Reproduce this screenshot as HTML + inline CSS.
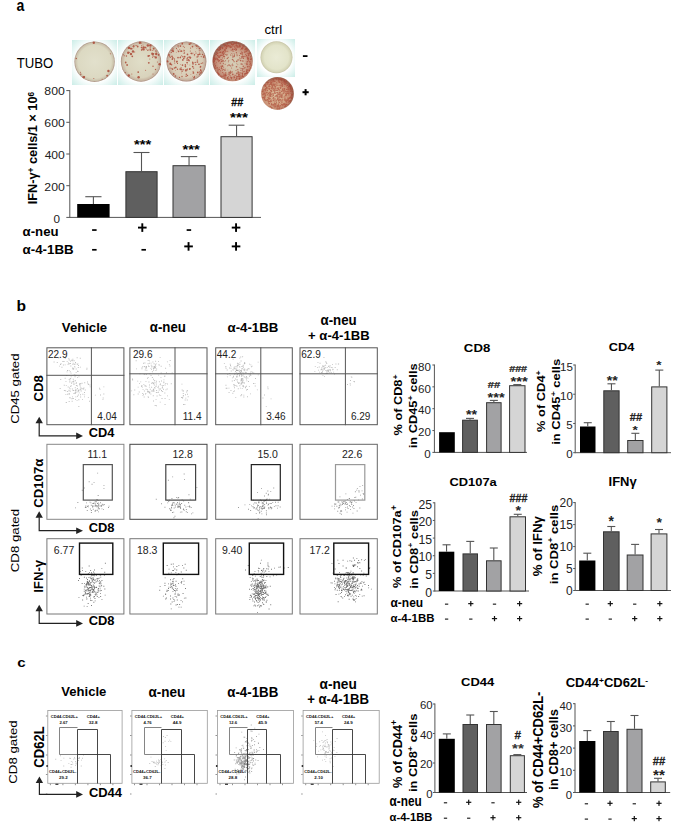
<!DOCTYPE html><html><head><meta charset="utf-8"><style>
html,body{margin:0;padding:0;background:#fff;width:676px;height:827px;overflow:hidden}
svg{display:block}
text{font-family:"Liberation Sans",sans-serif}
</style></head><body><svg width="676" height="827" viewBox="0 0 676 827">
<defs>
<radialGradient id="wbg" cx="50%" cy="50%" r="72%"><stop offset="60%" stop-color="#ffffff"/><stop offset="100%" stop-color="#c8ece6"/></radialGradient>
<radialGradient id="gneg" cx="50%" cy="50%" r="50%"><stop offset="0%" stop-color="#eaebd6"/><stop offset="75%" stop-color="#e3e4ca"/><stop offset="92%" stop-color="#d6d6b8"/><stop offset="100%" stop-color="#c4c2a4"/></radialGradient>
<radialGradient id="g_few" cx="50%" cy="50%" r="50%"><stop offset="0%" stop-color="#e2e0cc"/><stop offset="82%" stop-color="#dcd9c2"/><stop offset="94%" stop-color="#cbc2ac"/><stop offset="100%" stop-color="#a89080"/></radialGradient>
<radialGradient id="g_mid" cx="50%" cy="50%" r="50%"><stop offset="0%" stop-color="#e0dec8"/><stop offset="80%" stop-color="#d9d3bc"/><stop offset="94%" stop-color="#c8b6a2"/><stop offset="100%" stop-color="#a48878"/></radialGradient>
<radialGradient id="g_many" cx="50%" cy="50%" r="50%"><stop offset="0%" stop-color="#dfd9c3"/><stop offset="80%" stop-color="#d8ccb6"/><stop offset="94%" stop-color="#c6ae9c"/><stop offset="100%" stop-color="#a07e70"/></radialGradient>
<radialGradient id="g_dense" cx="52%" cy="55%" r="50%"><stop offset="0%" stop-color="#d6cfb8"/><stop offset="45%" stop-color="#d2c0a8"/><stop offset="75%" stop-color="#c89882"/><stop offset="92%" stop-color="#bc826c"/><stop offset="100%" stop-color="#9c6858"/></radialGradient>
<radialGradient id="g_pos" cx="45%" cy="55%" r="50%"><stop offset="0%" stop-color="#dcc0a0"/><stop offset="60%" stop-color="#d4a888"/><stop offset="88%" stop-color="#c48a70"/><stop offset="100%" stop-color="#a06450"/></radialGradient>
<filter id="bl" x="-5%" y="-5%" width="110%" height="110%"><feGaussianBlur stdDeviation="0.45"/></filter>
</defs>
<rect x="72" y="40" width="45" height="45" fill="url(#wbg)"/><rect x="118" y="40" width="45" height="45" fill="url(#wbg)"/><rect x="164" y="40" width="45" height="45" fill="url(#wbg)"/><rect x="210" y="40" width="45" height="45" fill="url(#wbg)"/><rect x="257" y="39" width="38" height="38" fill="url(#wbg)"/><circle cx="94.6" cy="61.7" r="20.2" fill="url(#g_few)"/><g fill="#a8402f" opacity="0.8" filter="url(#bl)"><circle cx="107.1" cy="75.7" r="0.9"/><circle cx="80.8" cy="74.2" r="0.7"/><circle cx="108.4" cy="71.0" r="1.2"/><circle cx="84.3" cy="77.2" r="0.7"/><circle cx="93.8" cy="78.5" r="0.5"/><circle cx="80.5" cy="72.2" r="0.5"/><circle cx="76.3" cy="58.5" r="0.7"/><circle cx="84.2" cy="76.8" r="0.9"/><circle cx="110.4" cy="53.8" r="0.5"/><circle cx="102.1" cy="79.3" r="0.5"/><circle cx="93.8" cy="42.8" r="1.2"/><circle cx="83.5" cy="77.1" r="1.2"/></g><circle cx="141.0" cy="61.5" r="20.15" fill="url(#g_mid)"/><g fill="#a8402f" opacity="0.8" filter="url(#bl)"><circle cx="149.8" cy="59.0" r="0.5"/><circle cx="153.6" cy="48.7" r="0.9"/><circle cx="143.5" cy="49.4" r="1.2"/><circle cx="129.3" cy="47.6" r="0.9"/><circle cx="134.7" cy="52.0" r="0.5"/><circle cx="128.8" cy="75.5" r="1.2"/><circle cx="143.0" cy="48.7" r="0.5"/><circle cx="141.4" cy="47.5" r="0.7"/><circle cx="137.7" cy="46.5" r="0.9"/><circle cx="158.6" cy="54.8" r="0.7"/><circle cx="150.2" cy="48.0" r="0.7"/><circle cx="125.7" cy="62.5" r="0.9"/><circle cx="152.8" cy="54.1" r="1.2"/><circle cx="133.9" cy="46.4" r="0.7"/><circle cx="150.5" cy="49.9" r="0.9"/><circle cx="155.8" cy="57.4" r="1.2"/><circle cx="141.6" cy="42.9" r="0.5"/><circle cx="124.3" cy="55.7" r="0.5"/><circle cx="153.0" cy="66.2" r="0.7"/><circle cx="133.8" cy="45.6" r="0.7"/><circle cx="128.9" cy="47.9" r="1.2"/><circle cx="148.3" cy="56.0" r="0.9"/><circle cx="145.6" cy="70.2" r="0.5"/><circle cx="148.8" cy="62.8" r="0.9"/><circle cx="153.0" cy="73.9" r="0.5"/><circle cx="152.6" cy="57.4" r="0.5"/><circle cx="157.4" cy="61.9" r="0.5"/><circle cx="133.8" cy="47.7" r="0.5"/><circle cx="155.9" cy="51.0" r="0.7"/><circle cx="146.4" cy="49.0" r="0.5"/><circle cx="159.6" cy="64.3" r="1.2"/><circle cx="152.2" cy="53.4" r="0.9"/><circle cx="126.4" cy="56.0" r="0.7"/><circle cx="131.0" cy="54.0" r="1.2"/><circle cx="158.4" cy="55.0" r="0.7"/><circle cx="131.7" cy="48.7" r="0.9"/><circle cx="141.7" cy="50.4" r="0.5"/><circle cx="141.4" cy="49.7" r="0.5"/><circle cx="133.0" cy="51.5" r="1.2"/><circle cx="136.1" cy="45.6" r="0.7"/><circle cx="141.5" cy="45.7" r="0.5"/><circle cx="152.8" cy="50.6" r="0.5"/><circle cx="123.4" cy="54.8" r="0.5"/><circle cx="154.2" cy="56.6" r="0.5"/><circle cx="130.4" cy="54.6" r="0.5"/><circle cx="146.0" cy="47.6" r="0.5"/><circle cx="133.1" cy="46.6" r="0.7"/><circle cx="143.5" cy="47.5" r="1.2"/><circle cx="151.9" cy="54.1" r="0.5"/><circle cx="155.5" cy="69.5" r="0.7"/><circle cx="147.8" cy="45.5" r="1.2"/><circle cx="138.2" cy="72.1" r="0.9"/><circle cx="139.9" cy="42.8" r="1.2"/><circle cx="153.0" cy="56.0" r="0.7"/><circle cx="143.0" cy="44.9" r="0.5"/><circle cx="132.3" cy="56.3" r="0.9"/><circle cx="153.8" cy="48.3" r="0.5"/><circle cx="156.1" cy="52.1" r="0.5"/><circle cx="130.7" cy="48.6" r="0.9"/><circle cx="128.2" cy="52.8" r="1.2"/><circle cx="147.8" cy="50.2" r="0.7"/><circle cx="127.1" cy="65.0" r="0.9"/><circle cx="129.6" cy="52.3" r="0.5"/><circle cx="149.0" cy="49.7" r="0.5"/><circle cx="150.4" cy="45.4" r="1.2"/><circle cx="150.4" cy="45.7" r="0.5"/><circle cx="141.9" cy="49.3" r="0.7"/><circle cx="125.4" cy="72.4" r="0.5"/><circle cx="153.7" cy="53.8" r="0.7"/><circle cx="156.2" cy="54.0" r="1.2"/><circle cx="149.4" cy="55.8" r="0.7"/><circle cx="138.6" cy="77.3" r="1.2"/><circle cx="145.1" cy="47.5" r="0.9"/><circle cx="150.6" cy="45.2" r="0.5"/><circle cx="131.8" cy="74.1" r="0.5"/></g><circle cx="186.4" cy="61.5" r="20.0" fill="url(#g_many)"/><g fill="#a8402f" opacity="0.8" filter="url(#bl)"><circle cx="187.5" cy="75.5" r="0.7"/><circle cx="197.7" cy="54.9" r="0.4"/><circle cx="172.1" cy="50.3" r="0.85"/><circle cx="185.9" cy="70.7" r="0.85"/><circle cx="172.8" cy="57.9" r="0.85"/><circle cx="181.7" cy="55.8" r="0.55"/><circle cx="195.7" cy="51.4" r="0.4"/><circle cx="184.1" cy="57.3" r="0.4"/><circle cx="185.3" cy="64.7" r="0.7"/><circle cx="170.5" cy="64.2" r="0.85"/><circle cx="182.3" cy="43.7" r="0.85"/><circle cx="184.4" cy="47.2" r="0.55"/><circle cx="190.7" cy="57.4" r="0.55"/><circle cx="176.8" cy="61.8" r="0.85"/><circle cx="189.6" cy="44.2" r="0.85"/><circle cx="174.6" cy="61.0" r="0.7"/><circle cx="174.5" cy="58.9" r="0.55"/><circle cx="199.3" cy="52.6" r="0.4"/><circle cx="198.1" cy="46.7" r="0.55"/><circle cx="183.0" cy="51.2" r="0.4"/><circle cx="184.4" cy="53.0" r="0.7"/><circle cx="185.4" cy="66.2" r="0.85"/><circle cx="200.8" cy="70.5" r="0.85"/><circle cx="188.6" cy="59.9" r="0.85"/><circle cx="188.5" cy="43.9" r="0.4"/><circle cx="173.3" cy="51.3" r="0.85"/><circle cx="184.2" cy="50.8" r="0.7"/><circle cx="167.4" cy="60.9" r="0.7"/><circle cx="192.6" cy="61.8" r="0.4"/><circle cx="204.2" cy="55.6" r="0.7"/><circle cx="180.6" cy="56.7" r="0.4"/><circle cx="197.4" cy="60.1" r="0.7"/><circle cx="203.8" cy="56.9" r="0.85"/><circle cx="173.7" cy="73.9" r="0.85"/><circle cx="177.3" cy="50.0" r="0.4"/><circle cx="173.0" cy="48.9" r="0.7"/><circle cx="171.8" cy="68.3" r="0.55"/><circle cx="198.0" cy="56.6" r="0.7"/><circle cx="172.5" cy="59.6" r="0.4"/><circle cx="190.9" cy="43.2" r="0.7"/><circle cx="201.2" cy="63.4" r="0.55"/><circle cx="200.4" cy="67.0" r="0.85"/><circle cx="175.4" cy="76.0" r="0.7"/><circle cx="186.2" cy="58.7" r="0.4"/><circle cx="189.1" cy="60.7" r="0.7"/><circle cx="186.3" cy="74.3" r="0.7"/><circle cx="190.0" cy="68.8" r="0.7"/><circle cx="191.8" cy="53.4" r="0.85"/><circle cx="199.9" cy="72.0" r="0.55"/><circle cx="183.1" cy="69.8" r="0.7"/><circle cx="187.0" cy="69.7" r="0.85"/><circle cx="182.9" cy="56.7" r="0.7"/><circle cx="201.2" cy="56.6" r="0.55"/><circle cx="170.1" cy="68.1" r="0.55"/><circle cx="200.7" cy="69.4" r="0.55"/><circle cx="196.0" cy="53.1" r="0.55"/><circle cx="187.2" cy="58.1" r="0.55"/><circle cx="179.5" cy="77.4" r="0.55"/><circle cx="193.7" cy="53.1" r="0.4"/><circle cx="190.3" cy="51.0" r="0.55"/><circle cx="174.4" cy="68.0" r="0.7"/><circle cx="171.6" cy="64.8" r="0.7"/><circle cx="175.8" cy="67.4" r="0.85"/><circle cx="187.1" cy="62.6" r="0.85"/><circle cx="168.8" cy="54.7" r="0.55"/><circle cx="199.0" cy="64.1" r="0.7"/><circle cx="169.2" cy="56.6" r="0.4"/><circle cx="198.1" cy="46.9" r="0.4"/><circle cx="187.9" cy="57.8" r="0.55"/><circle cx="200.7" cy="50.6" r="0.4"/><circle cx="202.7" cy="62.9" r="0.55"/><circle cx="177.1" cy="61.3" r="0.4"/><circle cx="174.3" cy="59.6" r="0.4"/><circle cx="181.2" cy="69.5" r="0.85"/><circle cx="188.2" cy="57.1" r="0.55"/><circle cx="190.9" cy="74.6" r="0.4"/><circle cx="194.4" cy="76.4" r="0.55"/><circle cx="187.1" cy="60.0" r="0.85"/><circle cx="195.8" cy="64.6" r="0.7"/><circle cx="176.3" cy="52.2" r="0.4"/><circle cx="169.9" cy="64.3" r="0.4"/><circle cx="196.8" cy="48.4" r="0.4"/><circle cx="189.9" cy="65.0" r="0.4"/><circle cx="189.8" cy="57.1" r="0.85"/><circle cx="182.1" cy="71.3" r="0.7"/><circle cx="177.5" cy="69.3" r="0.7"/><circle cx="181.1" cy="67.9" r="0.7"/><circle cx="180.3" cy="64.4" r="0.4"/><circle cx="183.9" cy="50.0" r="0.4"/><circle cx="182.8" cy="59.9" r="0.85"/><circle cx="173.1" cy="51.2" r="0.85"/><circle cx="183.8" cy="58.5" r="0.85"/><circle cx="200.6" cy="66.4" r="0.7"/><circle cx="172.5" cy="69.1" r="0.85"/><circle cx="195.2" cy="62.5" r="0.7"/><circle cx="184.7" cy="56.7" r="0.85"/><circle cx="187.5" cy="68.3" r="0.4"/><circle cx="197.1" cy="57.0" r="0.7"/><circle cx="197.8" cy="72.4" r="0.85"/><circle cx="178.3" cy="47.4" r="0.4"/><circle cx="192.5" cy="46.6" r="0.85"/><circle cx="196.8" cy="74.6" r="0.4"/><circle cx="172.3" cy="59.1" r="0.85"/><circle cx="187.7" cy="64.1" r="0.4"/><circle cx="192.8" cy="62.5" r="0.85"/><circle cx="196.0" cy="45.6" r="0.7"/><circle cx="187.5" cy="58.0" r="0.55"/><circle cx="199.3" cy="71.7" r="0.4"/><circle cx="169.6" cy="56.0" r="0.55"/><circle cx="190.8" cy="53.3" r="0.55"/><circle cx="178.6" cy="51.3" r="0.85"/><circle cx="186.1" cy="76.2" r="0.7"/><circle cx="168.9" cy="55.0" r="0.85"/><circle cx="167.7" cy="61.5" r="0.85"/><circle cx="196.8" cy="46.0" r="0.85"/><circle cx="180.4" cy="46.1" r="0.85"/><circle cx="193.1" cy="71.5" r="0.55"/><circle cx="193.4" cy="72.9" r="0.85"/><circle cx="198.2" cy="54.7" r="0.85"/><circle cx="171.3" cy="52.4" r="0.55"/><circle cx="185.5" cy="69.9" r="0.7"/><circle cx="202.5" cy="54.5" r="0.7"/><circle cx="178.1" cy="46.0" r="0.7"/><circle cx="194.5" cy="54.8" r="0.7"/><circle cx="174.7" cy="63.0" r="0.55"/><circle cx="178.0" cy="57.6" r="0.85"/><circle cx="187.5" cy="54.4" r="0.85"/><circle cx="183.8" cy="53.3" r="0.4"/><circle cx="170.4" cy="63.4" r="0.85"/><circle cx="190.1" cy="44.0" r="0.4"/><circle cx="177.5" cy="63.4" r="0.55"/><circle cx="176.4" cy="48.1" r="0.4"/><circle cx="203.4" cy="57.0" r="0.55"/><circle cx="199.3" cy="50.8" r="0.55"/><circle cx="192.5" cy="76.2" r="0.4"/><circle cx="194.2" cy="55.8" r="0.4"/><circle cx="181.6" cy="72.9" r="0.4"/><circle cx="193.6" cy="68.1" r="0.7"/><circle cx="198.9" cy="64.4" r="0.7"/><circle cx="197.4" cy="62.0" r="0.85"/><circle cx="182.5" cy="65.1" r="0.85"/><circle cx="175.5" cy="70.4" r="0.4"/><circle cx="190.3" cy="58.0" r="0.85"/><circle cx="200.0" cy="73.1" r="0.7"/><circle cx="201.5" cy="72.0" r="0.7"/><circle cx="181.4" cy="51.1" r="0.85"/><circle cx="182.0" cy="76.5" r="0.7"/><circle cx="200.8" cy="73.0" r="0.7"/><circle cx="179.9" cy="49.2" r="0.4"/><circle cx="179.6" cy="49.8" r="0.4"/><circle cx="183.3" cy="46.2" r="0.55"/><circle cx="176.5" cy="48.6" r="0.55"/><circle cx="194.1" cy="77.7" r="0.85"/><circle cx="199.5" cy="74.3" r="0.55"/><circle cx="199.8" cy="54.2" r="0.85"/><circle cx="172.0" cy="56.3" r="0.85"/><circle cx="169.7" cy="63.4" r="0.4"/><circle cx="192.7" cy="66.6" r="0.85"/><circle cx="180.2" cy="69.1" r="0.85"/><circle cx="193.0" cy="63.8" r="0.85"/><circle cx="177.0" cy="61.2" r="0.7"/><circle cx="199.5" cy="48.5" r="0.85"/><circle cx="170.3" cy="57.2" r="0.7"/><circle cx="167.4" cy="61.7" r="0.55"/><circle cx="185.6" cy="67.4" r="0.4"/><circle cx="169.7" cy="54.4" r="0.4"/><circle cx="189.7" cy="69.1" r="0.85"/><circle cx="180.7" cy="51.1" r="0.55"/><circle cx="180.3" cy="57.5" r="0.85"/><circle cx="190.6" cy="48.1" r="0.55"/></g><circle cx="232.6" cy="61.1" r="20.2" fill="url(#g_dense)"/><g fill="#a8402f" opacity="0.7" filter="url(#bl)"><circle cx="234.0" cy="76.5" r="0.55"/><circle cx="246.6" cy="70.0" r="0.65"/><circle cx="234.4" cy="55.7" r="0.65"/><circle cx="230.5" cy="73.3" r="0.55"/><circle cx="248.7" cy="55.1" r="0.65"/><circle cx="237.2" cy="47.1" r="0.65"/><circle cx="247.5" cy="70.1" r="0.55"/><circle cx="237.9" cy="72.0" r="0.65"/><circle cx="250.2" cy="61.9" r="0.65"/><circle cx="241.6" cy="48.4" r="0.65"/><circle cx="219.3" cy="67.3" r="0.45"/><circle cx="249.3" cy="70.5" r="0.8"/><circle cx="227.3" cy="44.5" r="0.45"/><circle cx="218.0" cy="70.0" r="0.65"/><circle cx="239.4" cy="76.5" r="0.55"/><circle cx="242.2" cy="54.5" r="0.55"/><circle cx="229.4" cy="79.3" r="0.45"/><circle cx="224.8" cy="75.0" r="0.45"/><circle cx="220.8" cy="76.0" r="0.65"/><circle cx="232.4" cy="59.5" r="0.65"/><circle cx="225.1" cy="76.6" r="0.45"/><circle cx="228.3" cy="76.3" r="0.55"/><circle cx="232.6" cy="74.2" r="0.45"/><circle cx="222.7" cy="72.6" r="0.65"/><circle cx="248.4" cy="60.8" r="0.55"/><circle cx="222.3" cy="66.4" r="0.45"/><circle cx="231.1" cy="42.1" r="0.45"/><circle cx="218.4" cy="56.9" r="0.45"/><circle cx="245.5" cy="73.6" r="0.8"/><circle cx="224.7" cy="50.0" r="0.8"/><circle cx="219.4" cy="69.4" r="0.55"/><circle cx="224.3" cy="50.1" r="0.55"/><circle cx="246.4" cy="63.9" r="0.55"/><circle cx="234.6" cy="47.0" r="0.65"/><circle cx="241.2" cy="64.0" r="0.8"/><circle cx="250.6" cy="56.8" r="0.45"/><circle cx="218.9" cy="61.6" r="0.55"/><circle cx="223.2" cy="76.6" r="0.65"/><circle cx="239.4" cy="45.2" r="0.65"/><circle cx="224.0" cy="74.9" r="0.65"/><circle cx="243.5" cy="58.4" r="0.55"/><circle cx="234.5" cy="42.8" r="0.55"/><circle cx="226.5" cy="46.3" r="0.8"/><circle cx="241.3" cy="56.8" r="0.55"/><circle cx="236.7" cy="61.4" r="0.8"/><circle cx="246.0" cy="48.2" r="0.55"/><circle cx="242.2" cy="76.6" r="0.8"/><circle cx="242.9" cy="55.0" r="0.45"/><circle cx="223.2" cy="61.8" r="0.55"/><circle cx="250.5" cy="65.9" r="0.45"/><circle cx="229.2" cy="72.4" r="0.8"/><circle cx="227.6" cy="65.7" r="0.55"/><circle cx="233.0" cy="53.4" r="0.45"/><circle cx="246.6" cy="73.3" r="0.8"/><circle cx="218.9" cy="69.1" r="0.55"/><circle cx="227.1" cy="54.7" r="0.45"/><circle cx="238.1" cy="43.4" r="0.55"/><circle cx="227.6" cy="43.3" r="0.65"/><circle cx="222.7" cy="58.4" r="0.45"/><circle cx="225.2" cy="51.1" r="0.8"/><circle cx="217.2" cy="58.5" r="0.65"/><circle cx="225.1" cy="70.5" r="0.45"/><circle cx="226.1" cy="47.9" r="0.8"/><circle cx="236.4" cy="42.6" r="0.8"/><circle cx="222.8" cy="52.7" r="0.65"/><circle cx="248.3" cy="59.7" r="0.55"/><circle cx="226.1" cy="48.2" r="0.65"/><circle cx="235.8" cy="70.5" r="0.45"/><circle cx="249.1" cy="69.8" r="0.65"/><circle cx="224.3" cy="49.0" r="0.45"/><circle cx="218.4" cy="50.3" r="0.45"/><circle cx="236.3" cy="49.9" r="0.55"/><circle cx="236.7" cy="70.1" r="0.45"/><circle cx="232.9" cy="57.0" r="0.8"/><circle cx="224.9" cy="45.9" r="0.65"/><circle cx="243.8" cy="46.3" r="0.55"/><circle cx="244.3" cy="52.2" r="0.55"/><circle cx="232.2" cy="44.7" r="0.8"/><circle cx="245.1" cy="51.9" r="0.65"/><circle cx="230.4" cy="71.1" r="0.55"/><circle cx="245.9" cy="51.1" r="0.65"/><circle cx="223.7" cy="67.2" r="0.45"/><circle cx="223.3" cy="63.6" r="0.65"/><circle cx="222.9" cy="53.7" r="0.65"/><circle cx="216.6" cy="62.8" r="0.45"/><circle cx="241.3" cy="72.9" r="0.45"/><circle cx="237.8" cy="69.7" r="0.65"/><circle cx="250.3" cy="63.2" r="0.55"/><circle cx="245.0" cy="63.6" r="0.45"/><circle cx="244.9" cy="49.4" r="0.55"/><circle cx="230.4" cy="42.3" r="0.45"/><circle cx="216.2" cy="54.6" r="0.55"/><circle cx="214.2" cy="60.8" r="0.8"/><circle cx="219.4" cy="60.5" r="0.65"/><circle cx="218.0" cy="59.7" r="0.8"/><circle cx="225.2" cy="74.9" r="0.45"/><circle cx="230.0" cy="75.5" r="0.55"/><circle cx="247.2" cy="69.8" r="0.45"/><circle cx="234.4" cy="77.1" r="0.55"/><circle cx="245.9" cy="49.4" r="0.8"/><circle cx="224.1" cy="75.2" r="0.55"/><circle cx="247.2" cy="72.8" r="0.65"/><circle cx="239.7" cy="57.8" r="0.45"/><circle cx="239.8" cy="46.0" r="0.65"/><circle cx="236.5" cy="43.2" r="0.45"/><circle cx="241.5" cy="53.9" r="0.45"/><circle cx="217.5" cy="49.4" r="0.65"/><circle cx="242.7" cy="56.2" r="0.55"/><circle cx="247.1" cy="64.7" r="0.55"/><circle cx="226.3" cy="43.1" r="0.45"/><circle cx="245.6" cy="67.3" r="0.45"/><circle cx="233.6" cy="60.3" r="0.55"/><circle cx="236.7" cy="78.4" r="0.65"/><circle cx="238.8" cy="47.0" r="0.8"/><circle cx="251.2" cy="65.1" r="0.65"/><circle cx="219.9" cy="56.1" r="0.8"/><circle cx="225.6" cy="75.6" r="0.8"/><circle cx="248.9" cy="53.7" r="0.8"/><circle cx="240.0" cy="58.7" r="0.55"/><circle cx="232.2" cy="71.9" r="0.65"/><circle cx="219.3" cy="50.2" r="0.65"/><circle cx="236.8" cy="63.7" r="0.45"/><circle cx="230.8" cy="55.3" r="0.55"/><circle cx="242.3" cy="53.2" r="0.65"/><circle cx="246.2" cy="61.8" r="0.45"/><circle cx="232.8" cy="65.2" r="0.65"/><circle cx="227.6" cy="77.7" r="0.45"/><circle cx="226.5" cy="51.3" r="0.45"/><circle cx="233.0" cy="51.1" r="0.65"/><circle cx="247.1" cy="64.3" r="0.65"/><circle cx="250.4" cy="59.6" r="0.45"/><circle cx="242.2" cy="58.4" r="0.45"/><circle cx="223.9" cy="44.5" r="0.8"/><circle cx="242.8" cy="68.9" r="0.8"/><circle cx="220.7" cy="52.3" r="0.8"/><circle cx="232.2" cy="50.6" r="0.45"/><circle cx="238.7" cy="74.4" r="0.65"/><circle cx="217.3" cy="53.5" r="0.65"/><circle cx="223.3" cy="69.4" r="0.55"/><circle cx="239.6" cy="78.9" r="0.55"/><circle cx="247.1" cy="63.0" r="0.65"/><circle cx="242.9" cy="56.9" r="0.65"/><circle cx="234.1" cy="56.4" r="0.8"/><circle cx="225.3" cy="54.5" r="0.55"/><circle cx="214.8" cy="67.2" r="0.8"/><circle cx="236.7" cy="77.5" r="0.45"/><circle cx="247.6" cy="49.4" r="0.45"/><circle cx="239.7" cy="76.5" r="0.45"/><circle cx="230.1" cy="45.5" r="0.55"/><circle cx="220.4" cy="49.4" r="0.55"/><circle cx="216.9" cy="67.9" r="0.55"/><circle cx="231.2" cy="50.1" r="0.65"/><circle cx="231.8" cy="77.6" r="0.55"/><circle cx="229.0" cy="65.1" r="0.8"/><circle cx="240.7" cy="46.1" r="0.55"/><circle cx="250.2" cy="59.7" r="0.45"/><circle cx="214.3" cy="56.6" r="0.45"/><circle cx="236.2" cy="45.0" r="0.65"/><circle cx="219.5" cy="48.0" r="0.65"/><circle cx="236.3" cy="75.1" r="0.45"/><circle cx="244.5" cy="51.0" r="0.45"/><circle cx="221.9" cy="76.5" r="0.65"/><circle cx="243.3" cy="66.3" r="0.8"/><circle cx="235.9" cy="47.9" r="0.55"/><circle cx="240.4" cy="44.0" r="0.45"/><circle cx="242.3" cy="61.0" r="0.65"/><circle cx="221.0" cy="59.7" r="0.65"/><circle cx="224.5" cy="46.9" r="0.45"/><circle cx="226.8" cy="46.5" r="0.55"/><circle cx="239.4" cy="55.6" r="0.65"/><circle cx="224.0" cy="46.6" r="0.45"/><circle cx="223.6" cy="54.4" r="0.65"/><circle cx="218.5" cy="57.0" r="0.65"/><circle cx="247.4" cy="57.7" r="0.8"/><circle cx="232.8" cy="74.4" r="0.8"/><circle cx="243.3" cy="61.0" r="0.55"/><circle cx="231.4" cy="77.8" r="0.8"/><circle cx="244.9" cy="56.5" r="0.65"/><circle cx="242.3" cy="47.8" r="0.65"/><circle cx="232.0" cy="66.0" r="0.45"/><circle cx="237.1" cy="55.8" r="0.55"/><circle cx="241.1" cy="78.3" r="0.45"/><circle cx="213.9" cy="58.6" r="0.55"/><circle cx="235.8" cy="79.8" r="0.8"/><circle cx="218.3" cy="73.5" r="0.8"/><circle cx="228.0" cy="78.6" r="0.45"/><circle cx="238.7" cy="75.2" r="0.55"/><circle cx="217.4" cy="67.8" r="0.65"/><circle cx="223.0" cy="75.6" r="0.45"/><circle cx="223.9" cy="73.7" r="0.55"/><circle cx="224.6" cy="61.6" r="0.45"/><circle cx="220.6" cy="70.7" r="0.55"/><circle cx="232.7" cy="48.8" r="0.55"/><circle cx="215.4" cy="65.9" r="0.8"/><circle cx="224.9" cy="78.1" r="0.8"/><circle cx="247.0" cy="50.2" r="0.65"/><circle cx="240.7" cy="53.6" r="0.8"/><circle cx="215.6" cy="68.5" r="0.55"/><circle cx="245.9" cy="54.3" r="0.45"/><circle cx="221.8" cy="59.7" r="0.55"/><circle cx="228.2" cy="57.3" r="0.65"/><circle cx="247.2" cy="53.5" r="0.45"/><circle cx="221.5" cy="61.5" r="0.8"/><circle cx="234.1" cy="43.4" r="0.65"/><circle cx="236.9" cy="73.4" r="0.8"/><circle cx="234.3" cy="49.3" r="0.8"/><circle cx="231.7" cy="44.8" r="0.45"/><circle cx="231.9" cy="46.9" r="0.55"/><circle cx="246.2" cy="48.8" r="0.8"/><circle cx="239.0" cy="59.2" r="0.45"/><circle cx="247.6" cy="61.3" r="0.65"/><circle cx="236.4" cy="52.7" r="0.65"/><circle cx="235.6" cy="50.5" r="0.45"/><circle cx="230.1" cy="47.4" r="0.45"/><circle cx="219.6" cy="57.4" r="0.55"/><circle cx="213.7" cy="59.5" r="0.8"/><circle cx="225.4" cy="74.8" r="0.55"/><circle cx="230.8" cy="54.3" r="0.45"/><circle cx="224.0" cy="53.4" r="0.65"/><circle cx="247.2" cy="50.6" r="0.45"/><circle cx="236.9" cy="76.7" r="0.8"/><circle cx="225.5" cy="68.9" r="0.45"/><circle cx="242.9" cy="46.0" r="0.8"/><circle cx="215.1" cy="59.7" r="0.55"/><circle cx="242.4" cy="73.6" r="0.8"/><circle cx="242.8" cy="47.9" r="0.55"/><circle cx="242.9" cy="47.9" r="0.65"/><circle cx="217.7" cy="72.2" r="0.65"/><circle cx="235.4" cy="48.8" r="0.55"/><circle cx="241.9" cy="57.1" r="0.8"/><circle cx="225.5" cy="49.7" r="0.55"/><circle cx="216.1" cy="54.3" r="0.65"/><circle cx="249.7" cy="64.5" r="0.45"/><circle cx="230.7" cy="71.6" r="0.55"/><circle cx="244.1" cy="71.4" r="0.65"/><circle cx="249.5" cy="61.8" r="0.55"/><circle cx="231.1" cy="43.5" r="0.55"/><circle cx="240.8" cy="49.7" r="0.55"/><circle cx="225.7" cy="73.0" r="0.8"/><circle cx="248.5" cy="55.1" r="0.65"/><circle cx="216.9" cy="52.7" r="0.65"/><circle cx="227.9" cy="70.0" r="0.45"/><circle cx="237.5" cy="47.7" r="0.45"/><circle cx="228.6" cy="45.8" r="0.8"/><circle cx="227.9" cy="47.6" r="0.45"/><circle cx="222.1" cy="53.3" r="0.55"/><circle cx="227.7" cy="51.3" r="0.55"/><circle cx="223.4" cy="51.6" r="0.8"/><circle cx="229.2" cy="46.1" r="0.65"/><circle cx="222.5" cy="65.4" r="0.45"/><circle cx="235.8" cy="43.6" r="0.45"/><circle cx="215.0" cy="57.6" r="0.45"/><circle cx="245.0" cy="73.8" r="0.8"/><circle cx="237.6" cy="46.1" r="0.8"/><circle cx="221.3" cy="55.2" r="0.8"/><circle cx="221.6" cy="68.4" r="0.8"/><circle cx="216.2" cy="58.0" r="0.55"/><circle cx="242.4" cy="74.2" r="0.55"/><circle cx="249.5" cy="68.1" r="0.45"/><circle cx="246.7" cy="51.5" r="0.55"/><circle cx="248.0" cy="59.0" r="0.8"/><circle cx="238.5" cy="71.3" r="0.45"/><circle cx="244.5" cy="74.8" r="0.65"/><circle cx="222.3" cy="57.3" r="0.45"/><circle cx="220.8" cy="47.8" r="0.8"/><circle cx="239.7" cy="74.3" r="0.65"/><circle cx="231.5" cy="77.8" r="0.55"/><circle cx="221.6" cy="66.5" r="0.45"/><circle cx="237.8" cy="64.8" r="0.45"/><circle cx="248.4" cy="58.3" r="0.8"/><circle cx="223.8" cy="56.5" r="0.8"/><circle cx="217.6" cy="59.7" r="0.65"/><circle cx="225.0" cy="45.4" r="0.55"/><circle cx="227.6" cy="77.9" r="0.8"/><circle cx="231.5" cy="77.5" r="0.45"/><circle cx="225.6" cy="74.6" r="0.65"/><circle cx="242.2" cy="72.9" r="0.45"/><circle cx="240.5" cy="60.6" r="0.8"/><circle cx="229.4" cy="74.0" r="0.8"/><circle cx="235.1" cy="75.3" r="0.65"/><circle cx="232.6" cy="55.0" r="0.55"/><circle cx="237.4" cy="76.6" r="0.55"/><circle cx="234.1" cy="61.7" r="0.65"/><circle cx="217.5" cy="72.4" r="0.45"/><circle cx="220.0" cy="52.5" r="0.65"/><circle cx="232.3" cy="44.8" r="0.45"/><circle cx="217.8" cy="55.6" r="0.8"/><circle cx="238.4" cy="74.7" r="0.55"/><circle cx="236.9" cy="54.0" r="0.55"/><circle cx="250.0" cy="53.1" r="0.8"/><circle cx="238.7" cy="76.5" r="0.65"/><circle cx="240.2" cy="72.9" r="0.65"/><circle cx="243.1" cy="76.5" r="0.8"/><circle cx="242.5" cy="55.9" r="0.45"/><circle cx="229.8" cy="65.2" r="0.45"/><circle cx="230.8" cy="47.6" r="0.55"/><circle cx="219.1" cy="50.0" r="0.65"/><circle cx="243.3" cy="68.1" r="0.45"/><circle cx="240.8" cy="77.8" r="0.45"/><circle cx="225.6" cy="45.4" r="0.8"/><circle cx="220.3" cy="63.2" r="0.65"/><circle cx="251.5" cy="59.0" r="0.65"/><circle cx="250.5" cy="67.9" r="0.65"/><circle cx="234.5" cy="54.1" r="0.65"/><circle cx="222.7" cy="47.9" r="0.8"/><circle cx="236.2" cy="45.9" r="0.8"/><circle cx="224.6" cy="58.2" r="0.45"/><circle cx="215.9" cy="59.2" r="0.8"/><circle cx="224.3" cy="56.6" r="0.8"/><circle cx="228.2" cy="42.5" r="0.55"/><circle cx="228.8" cy="60.2" r="0.55"/><circle cx="231.0" cy="47.1" r="0.8"/><circle cx="239.9" cy="67.8" r="0.45"/><circle cx="231.6" cy="53.5" r="0.45"/><circle cx="234.7" cy="77.6" r="0.55"/><circle cx="232.5" cy="49.4" r="0.55"/><circle cx="233.1" cy="46.5" r="0.45"/><circle cx="222.6" cy="66.2" r="0.8"/><circle cx="247.8" cy="58.8" r="0.8"/><circle cx="226.8" cy="55.0" r="0.65"/><circle cx="228.7" cy="74.0" r="0.55"/><circle cx="239.5" cy="46.0" r="0.8"/><circle cx="225.9" cy="74.8" r="0.55"/><circle cx="239.4" cy="43.7" r="0.45"/><circle cx="219.3" cy="56.8" r="0.45"/><circle cx="220.2" cy="49.1" r="0.8"/><circle cx="215.7" cy="58.8" r="0.55"/><circle cx="233.4" cy="49.1" r="0.45"/><circle cx="239.8" cy="78.5" r="0.45"/><circle cx="228.4" cy="61.8" r="0.55"/><circle cx="238.0" cy="60.0" r="0.8"/><circle cx="231.6" cy="68.0" r="0.55"/><circle cx="242.0" cy="52.4" r="0.55"/><circle cx="231.3" cy="64.9" r="0.45"/><circle cx="231.4" cy="78.7" r="0.55"/><circle cx="239.8" cy="78.0" r="0.45"/><circle cx="240.0" cy="47.0" r="0.55"/><circle cx="229.3" cy="42.3" r="0.65"/><circle cx="246.6" cy="55.7" r="0.8"/><circle cx="217.7" cy="72.1" r="0.45"/><circle cx="235.8" cy="43.1" r="0.65"/><circle cx="224.7" cy="76.1" r="0.55"/><circle cx="228.1" cy="79.0" r="0.55"/><circle cx="222.4" cy="70.1" r="0.55"/><circle cx="230.2" cy="47.0" r="0.8"/><circle cx="231.6" cy="42.9" r="0.45"/><circle cx="247.3" cy="72.5" r="0.8"/><circle cx="244.5" cy="67.9" r="0.65"/><circle cx="221.0" cy="66.2" r="0.55"/><circle cx="227.1" cy="46.1" r="0.8"/><circle cx="227.6" cy="58.4" r="0.55"/><circle cx="242.0" cy="48.9" r="0.8"/><circle cx="213.9" cy="58.3" r="0.65"/><circle cx="230.4" cy="77.1" r="0.55"/><circle cx="241.1" cy="68.5" r="0.65"/><circle cx="233.9" cy="77.8" r="0.55"/><circle cx="241.1" cy="58.6" r="0.55"/><circle cx="214.8" cy="64.0" r="0.65"/><circle cx="246.6" cy="71.4" r="0.8"/><circle cx="240.8" cy="70.2" r="0.55"/><circle cx="218.7" cy="74.1" r="0.65"/><circle cx="232.9" cy="45.3" r="0.45"/><circle cx="247.6" cy="66.8" r="0.8"/><circle cx="238.7" cy="72.9" r="0.8"/><circle cx="250.5" cy="59.2" r="0.65"/><circle cx="243.2" cy="56.7" r="0.8"/><circle cx="223.0" cy="60.5" r="0.8"/><circle cx="236.3" cy="49.4" r="0.8"/><circle cx="242.3" cy="75.5" r="0.65"/><circle cx="242.2" cy="64.2" r="0.65"/><circle cx="214.3" cy="58.1" r="0.8"/><circle cx="213.8" cy="57.7" r="0.45"/><circle cx="241.3" cy="51.7" r="0.45"/><circle cx="222.9" cy="55.2" r="0.8"/><circle cx="222.5" cy="48.6" r="0.65"/><circle cx="225.2" cy="64.3" r="0.55"/><circle cx="242.3" cy="70.2" r="0.65"/><circle cx="218.7" cy="53.0" r="0.45"/><circle cx="228.0" cy="74.1" r="0.45"/><circle cx="224.9" cy="52.6" r="0.55"/><circle cx="218.5" cy="60.9" r="0.55"/><circle cx="220.6" cy="55.3" r="0.65"/><circle cx="243.0" cy="71.8" r="0.65"/><circle cx="247.9" cy="56.8" r="0.55"/><circle cx="222.0" cy="61.4" r="0.55"/><circle cx="225.5" cy="60.7" r="0.55"/><circle cx="250.6" cy="63.9" r="0.55"/><circle cx="229.9" cy="46.3" r="0.55"/><circle cx="220.2" cy="46.9" r="0.55"/><circle cx="213.7" cy="62.3" r="0.65"/><circle cx="232.5" cy="64.0" r="0.55"/><circle cx="234.0" cy="45.7" r="0.45"/><circle cx="233.1" cy="60.0" r="0.55"/><circle cx="230.4" cy="65.9" r="0.55"/><circle cx="250.5" cy="57.0" r="0.45"/><circle cx="226.4" cy="75.4" r="0.45"/><circle cx="222.1" cy="65.8" r="0.65"/><circle cx="239.3" cy="78.3" r="0.8"/><circle cx="214.0" cy="61.4" r="0.8"/><circle cx="226.4" cy="45.9" r="0.55"/><circle cx="230.8" cy="72.6" r="0.8"/><circle cx="239.0" cy="76.1" r="0.45"/><circle cx="224.8" cy="70.0" r="0.65"/><circle cx="214.9" cy="58.9" r="0.65"/><circle cx="245.6" cy="54.5" r="0.45"/><circle cx="226.4" cy="48.6" r="0.55"/><circle cx="231.6" cy="44.3" r="0.55"/><circle cx="221.4" cy="67.2" r="0.55"/><circle cx="237.1" cy="55.0" r="0.55"/><circle cx="233.8" cy="51.1" r="0.45"/><circle cx="219.2" cy="74.5" r="0.65"/><circle cx="226.9" cy="58.7" r="0.45"/><circle cx="236.5" cy="66.7" r="0.8"/><circle cx="249.1" cy="66.3" r="0.65"/><circle cx="228.1" cy="45.7" r="0.8"/><circle cx="240.0" cy="76.1" r="0.8"/><circle cx="233.5" cy="44.3" r="0.8"/><circle cx="222.5" cy="52.3" r="0.8"/><circle cx="214.4" cy="55.6" r="0.55"/><circle cx="241.1" cy="77.2" r="0.45"/></g><circle cx="276.5" cy="57.3" r="16.0" fill="url(#gneg)"/><circle cx="277.5" cy="93.5" r="16.4" fill="url(#g_pos)"/><g fill="#a8402f" opacity="0.6" filter="url(#bl)"><circle cx="281.3" cy="79.9" r="0.8"/><circle cx="277.7" cy="90.5" r="0.55"/><circle cx="271.9" cy="84.4" r="0.65"/><circle cx="276.5" cy="95.6" r="0.8"/><circle cx="281.8" cy="80.9" r="0.8"/><circle cx="287.2" cy="87.4" r="0.45"/><circle cx="281.6" cy="104.4" r="0.65"/><circle cx="271.2" cy="83.1" r="0.45"/><circle cx="282.5" cy="86.0" r="0.45"/><circle cx="271.0" cy="101.1" r="0.65"/><circle cx="273.0" cy="95.1" r="0.55"/><circle cx="273.3" cy="80.3" r="0.45"/><circle cx="288.9" cy="89.9" r="0.55"/><circle cx="284.5" cy="80.4" r="0.8"/><circle cx="291.1" cy="87.4" r="0.45"/><circle cx="272.3" cy="87.8" r="0.8"/><circle cx="273.5" cy="104.8" r="0.45"/><circle cx="264.7" cy="93.5" r="0.55"/><circle cx="286.9" cy="102.0" r="0.65"/><circle cx="275.6" cy="84.1" r="0.55"/><circle cx="282.1" cy="98.9" r="0.45"/><circle cx="279.9" cy="99.4" r="0.65"/><circle cx="265.6" cy="89.0" r="0.65"/><circle cx="269.5" cy="101.5" r="0.65"/><circle cx="288.4" cy="104.6" r="0.45"/><circle cx="282.2" cy="104.5" r="0.8"/><circle cx="286.0" cy="99.4" r="0.45"/><circle cx="287.4" cy="85.5" r="0.8"/><circle cx="264.1" cy="98.1" r="0.45"/><circle cx="266.9" cy="92.4" r="0.8"/><circle cx="283.9" cy="91.0" r="0.65"/><circle cx="264.9" cy="97.5" r="0.55"/><circle cx="288.8" cy="94.8" r="0.65"/><circle cx="269.6" cy="88.5" r="0.65"/><circle cx="268.6" cy="93.3" r="0.65"/><circle cx="292.4" cy="91.8" r="0.8"/><circle cx="271.4" cy="88.3" r="0.8"/><circle cx="271.4" cy="84.4" r="0.8"/><circle cx="265.1" cy="93.8" r="0.8"/><circle cx="271.9" cy="104.8" r="0.8"/><circle cx="274.8" cy="86.0" r="0.8"/><circle cx="290.6" cy="91.4" r="0.55"/><circle cx="285.2" cy="90.2" r="0.45"/><circle cx="266.6" cy="82.8" r="0.55"/><circle cx="291.0" cy="96.1" r="0.45"/><circle cx="273.6" cy="84.9" r="0.8"/><circle cx="279.9" cy="90.4" r="0.55"/><circle cx="282.1" cy="100.2" r="0.45"/><circle cx="265.3" cy="100.0" r="0.8"/><circle cx="284.2" cy="96.9" r="0.65"/><circle cx="273.7" cy="98.0" r="0.55"/><circle cx="272.9" cy="89.8" r="0.45"/><circle cx="276.8" cy="90.3" r="0.8"/><circle cx="263.1" cy="96.9" r="0.45"/><circle cx="275.8" cy="88.2" r="0.45"/><circle cx="284.1" cy="104.0" r="0.65"/><circle cx="289.8" cy="85.4" r="0.8"/><circle cx="275.3" cy="93.5" r="0.55"/><circle cx="280.3" cy="87.3" r="0.8"/><circle cx="267.3" cy="94.8" r="0.65"/><circle cx="265.8" cy="95.2" r="0.65"/><circle cx="285.8" cy="92.4" r="0.45"/><circle cx="290.0" cy="100.7" r="0.65"/><circle cx="275.9" cy="104.1" r="0.8"/><circle cx="280.0" cy="92.2" r="0.45"/><circle cx="277.5" cy="105.6" r="0.55"/><circle cx="274.8" cy="92.9" r="0.55"/><circle cx="276.1" cy="95.9" r="0.55"/><circle cx="274.7" cy="84.8" r="0.45"/><circle cx="284.5" cy="104.2" r="0.8"/><circle cx="267.3" cy="90.4" r="0.8"/><circle cx="273.9" cy="89.2" r="0.65"/><circle cx="274.8" cy="93.2" r="0.55"/><circle cx="282.9" cy="105.7" r="0.8"/><circle cx="281.9" cy="79.0" r="0.55"/><circle cx="272.0" cy="96.6" r="0.65"/><circle cx="289.2" cy="93.0" r="0.45"/><circle cx="280.2" cy="82.1" r="0.55"/><circle cx="278.4" cy="79.1" r="0.8"/><circle cx="291.8" cy="94.4" r="0.55"/><circle cx="274.9" cy="81.3" r="0.65"/><circle cx="276.6" cy="100.1" r="0.55"/><circle cx="283.8" cy="104.1" r="0.8"/><circle cx="279.0" cy="94.3" r="0.8"/><circle cx="277.8" cy="88.2" r="0.45"/><circle cx="272.0" cy="82.8" r="0.45"/><circle cx="264.2" cy="89.8" r="0.55"/><circle cx="278.6" cy="80.6" r="0.65"/><circle cx="281.1" cy="95.9" r="0.45"/><circle cx="283.7" cy="104.5" r="0.45"/><circle cx="290.1" cy="90.1" r="0.55"/><circle cx="291.7" cy="98.1" r="0.8"/><circle cx="272.6" cy="86.7" r="0.8"/><circle cx="279.1" cy="107.5" r="0.55"/><circle cx="277.2" cy="95.3" r="0.65"/><circle cx="278.3" cy="88.8" r="0.45"/><circle cx="269.1" cy="103.4" r="0.55"/><circle cx="280.0" cy="92.7" r="0.65"/><circle cx="264.4" cy="99.1" r="0.45"/><circle cx="276.0" cy="95.8" r="0.65"/><circle cx="278.2" cy="93.8" r="0.65"/><circle cx="287.7" cy="99.8" r="0.65"/><circle cx="278.2" cy="99.0" r="0.55"/><circle cx="278.1" cy="106.2" r="0.8"/><circle cx="266.1" cy="88.7" r="0.8"/><circle cx="284.6" cy="90.1" r="0.65"/><circle cx="282.7" cy="89.1" r="0.8"/><circle cx="282.7" cy="97.5" r="0.45"/><circle cx="290.8" cy="89.0" r="0.55"/><circle cx="286.2" cy="101.7" r="0.8"/><circle cx="263.0" cy="94.8" r="0.8"/><circle cx="280.2" cy="105.7" r="0.8"/><circle cx="285.9" cy="105.8" r="0.45"/><circle cx="273.4" cy="100.2" r="0.55"/><circle cx="274.8" cy="105.1" r="0.65"/><circle cx="279.8" cy="107.1" r="0.55"/><circle cx="288.2" cy="99.6" r="0.55"/><circle cx="281.7" cy="91.4" r="0.8"/><circle cx="266.0" cy="100.6" r="0.55"/><circle cx="262.4" cy="91.6" r="0.8"/><circle cx="290.4" cy="86.5" r="0.65"/><circle cx="284.0" cy="83.5" r="0.65"/><circle cx="269.3" cy="82.3" r="0.45"/><circle cx="277.3" cy="96.7" r="0.55"/><circle cx="282.2" cy="83.5" r="0.45"/><circle cx="289.7" cy="100.9" r="0.45"/><circle cx="279.4" cy="102.4" r="0.55"/><circle cx="280.5" cy="99.5" r="0.55"/><circle cx="286.0" cy="83.2" r="0.8"/><circle cx="268.0" cy="84.3" r="0.55"/><circle cx="264.1" cy="97.3" r="0.65"/><circle cx="276.0" cy="78.2" r="0.65"/><circle cx="284.4" cy="89.2" r="0.45"/><circle cx="289.2" cy="98.2" r="0.8"/><circle cx="288.0" cy="93.1" r="0.45"/><circle cx="292.2" cy="94.5" r="0.45"/><circle cx="268.3" cy="101.7" r="0.45"/><circle cx="276.4" cy="79.1" r="0.55"/><circle cx="280.5" cy="88.3" r="0.8"/><circle cx="277.0" cy="79.7" r="0.55"/><circle cx="285.8" cy="99.8" r="0.45"/><circle cx="289.3" cy="84.1" r="0.55"/><circle cx="272.8" cy="83.8" r="0.45"/><circle cx="267.7" cy="94.8" r="0.55"/><circle cx="281.8" cy="78.6" r="0.55"/><circle cx="270.2" cy="96.5" r="0.65"/><circle cx="273.9" cy="105.9" r="0.65"/><circle cx="262.7" cy="98.0" r="0.45"/><circle cx="269.7" cy="93.5" r="0.45"/><circle cx="263.6" cy="91.1" r="0.65"/><circle cx="278.9" cy="96.1" r="0.45"/><circle cx="284.9" cy="84.4" r="0.55"/><circle cx="279.6" cy="96.6" r="0.65"/><circle cx="273.2" cy="79.5" r="0.55"/><circle cx="275.8" cy="87.3" r="0.45"/><circle cx="289.8" cy="101.3" r="0.65"/><circle cx="269.3" cy="89.2" r="0.8"/><circle cx="284.0" cy="90.1" r="0.8"/><circle cx="287.0" cy="85.7" r="0.45"/><circle cx="274.9" cy="89.7" r="0.8"/><circle cx="291.4" cy="98.4" r="0.55"/><circle cx="271.2" cy="88.4" r="0.45"/><circle cx="265.1" cy="94.9" r="0.65"/><circle cx="265.1" cy="91.9" r="0.65"/><circle cx="274.3" cy="103.2" r="0.65"/><circle cx="288.8" cy="101.1" r="0.8"/><circle cx="282.5" cy="89.7" r="0.65"/><circle cx="287.8" cy="97.6" r="0.45"/><circle cx="282.1" cy="96.0" r="0.8"/><circle cx="273.3" cy="95.5" r="0.65"/><circle cx="275.2" cy="96.6" r="0.65"/><circle cx="271.9" cy="101.7" r="0.45"/><circle cx="277.0" cy="85.2" r="0.8"/><circle cx="270.0" cy="96.1" r="0.65"/><circle cx="277.6" cy="95.4" r="0.45"/><circle cx="279.3" cy="82.2" r="0.8"/><circle cx="285.4" cy="104.8" r="0.45"/><circle cx="288.3" cy="102.2" r="0.55"/><circle cx="274.9" cy="92.5" r="0.65"/><circle cx="273.4" cy="93.8" r="0.65"/><circle cx="278.8" cy="78.9" r="0.55"/><circle cx="279.5" cy="94.9" r="0.55"/><circle cx="265.3" cy="85.2" r="0.8"/><circle cx="269.2" cy="86.5" r="0.65"/><circle cx="287.7" cy="91.2" r="0.55"/><circle cx="270.3" cy="92.0" r="0.55"/><circle cx="268.2" cy="101.0" r="0.8"/><circle cx="266.0" cy="88.6" r="0.55"/><circle cx="270.8" cy="90.4" r="0.45"/><circle cx="269.3" cy="98.9" r="0.45"/><circle cx="280.0" cy="92.1" r="0.65"/><circle cx="270.3" cy="101.8" r="0.65"/><circle cx="287.8" cy="93.4" r="0.65"/><circle cx="269.1" cy="103.6" r="0.65"/><circle cx="274.3" cy="91.6" r="0.55"/><circle cx="273.5" cy="104.8" r="0.8"/><circle cx="278.1" cy="104.1" r="0.55"/><circle cx="270.7" cy="101.1" r="0.8"/><circle cx="278.8" cy="89.5" r="0.8"/><circle cx="279.2" cy="93.5" r="0.45"/><circle cx="269.1" cy="86.8" r="0.45"/><circle cx="268.4" cy="82.6" r="0.65"/><circle cx="283.7" cy="93.4" r="0.55"/><circle cx="273.4" cy="94.0" r="0.45"/><circle cx="291.3" cy="96.1" r="0.55"/><circle cx="268.8" cy="86.1" r="0.65"/><circle cx="282.3" cy="85.1" r="0.45"/><circle cx="270.1" cy="86.6" r="0.55"/><circle cx="263.7" cy="94.0" r="0.45"/><circle cx="291.4" cy="94.9" r="0.45"/><circle cx="279.7" cy="79.5" r="0.8"/><circle cx="270.3" cy="84.3" r="0.8"/><circle cx="270.7" cy="106.4" r="0.55"/><circle cx="281.8" cy="108.5" r="0.45"/><circle cx="281.1" cy="108.1" r="0.65"/><circle cx="269.4" cy="98.1" r="0.65"/><circle cx="285.1" cy="104.0" r="0.65"/><circle cx="284.7" cy="82.2" r="0.45"/><circle cx="270.5" cy="93.4" r="0.45"/><circle cx="271.8" cy="82.4" r="0.45"/><circle cx="290.8" cy="86.3" r="0.45"/><circle cx="276.9" cy="88.2" r="0.55"/><circle cx="264.0" cy="93.0" r="0.8"/><circle cx="292.0" cy="91.1" r="0.55"/><circle cx="264.8" cy="98.5" r="0.45"/><circle cx="278.8" cy="100.6" r="0.65"/><circle cx="278.3" cy="94.6" r="0.65"/><circle cx="286.3" cy="100.3" r="0.55"/><circle cx="270.7" cy="82.0" r="0.8"/><circle cx="289.8" cy="101.2" r="0.55"/><circle cx="289.5" cy="89.0" r="0.55"/><circle cx="267.7" cy="83.0" r="0.8"/><circle cx="274.4" cy="102.9" r="0.45"/><circle cx="284.6" cy="92.1" r="0.65"/><circle cx="278.6" cy="103.7" r="0.45"/><circle cx="272.5" cy="86.4" r="0.65"/><circle cx="269.7" cy="98.7" r="0.8"/><circle cx="284.6" cy="81.7" r="0.65"/><circle cx="270.7" cy="83.4" r="0.55"/><circle cx="276.6" cy="92.5" r="0.45"/><circle cx="278.8" cy="101.3" r="0.45"/><circle cx="288.8" cy="91.2" r="0.45"/><circle cx="291.5" cy="90.6" r="0.45"/><circle cx="272.0" cy="93.9" r="0.65"/><circle cx="283.0" cy="99.9" r="0.45"/><circle cx="284.5" cy="89.5" r="0.55"/><circle cx="276.4" cy="102.3" r="0.65"/><circle cx="289.3" cy="93.0" r="0.45"/><circle cx="278.1" cy="105.8" r="0.55"/><circle cx="280.1" cy="103.4" r="0.45"/><circle cx="267.1" cy="84.3" r="0.55"/><circle cx="288.0" cy="88.1" r="0.8"/><circle cx="268.8" cy="101.4" r="0.45"/><circle cx="289.3" cy="98.1" r="0.55"/><circle cx="269.8" cy="92.3" r="0.55"/><circle cx="277.0" cy="105.6" r="0.65"/><circle cx="274.4" cy="106.9" r="0.55"/><circle cx="288.1" cy="98.6" r="0.8"/><circle cx="281.7" cy="95.0" r="0.45"/><circle cx="271.0" cy="101.6" r="0.65"/><circle cx="269.9" cy="92.6" r="0.8"/><circle cx="271.7" cy="104.5" r="0.8"/><circle cx="281.4" cy="82.8" r="0.55"/><circle cx="290.2" cy="97.6" r="0.8"/><circle cx="272.4" cy="85.2" r="0.8"/><circle cx="271.5" cy="104.1" r="0.55"/><circle cx="280.9" cy="96.0" r="0.55"/><circle cx="281.0" cy="105.8" r="0.55"/><circle cx="277.7" cy="92.4" r="0.55"/><circle cx="279.1" cy="91.1" r="0.45"/><circle cx="275.4" cy="103.6" r="0.45"/><circle cx="279.4" cy="99.4" r="0.45"/><circle cx="265.2" cy="95.5" r="0.65"/><circle cx="277.7" cy="99.4" r="0.8"/><circle cx="267.5" cy="99.5" r="0.65"/><circle cx="286.6" cy="85.0" r="0.45"/><circle cx="288.6" cy="88.0" r="0.8"/><circle cx="277.3" cy="90.1" r="0.65"/><circle cx="266.2" cy="88.5" r="0.45"/><circle cx="270.7" cy="90.5" r="0.65"/><circle cx="279.1" cy="81.6" r="0.65"/><circle cx="275.9" cy="103.6" r="0.65"/><circle cx="268.8" cy="96.4" r="0.45"/><circle cx="265.0" cy="86.0" r="0.65"/><circle cx="285.5" cy="98.0" r="0.45"/><circle cx="290.7" cy="100.5" r="0.55"/><circle cx="285.6" cy="82.0" r="0.65"/><circle cx="280.7" cy="93.9" r="0.55"/><circle cx="282.8" cy="93.9" r="0.55"/><circle cx="286.5" cy="81.4" r="0.55"/><circle cx="278.2" cy="81.6" r="0.45"/><circle cx="274.3" cy="85.2" r="0.8"/><circle cx="279.7" cy="94.6" r="0.65"/><circle cx="271.6" cy="91.6" r="0.8"/><circle cx="290.3" cy="85.1" r="0.8"/><circle cx="275.5" cy="105.0" r="0.8"/><circle cx="289.4" cy="86.5" r="0.8"/><circle cx="269.4" cy="84.5" r="0.45"/><circle cx="271.9" cy="87.1" r="0.55"/><circle cx="286.0" cy="93.6" r="0.55"/><circle cx="269.4" cy="85.0" r="0.65"/><circle cx="269.3" cy="103.8" r="0.55"/><circle cx="283.0" cy="82.4" r="0.65"/><circle cx="278.0" cy="88.3" r="0.65"/><circle cx="281.5" cy="83.7" r="0.8"/><circle cx="284.4" cy="99.8" r="0.55"/><circle cx="292.0" cy="94.7" r="0.45"/><circle cx="278.8" cy="96.0" r="0.45"/><circle cx="280.9" cy="85.4" r="0.8"/><circle cx="292.4" cy="89.1" r="0.55"/><circle cx="275.5" cy="106.7" r="0.55"/><circle cx="279.1" cy="102.3" r="0.65"/><circle cx="292.4" cy="89.6" r="0.45"/><circle cx="277.8" cy="98.8" r="0.8"/><circle cx="262.9" cy="90.0" r="0.8"/><circle cx="271.9" cy="103.3" r="0.45"/><circle cx="282.1" cy="99.7" r="0.55"/><circle cx="276.0" cy="84.8" r="0.45"/><circle cx="268.4" cy="101.9" r="0.55"/><circle cx="264.1" cy="97.5" r="0.65"/><circle cx="285.1" cy="82.0" r="0.55"/><circle cx="279.1" cy="97.7" r="0.8"/><circle cx="285.0" cy="91.7" r="0.45"/><circle cx="267.7" cy="97.2" r="0.45"/><circle cx="284.7" cy="83.0" r="0.65"/><circle cx="286.2" cy="94.0" r="0.8"/><circle cx="269.9" cy="95.0" r="0.8"/><circle cx="279.1" cy="92.2" r="0.55"/><circle cx="281.1" cy="93.9" r="0.45"/><circle cx="279.2" cy="89.8" r="0.55"/><circle cx="279.6" cy="100.1" r="0.55"/><circle cx="281.5" cy="96.1" r="0.65"/><circle cx="281.2" cy="97.1" r="0.8"/><circle cx="286.4" cy="94.7" r="0.55"/><circle cx="273.3" cy="81.1" r="0.8"/><circle cx="276.9" cy="108.3" r="0.55"/><circle cx="265.6" cy="85.3" r="0.65"/><circle cx="281.7" cy="87.6" r="0.45"/><circle cx="269.7" cy="106.3" r="0.45"/><circle cx="281.5" cy="97.3" r="0.8"/><circle cx="274.7" cy="90.8" r="0.55"/><circle cx="274.7" cy="103.6" r="0.55"/><circle cx="279.1" cy="93.8" r="0.45"/><circle cx="286.7" cy="104.4" r="0.8"/><circle cx="266.7" cy="87.4" r="0.8"/><circle cx="285.4" cy="98.1" r="0.45"/><circle cx="276.1" cy="101.0" r="0.8"/><circle cx="275.6" cy="86.5" r="0.65"/><circle cx="279.9" cy="79.5" r="0.65"/><circle cx="284.6" cy="100.0" r="0.65"/><circle cx="285.3" cy="106.3" r="0.8"/><circle cx="286.4" cy="94.7" r="0.65"/><circle cx="291.9" cy="94.7" r="0.55"/><circle cx="271.2" cy="83.1" r="0.55"/><circle cx="277.6" cy="93.9" r="0.45"/><circle cx="282.6" cy="84.8" r="0.8"/><circle cx="278.5" cy="105.1" r="0.8"/><circle cx="272.6" cy="98.7" r="0.45"/><circle cx="285.9" cy="100.8" r="0.8"/><circle cx="275.2" cy="88.1" r="0.8"/><circle cx="272.0" cy="85.8" r="0.65"/><circle cx="279.3" cy="108.8" r="0.8"/><circle cx="285.7" cy="105.3" r="0.55"/><circle cx="284.1" cy="88.4" r="0.65"/><circle cx="290.6" cy="91.7" r="0.55"/><circle cx="266.2" cy="84.9" r="0.45"/><circle cx="265.3" cy="90.1" r="0.8"/><circle cx="285.3" cy="91.4" r="0.55"/><circle cx="263.2" cy="93.9" r="0.55"/><circle cx="287.8" cy="100.0" r="0.45"/><circle cx="268.4" cy="98.0" r="0.65"/><circle cx="264.8" cy="89.7" r="0.55"/><circle cx="285.9" cy="100.0" r="0.8"/><circle cx="278.6" cy="104.6" r="0.45"/><circle cx="280.0" cy="79.1" r="0.8"/><circle cx="273.3" cy="98.9" r="0.55"/><circle cx="283.2" cy="91.0" r="0.65"/><circle cx="272.9" cy="105.3" r="0.55"/><circle cx="262.6" cy="97.5" r="0.55"/><circle cx="277.4" cy="96.9" r="0.8"/><circle cx="274.1" cy="78.9" r="0.55"/><circle cx="282.3" cy="86.8" r="0.45"/><circle cx="281.0" cy="95.7" r="0.45"/><circle cx="287.1" cy="91.9" r="0.8"/><circle cx="290.9" cy="93.4" r="0.55"/><circle cx="279.0" cy="85.4" r="0.45"/><circle cx="271.5" cy="82.5" r="0.8"/><circle cx="276.0" cy="90.2" r="0.45"/><circle cx="290.7" cy="88.9" r="0.8"/><circle cx="274.7" cy="104.2" r="0.65"/><circle cx="285.4" cy="95.8" r="0.8"/><circle cx="288.5" cy="89.6" r="0.55"/><circle cx="271.3" cy="88.1" r="0.45"/><circle cx="270.8" cy="95.1" r="0.8"/><circle cx="282.9" cy="99.3" r="0.45"/><circle cx="271.5" cy="94.2" r="0.55"/><circle cx="270.6" cy="90.6" r="0.45"/><circle cx="283.1" cy="90.8" r="0.45"/><circle cx="290.8" cy="97.2" r="0.8"/><circle cx="285.5" cy="105.0" r="0.55"/><circle cx="272.5" cy="93.8" r="0.45"/><circle cx="291.4" cy="87.1" r="0.45"/><circle cx="270.5" cy="93.4" r="0.65"/><circle cx="279.0" cy="106.3" r="0.55"/><circle cx="288.8" cy="91.8" r="0.65"/><circle cx="284.6" cy="88.7" r="0.8"/><circle cx="279.1" cy="107.0" r="0.45"/><circle cx="288.6" cy="86.4" r="0.65"/><circle cx="277.2" cy="92.7" r="0.8"/><circle cx="281.7" cy="102.8" r="0.55"/><circle cx="264.4" cy="98.9" r="0.8"/><circle cx="271.2" cy="85.1" r="0.45"/><circle cx="273.6" cy="97.7" r="0.8"/><circle cx="268.0" cy="88.2" r="0.8"/><circle cx="284.6" cy="106.3" r="0.45"/><circle cx="265.1" cy="85.1" r="0.8"/><circle cx="274.2" cy="84.8" r="0.8"/><circle cx="285.1" cy="84.6" r="0.8"/><circle cx="280.4" cy="100.8" r="0.65"/><circle cx="274.5" cy="81.3" r="0.8"/><circle cx="273.3" cy="79.8" r="0.8"/><circle cx="280.4" cy="96.1" r="0.55"/><circle cx="270.3" cy="94.7" r="0.8"/><circle cx="286.0" cy="94.1" r="0.65"/><circle cx="267.9" cy="82.3" r="0.65"/><circle cx="287.1" cy="93.6" r="0.55"/><circle cx="272.5" cy="107.9" r="0.45"/><circle cx="271.3" cy="90.2" r="0.8"/><circle cx="283.4" cy="92.8" r="0.55"/><circle cx="290.8" cy="89.0" r="0.55"/><circle cx="278.9" cy="96.9" r="0.45"/><circle cx="291.8" cy="95.0" r="0.55"/><circle cx="274.8" cy="100.9" r="0.65"/><circle cx="281.1" cy="95.1" r="0.8"/><circle cx="270.4" cy="95.0" r="0.8"/><circle cx="291.7" cy="95.1" r="0.8"/><circle cx="278.5" cy="100.5" r="0.8"/><circle cx="281.8" cy="101.0" r="0.65"/><circle cx="271.6" cy="82.1" r="0.55"/><circle cx="273.7" cy="88.2" r="0.8"/><circle cx="282.5" cy="107.4" r="0.45"/><circle cx="277.5" cy="83.1" r="0.45"/><circle cx="288.7" cy="93.1" r="0.55"/><circle cx="286.7" cy="89.5" r="0.8"/><circle cx="275.2" cy="99.0" r="0.65"/><circle cx="284.8" cy="106.1" r="0.55"/><circle cx="271.1" cy="100.0" r="0.65"/><circle cx="273.9" cy="101.1" r="0.45"/><circle cx="273.6" cy="90.6" r="0.65"/><circle cx="270.6" cy="96.3" r="0.55"/><circle cx="278.1" cy="88.1" r="0.8"/><circle cx="282.1" cy="102.1" r="0.55"/><circle cx="292.1" cy="88.2" r="0.45"/><circle cx="274.9" cy="90.7" r="0.8"/><circle cx="276.9" cy="79.0" r="0.45"/><circle cx="274.1" cy="88.9" r="0.45"/><circle cx="277.3" cy="94.3" r="0.55"/><circle cx="271.7" cy="104.0" r="0.45"/><circle cx="271.2" cy="80.6" r="0.55"/><circle cx="264.3" cy="93.5" r="0.45"/><circle cx="285.2" cy="93.4" r="0.45"/><circle cx="263.5" cy="97.6" r="0.55"/><circle cx="288.5" cy="99.2" r="0.45"/><circle cx="275.8" cy="106.7" r="0.65"/><circle cx="268.2" cy="93.1" r="0.65"/><circle cx="286.7" cy="86.2" r="0.45"/><circle cx="272.7" cy="88.8" r="0.65"/><circle cx="274.3" cy="86.7" r="0.45"/><circle cx="273.9" cy="83.2" r="0.65"/><circle cx="268.2" cy="93.3" r="0.45"/><circle cx="277.3" cy="106.9" r="0.8"/><circle cx="271.6" cy="107.7" r="0.8"/><circle cx="284.7" cy="79.8" r="0.55"/><circle cx="279.6" cy="92.7" r="0.65"/><circle cx="266.5" cy="92.7" r="0.8"/><circle cx="272.6" cy="81.1" r="0.55"/><circle cx="288.1" cy="93.4" r="0.55"/><circle cx="268.6" cy="100.1" r="0.45"/><circle cx="287.9" cy="89.8" r="0.8"/><circle cx="265.5" cy="86.4" r="0.65"/><circle cx="287.5" cy="100.5" r="0.55"/><circle cx="264.3" cy="94.0" r="0.65"/><circle cx="274.2" cy="106.1" r="0.45"/><circle cx="271.3" cy="103.4" r="0.45"/><circle cx="290.2" cy="97.4" r="0.65"/><circle cx="286.8" cy="95.8" r="0.55"/><circle cx="264.9" cy="96.8" r="0.8"/><circle cx="277.9" cy="108.5" r="0.65"/><circle cx="282.1" cy="94.8" r="0.55"/><circle cx="283.7" cy="81.1" r="0.65"/><circle cx="275.9" cy="78.7" r="0.65"/><circle cx="267.6" cy="82.5" r="0.55"/><circle cx="282.5" cy="86.1" r="0.8"/><circle cx="265.5" cy="90.4" r="0.45"/><circle cx="284.8" cy="86.6" r="0.45"/><circle cx="285.1" cy="105.7" r="0.45"/><circle cx="287.8" cy="87.4" r="0.45"/><circle cx="268.8" cy="98.3" r="0.8"/><circle cx="282.7" cy="90.2" r="0.55"/><circle cx="280.1" cy="79.9" r="0.45"/><circle cx="283.0" cy="79.5" r="0.55"/><circle cx="273.3" cy="100.4" r="0.65"/><circle cx="267.0" cy="100.1" r="0.8"/><circle cx="279.2" cy="85.3" r="0.55"/><circle cx="264.4" cy="98.4" r="0.45"/><circle cx="274.3" cy="99.1" r="0.55"/><circle cx="269.0" cy="95.0" r="0.65"/><circle cx="268.8" cy="99.0" r="0.8"/><circle cx="290.3" cy="88.0" r="0.8"/><circle cx="276.5" cy="82.8" r="0.65"/><circle cx="282.2" cy="82.6" r="0.45"/><circle cx="281.8" cy="86.1" r="0.65"/><circle cx="269.2" cy="95.8" r="0.45"/><circle cx="290.0" cy="91.0" r="0.65"/><circle cx="282.3" cy="95.1" r="0.45"/><circle cx="284.7" cy="98.3" r="0.55"/><circle cx="268.4" cy="102.1" r="0.45"/><circle cx="286.5" cy="91.8" r="0.55"/><circle cx="273.3" cy="98.0" r="0.45"/><circle cx="270.1" cy="98.6" r="0.65"/></g><rect x="302.90" y="55.20" width="4.60" height="1.80" fill="#000"/><rect x="302.50" y="91.20" width="6.20" height="2.00" fill="#000"/><rect x="304.60" y="89.10" width="2.00" height="6.20" fill="#000"/><line x1="69.80" y1="90.10" x2="69.80" y2="217.90" stroke="#555" stroke-width="1"/><line x1="66.30" y1="217.40" x2="69.80" y2="217.40" stroke="#555" stroke-width="1"/><line x1="66.30" y1="185.70" x2="69.80" y2="185.70" stroke="#555" stroke-width="1"/><line x1="66.30" y1="154.00" x2="69.80" y2="154.00" stroke="#555" stroke-width="1"/><line x1="66.30" y1="122.30" x2="69.80" y2="122.30" stroke="#555" stroke-width="1"/><line x1="66.30" y1="90.60" x2="69.80" y2="90.60" stroke="#555" stroke-width="1"/><line x1="69.80" y1="217.40" x2="261.00" y2="217.40" stroke="#555" stroke-width="1"/><rect x="77.20" y="204.00" width="32.40" height="13.40" fill="#000"/><line x1="93.40" y1="204.00" x2="93.40" y2="196.70" stroke="#555" stroke-width="1.1"/><line x1="85.30" y1="196.70" x2="101.50" y2="196.70" stroke="#555" stroke-width="1.1"/><rect x="125.90" y="171.70" width="31.20" height="45.70" fill="#5f5f5f" stroke="#333" stroke-width="1"/><line x1="141.50" y1="171.20" x2="141.50" y2="152.50" stroke="#555" stroke-width="1.1"/><line x1="133.50" y1="152.50" x2="149.50" y2="152.50" stroke="#555" stroke-width="1.1"/><rect x="173.00" y="165.70" width="32.10" height="51.70" fill="#a2a2a4" stroke="#333" stroke-width="1"/><line x1="189.05" y1="165.20" x2="189.05" y2="156.60" stroke="#555" stroke-width="1.1"/><line x1="180.85" y1="156.60" x2="197.25" y2="156.60" stroke="#555" stroke-width="1.1"/><rect x="221.00" y="136.70" width="31.10" height="80.70" fill="#d5d5d5" stroke="#333" stroke-width="1"/><line x1="236.55" y1="136.20" x2="236.55" y2="125.20" stroke="#555" stroke-width="1.1"/><line x1="228.65" y1="125.20" x2="244.45" y2="125.20" stroke="#555" stroke-width="1.1"/><rect x="92.10" y="229.20" width="4.50" height="1.70" fill="#000"/><rect x="138.00" y="226.65" width="8.60" height="1.90" fill="#000"/><rect x="141.35" y="223.30" width="1.90" height="8.60" fill="#000"/><rect x="186.65" y="229.20" width="4.50" height="1.70" fill="#000"/><rect x="231.75" y="226.65" width="8.60" height="1.90" fill="#000"/><rect x="235.10" y="223.30" width="1.90" height="8.60" fill="#000"/><rect x="92.10" y="248.95" width="4.50" height="1.70" fill="#000"/><rect x="141.45" y="248.95" width="4.50" height="1.70" fill="#000"/><rect x="184.25" y="245.45" width="8.60" height="1.90" fill="#000"/><rect x="187.60" y="242.10" width="1.90" height="8.60" fill="#000"/><rect x="231.75" y="245.45" width="8.60" height="1.90" fill="#000"/><rect x="235.10" y="242.10" width="1.90" height="8.60" fill="#000"/><path d="M75.7 368.5h0.9v0.9h-0.9zM72.4 358.8h0.9v0.9h-0.9zM70.2 360.8h0.9v0.9h-0.9zM73.7 360.3h0.9v0.9h-0.9zM77.8 367.1h0.9v0.9h-0.9zM86.5 367.8h0.9v0.9h-0.9zM77.0 363.8h0.9v0.9h-0.9zM66.6 371.4h0.9v0.9h-0.9zM72.3 367.4h0.9v0.9h-0.9zM73.4 368.4h0.9v0.9h-0.9zM58.4 357.7h0.9v0.9h-0.9zM75.3 374.7h0.9v0.9h-0.9zM56.8 362.1h0.9v0.9h-0.9zM72.7 362.8h0.9v0.9h-0.9zM68.9 363.3h0.9v0.9h-0.9zM78.0 365.1h0.9v0.9h-0.9zM72.3 359.9h0.9v0.9h-0.9zM75.7 372.2h0.9v0.9h-0.9zM75.4 363.5h0.9v0.9h-0.9zM61.5 366.8h0.9v0.9h-0.9zM74.0 363.8h0.9v0.9h-0.9zM53.6 361.5h0.9v0.9h-0.9zM62.4 361.0h0.9v0.9h-0.9zM72.3 360.3h0.9v0.9h-0.9zM68.7 370.2h0.9v0.9h-0.9zM64.7 364.4h0.9v0.9h-0.9zM75.0 362.0h0.9v0.9h-0.9zM59.2 365.7h0.9v0.9h-0.9zM76.7 357.3h0.9v0.9h-0.9zM67.9 362.5h0.9v0.9h-0.9zM79.8 357.8h0.9v0.9h-0.9zM68.4 358.3h0.9v0.9h-0.9zM62.9 364.6h0.9v0.9h-0.9zM67.6 363.9h0.9v0.9h-0.9zM64.8 357.9h0.9v0.9h-0.9zM77.0 370.8h0.9v0.9h-0.9zM70.0 363.0h0.9v0.9h-0.9zM79.9 366.7h0.9v0.9h-0.9zM72.2 368.4h0.9v0.9h-0.9zM63.6 361.0h0.9v0.9h-0.9zM70.9 359.8h0.9v0.9h-0.9zM70.4 365.5h0.9v0.9h-0.9zM74.5 366.7h0.9v0.9h-0.9zM60.0 364.0h0.9v0.9h-0.9zM72.8 368.8h0.9v0.9h-0.9zM77.5 363.4h0.9v0.9h-0.9zM68.8 359.6h0.9v0.9h-0.9zM66.7 361.2h0.9v0.9h-0.9zM60.6 363.3h0.9v0.9h-0.9zM77.6 371.1h0.9v0.9h-0.9zM72.5 364.1h0.9v0.9h-0.9zM72.7 367.9h0.9v0.9h-0.9zM74.2 366.2h0.9v0.9h-0.9zM68.7 363.4h0.9v0.9h-0.9zM86.4 368.9h0.9v0.9h-0.9z" fill="#666" opacity="0.45"/><path d="M70.0 385.8h0.9v0.9h-0.9zM89.5 384.6h0.9v0.9h-0.9zM63.9 390.1h0.9v0.9h-0.9zM75.1 392.8h0.9v0.9h-0.9zM71.4 398.4h0.9v0.9h-0.9zM78.4 406.1h0.9v0.9h-0.9zM78.1 390.0h0.9v0.9h-0.9zM84.2 394.4h0.9v0.9h-0.9zM68.7 393.9h0.9v0.9h-0.9zM69.4 396.9h0.9v0.9h-0.9zM70.1 390.7h0.9v0.9h-0.9zM68.6 390.5h0.9v0.9h-0.9zM84.0 396.4h0.9v0.9h-0.9zM69.6 378.6h0.9v0.9h-0.9zM79.2 383.3h0.9v0.9h-0.9zM68.7 393.0h0.9v0.9h-0.9zM65.4 393.9h0.9v0.9h-0.9zM81.8 388.3h0.9v0.9h-0.9zM67.7 386.6h0.9v0.9h-0.9zM84.8 389.5h0.9v0.9h-0.9zM83.0 388.5h0.9v0.9h-0.9zM75.1 389.5h0.9v0.9h-0.9zM75.1 390.3h0.9v0.9h-0.9zM80.2 396.6h0.9v0.9h-0.9zM73.1 381.4h0.9v0.9h-0.9zM69.4 381.5h0.9v0.9h-0.9zM59.7 388.1h0.9v0.9h-0.9zM68.7 401.1h0.9v0.9h-0.9zM70.2 378.1h0.9v0.9h-0.9zM76.9 388.1h0.9v0.9h-0.9zM80.3 389.3h0.9v0.9h-0.9zM87.5 383.3h0.9v0.9h-0.9zM75.9 385.0h0.9v0.9h-0.9zM70.7 376.4h0.9v0.9h-0.9zM78.5 376.4h0.9v0.9h-0.9zM76.8 391.4h0.9v0.9h-0.9zM77.0 376.9h0.9v0.9h-0.9zM79.9 383.2h0.9v0.9h-0.9zM76.9 385.5h0.9v0.9h-0.9zM88.0 384.1h0.9v0.9h-0.9zM72.6 390.2h0.9v0.9h-0.9zM63.8 384.8h0.9v0.9h-0.9zM72.6 389.9h0.9v0.9h-0.9zM71.7 400.8h0.9v0.9h-0.9zM87.9 396.9h0.9v0.9h-0.9zM74.0 392.7h0.9v0.9h-0.9zM89.0 400.8h0.9v0.9h-0.9zM79.0 384.4h0.9v0.9h-0.9zM82.4 393.8h0.9v0.9h-0.9zM74.8 387.3h0.9v0.9h-0.9zM64.7 377.8h0.9v0.9h-0.9zM65.2 390.3h0.9v0.9h-0.9zM75.7 383.1h0.9v0.9h-0.9zM72.5 398.2h0.9v0.9h-0.9zM65.8 385.2h0.9v0.9h-0.9zM65.7 402.2h0.9v0.9h-0.9zM71.5 398.2h0.9v0.9h-0.9zM79.6 383.6h0.9v0.9h-0.9zM78.7 389.7h0.9v0.9h-0.9zM77.6 389.6h0.9v0.9h-0.9zM78.7 392.4h0.9v0.9h-0.9zM68.8 393.6h0.9v0.9h-0.9zM68.7 378.9h0.9v0.9h-0.9zM71.4 381.8h0.9v0.9h-0.9zM69.4 380.4h0.9v0.9h-0.9zM80.1 394.3h0.9v0.9h-0.9zM69.6 397.6h0.9v0.9h-0.9zM73.5 382.8h0.9v0.9h-0.9zM66.9 391.1h0.9v0.9h-0.9zM73.4 389.9h0.9v0.9h-0.9zM94.9 394.7h0.9v0.9h-0.9zM73.5 380.5h0.9v0.9h-0.9zM71.2 383.2h0.9v0.9h-0.9zM69.8 371.3h0.9v0.9h-0.9zM75.1 380.3h0.9v0.9h-0.9zM89.7 386.4h0.9v0.9h-0.9zM80.7 390.6h0.9v0.9h-0.9zM68.6 389.7h0.9v0.9h-0.9zM71.1 385.4h0.9v0.9h-0.9zM73.8 374.2h0.9v0.9h-0.9zM84.0 392.1h0.9v0.9h-0.9zM73.0 397.9h0.9v0.9h-0.9zM67.1 370.1h0.9v0.9h-0.9zM75.9 381.9h0.9v0.9h-0.9zM73.5 384.1h0.9v0.9h-0.9zM72.4 380.9h0.9v0.9h-0.9zM73.5 393.1h0.9v0.9h-0.9zM76.6 400.2h0.9v0.9h-0.9zM78.2 390.9h0.9v0.9h-0.9zM75.5 391.8h0.9v0.9h-0.9zM72.8 378.8h0.9v0.9h-0.9zM66.3 375.1h0.9v0.9h-0.9zM72.2 388.6h0.9v0.9h-0.9zM77.1 395.8h0.9v0.9h-0.9zM70.6 372.7h0.9v0.9h-0.9zM69.0 387.6h0.9v0.9h-0.9zM60.3 379.0h0.9v0.9h-0.9zM65.9 402.0h0.9v0.9h-0.9zM81.6 382.8h0.9v0.9h-0.9zM70.3 388.4h0.9v0.9h-0.9zM75.6 389.3h0.9v0.9h-0.9zM65.5 380.9h0.9v0.9h-0.9zM83.5 387.6h0.9v0.9h-0.9zM81.1 387.7h0.9v0.9h-0.9zM75.6 389.8h0.9v0.9h-0.9zM72.0 396.4h0.9v0.9h-0.9zM79.9 387.5h0.9v0.9h-0.9zM75.0 399.2h0.9v0.9h-0.9zM67.2 393.8h0.9v0.9h-0.9zM82.0 399.2h0.9v0.9h-0.9zM84.3 382.3h0.9v0.9h-0.9zM79.8 385.5h0.9v0.9h-0.9zM79.8 389.2h0.9v0.9h-0.9zM80.3 383.3h0.9v0.9h-0.9zM75.2 391.8h0.9v0.9h-0.9zM77.9 394.5h0.9v0.9h-0.9zM87.0 381.5h0.9v0.9h-0.9zM74.6 376.3h0.9v0.9h-0.9zM78.4 399.3h0.9v0.9h-0.9zM75.4 396.4h0.9v0.9h-0.9z" fill="#666" opacity="0.45"/><path d="M102.7 397.5h0.9v0.9h-0.9zM102.5 398.9h0.9v0.9h-0.9zM99.5 388.9h0.9v0.9h-0.9zM99.1 387.7h0.9v0.9h-0.9zM103.4 393.6h0.9v0.9h-0.9zM99.2 387.9h0.9v0.9h-0.9zM103.4 386.4h0.9v0.9h-0.9zM100.0 394.5h0.9v0.9h-0.9z" fill="#666" opacity="0.45"/><rect x="46.90" y="347.80" width="77.00" height="76.90" fill="none" stroke="#555" stroke-width="1"/><line x1="91.40" y1="347.30" x2="91.40" y2="425.20" stroke="#555" stroke-width="1"/><line x1="46.40" y1="375.30" x2="124.40" y2="375.30" stroke="#555" stroke-width="1"/><path d="M158.3 364.4h0.9v0.9h-0.9zM153.6 363.3h0.9v0.9h-0.9zM144.6 366.4h0.9v0.9h-0.9zM148.0 365.6h0.9v0.9h-0.9zM145.0 367.7h0.9v0.9h-0.9zM165.2 367.8h0.9v0.9h-0.9zM154.9 364.8h0.9v0.9h-0.9zM144.4 362.4h0.9v0.9h-0.9zM141.5 368.4h0.9v0.9h-0.9zM147.6 363.3h0.9v0.9h-0.9zM144.8 369.6h0.9v0.9h-0.9zM169.5 365.6h0.9v0.9h-0.9zM152.5 361.6h0.9v0.9h-0.9zM169.7 360.0h0.9v0.9h-0.9zM154.9 364.2h0.9v0.9h-0.9zM146.1 367.5h0.9v0.9h-0.9zM136.0 368.4h0.9v0.9h-0.9zM143.9 366.1h0.9v0.9h-0.9zM153.2 367.9h0.9v0.9h-0.9zM159.7 357.2h0.9v0.9h-0.9zM151.5 365.8h0.9v0.9h-0.9zM150.5 368.2h0.9v0.9h-0.9zM145.8 366.6h0.9v0.9h-0.9zM142.3 366.3h0.9v0.9h-0.9zM144.5 362.5h0.9v0.9h-0.9zM148.6 366.0h0.9v0.9h-0.9zM158.9 364.5h0.9v0.9h-0.9zM155.8 363.4h0.9v0.9h-0.9zM171.7 372.6h0.9v0.9h-0.9zM146.1 366.1h0.9v0.9h-0.9zM168.9 363.9h0.9v0.9h-0.9zM166.1 372.3h0.9v0.9h-0.9zM153.9 367.5h0.9v0.9h-0.9zM160.7 372.6h0.9v0.9h-0.9zM143.0 362.8h0.9v0.9h-0.9zM148.9 362.8h0.9v0.9h-0.9zM154.0 366.6h0.9v0.9h-0.9zM151.9 371.3h0.9v0.9h-0.9zM153.2 366.5h0.9v0.9h-0.9zM151.4 366.6h0.9v0.9h-0.9zM155.1 366.8h0.9v0.9h-0.9zM156.2 368.5h0.9v0.9h-0.9zM158.0 361.2h0.9v0.9h-0.9zM154.1 366.1h0.9v0.9h-0.9zM146.4 369.8h0.9v0.9h-0.9zM141.5 367.4h0.9v0.9h-0.9zM149.0 360.4h0.9v0.9h-0.9zM151.1 369.2h0.9v0.9h-0.9zM160.7 365.8h0.9v0.9h-0.9zM166.9 361.4h0.9v0.9h-0.9zM155.2 360.8h0.9v0.9h-0.9zM150.6 362.7h0.9v0.9h-0.9zM153.2 369.8h0.9v0.9h-0.9zM152.9 368.3h0.9v0.9h-0.9zM154.8 367.6h0.9v0.9h-0.9zM155.3 366.2h0.9v0.9h-0.9zM150.8 364.7h0.9v0.9h-0.9zM147.7 360.0h0.9v0.9h-0.9zM155.5 370.0h0.9v0.9h-0.9zM135.7 360.3h0.9v0.9h-0.9z" fill="#666" opacity="0.45"/><path d="M155.9 383.7h0.9v0.9h-0.9zM162.8 385.1h0.9v0.9h-0.9zM143.0 393.8h0.9v0.9h-0.9zM155.9 392.0h0.9v0.9h-0.9zM147.3 390.4h0.9v0.9h-0.9zM148.5 381.6h0.9v0.9h-0.9zM147.6 391.8h0.9v0.9h-0.9zM155.6 398.9h0.9v0.9h-0.9zM159.8 384.3h0.9v0.9h-0.9zM155.6 382.3h0.9v0.9h-0.9zM153.4 382.8h0.9v0.9h-0.9zM144.6 385.0h0.9v0.9h-0.9zM163.5 379.4h0.9v0.9h-0.9zM156.2 390.0h0.9v0.9h-0.9zM146.9 389.2h0.9v0.9h-0.9zM154.7 405.1h0.9v0.9h-0.9zM154.6 387.5h0.9v0.9h-0.9zM165.5 389.4h0.9v0.9h-0.9zM170.8 383.3h0.9v0.9h-0.9zM147.8 377.2h0.9v0.9h-0.9zM142.6 388.9h0.9v0.9h-0.9zM155.7 385.4h0.9v0.9h-0.9zM147.1 377.8h0.9v0.9h-0.9zM161.6 398.0h0.9v0.9h-0.9zM164.6 404.0h0.9v0.9h-0.9zM153.9 380.3h0.9v0.9h-0.9zM132.0 378.5h0.9v0.9h-0.9zM148.9 391.5h0.9v0.9h-0.9zM145.8 374.0h0.9v0.9h-0.9zM161.5 397.9h0.9v0.9h-0.9zM142.5 394.9h0.9v0.9h-0.9zM131.2 390.4h0.9v0.9h-0.9zM132.2 379.6h0.9v0.9h-0.9zM157.6 387.1h0.9v0.9h-0.9zM167.0 383.5h0.9v0.9h-0.9zM160.3 395.2h0.9v0.9h-0.9zM152.6 390.2h0.9v0.9h-0.9zM161.0 390.3h0.9v0.9h-0.9zM155.5 386.1h0.9v0.9h-0.9zM137.3 380.7h0.9v0.9h-0.9zM143.7 396.5h0.9v0.9h-0.9zM140.3 381.4h0.9v0.9h-0.9zM148.0 390.9h0.9v0.9h-0.9zM158.0 391.7h0.9v0.9h-0.9zM168.8 399.2h0.9v0.9h-0.9zM164.6 398.0h0.9v0.9h-0.9zM154.3 380.2h0.9v0.9h-0.9zM158.7 389.5h0.9v0.9h-0.9zM161.6 385.2h0.9v0.9h-0.9zM153.9 384.5h0.9v0.9h-0.9zM161.1 389.9h0.9v0.9h-0.9zM149.4 391.8h0.9v0.9h-0.9zM145.5 380.9h0.9v0.9h-0.9zM145.7 385.8h0.9v0.9h-0.9zM147.0 390.9h0.9v0.9h-0.9zM144.6 385.7h0.9v0.9h-0.9zM139.5 373.4h0.9v0.9h-0.9zM147.6 396.4h0.9v0.9h-0.9zM167.0 395.4h0.9v0.9h-0.9zM141.2 386.1h0.9v0.9h-0.9zM148.9 386.7h0.9v0.9h-0.9zM154.0 387.3h0.9v0.9h-0.9zM156.6 395.5h0.9v0.9h-0.9zM165.4 383.0h0.9v0.9h-0.9zM159.7 384.3h0.9v0.9h-0.9zM141.4 385.0h0.9v0.9h-0.9zM153.4 391.1h0.9v0.9h-0.9zM150.9 390.5h0.9v0.9h-0.9zM158.6 388.2h0.9v0.9h-0.9zM161.0 380.6h0.9v0.9h-0.9zM153.0 378.8h0.9v0.9h-0.9zM134.3 389.6h0.9v0.9h-0.9zM149.1 392.5h0.9v0.9h-0.9zM152.1 390.7h0.9v0.9h-0.9zM160.1 388.6h0.9v0.9h-0.9zM149.0 384.6h0.9v0.9h-0.9zM145.6 388.8h0.9v0.9h-0.9zM153.1 382.8h0.9v0.9h-0.9zM138.8 391.5h0.9v0.9h-0.9zM149.4 373.4h0.9v0.9h-0.9zM163.1 388.8h0.9v0.9h-0.9zM159.8 401.7h0.9v0.9h-0.9zM153.1 400.6h0.9v0.9h-0.9zM137.7 386.7h0.9v0.9h-0.9zM158.2 374.7h0.9v0.9h-0.9zM160.0 383.4h0.9v0.9h-0.9zM143.8 374.1h0.9v0.9h-0.9zM155.9 380.8h0.9v0.9h-0.9zM160.5 377.2h0.9v0.9h-0.9zM143.9 390.6h0.9v0.9h-0.9zM133.4 394.3h0.9v0.9h-0.9zM155.9 405.3h0.9v0.9h-0.9zM157.5 392.1h0.9v0.9h-0.9zM151.9 377.0h0.9v0.9h-0.9zM150.4 393.5h0.9v0.9h-0.9zM139.1 383.2h0.9v0.9h-0.9zM145.4 393.2h0.9v0.9h-0.9zM137.7 393.6h0.9v0.9h-0.9zM163.4 382.4h0.9v0.9h-0.9zM152.8 395.3h0.9v0.9h-0.9zM142.1 392.9h0.9v0.9h-0.9zM148.1 396.8h0.9v0.9h-0.9zM141.9 386.7h0.9v0.9h-0.9zM162.1 386.5h0.9v0.9h-0.9zM153.0 388.8h0.9v0.9h-0.9zM166.7 388.6h0.9v0.9h-0.9zM163.4 381.5h0.9v0.9h-0.9zM153.6 389.7h0.9v0.9h-0.9zM149.8 388.8h0.9v0.9h-0.9zM164.4 392.5h0.9v0.9h-0.9zM158.9 394.6h0.9v0.9h-0.9zM158.9 381.3h0.9v0.9h-0.9zM145.0 393.6h0.9v0.9h-0.9zM157.9 385.8h0.9v0.9h-0.9zM151.4 383.0h0.9v0.9h-0.9zM151.2 386.8h0.9v0.9h-0.9zM158.9 389.4h0.9v0.9h-0.9zM151.4 383.0h0.9v0.9h-0.9zM151.8 382.1h0.9v0.9h-0.9zM164.3 376.0h0.9v0.9h-0.9zM152.9 383.3h0.9v0.9h-0.9zM162.2 391.0h0.9v0.9h-0.9zM152.8 389.5h0.9v0.9h-0.9zM150.6 375.0h0.9v0.9h-0.9zM164.4 375.5h0.9v0.9h-0.9zM143.4 384.2h0.9v0.9h-0.9zM161.8 387.6h0.9v0.9h-0.9zM153.6 382.3h0.9v0.9h-0.9zM164.6 384.5h0.9v0.9h-0.9z" fill="#666" opacity="0.45"/><path d="M181.1 397.0h0.9v0.9h-0.9zM181.7 389.6h0.9v0.9h-0.9zM186.7 390.2h0.9v0.9h-0.9zM184.7 399.6h0.9v0.9h-0.9zM182.1 397.7h0.9v0.9h-0.9zM187.1 393.8h0.9v0.9h-0.9zM182.2 397.1h0.9v0.9h-0.9zM184.4 404.1h0.9v0.9h-0.9zM185.1 394.3h0.9v0.9h-0.9zM182.2 397.6h0.9v0.9h-0.9zM182.8 393.1h0.9v0.9h-0.9zM186.8 399.6h0.9v0.9h-0.9zM183.0 404.1h0.9v0.9h-0.9zM186.2 391.6h0.9v0.9h-0.9zM187.1 390.3h0.9v0.9h-0.9zM185.4 397.7h0.9v0.9h-0.9zM182.8 390.2h0.9v0.9h-0.9zM187.7 396.3h0.9v0.9h-0.9zM182.7 390.8h0.9v0.9h-0.9zM182.8 395.5h0.9v0.9h-0.9zM182.9 395.0h0.9v0.9h-0.9zM181.5 383.7h0.9v0.9h-0.9z" fill="#666" opacity="0.45"/><rect x="129.90" y="347.80" width="77.10" height="76.90" fill="none" stroke="#555" stroke-width="1"/><line x1="175.00" y1="347.30" x2="175.00" y2="425.20" stroke="#555" stroke-width="1"/><line x1="129.40" y1="373.80" x2="207.50" y2="373.80" stroke="#555" stroke-width="1"/><path d="M234.8 367.8h0.9v0.9h-0.9zM250.9 366.3h0.9v0.9h-0.9zM223.9 362.9h0.9v0.9h-0.9zM251.9 371.8h0.9v0.9h-0.9zM241.0 371.0h0.9v0.9h-0.9zM234.3 373.9h0.9v0.9h-0.9zM251.7 365.7h0.9v0.9h-0.9zM238.3 369.9h0.9v0.9h-0.9zM238.7 370.7h0.9v0.9h-0.9zM230.5 367.9h0.9v0.9h-0.9zM244.1 369.8h0.9v0.9h-0.9zM249.0 363.7h0.9v0.9h-0.9zM253.3 372.5h0.9v0.9h-0.9zM232.5 369.2h0.9v0.9h-0.9zM244.1 362.3h0.9v0.9h-0.9zM232.7 369.5h0.9v0.9h-0.9zM225.4 365.9h0.9v0.9h-0.9zM239.1 366.3h0.9v0.9h-0.9zM247.4 368.7h0.9v0.9h-0.9zM236.6 374.7h0.9v0.9h-0.9zM236.6 366.6h0.9v0.9h-0.9zM230.8 370.5h0.9v0.9h-0.9zM233.9 368.4h0.9v0.9h-0.9zM237.6 365.0h0.9v0.9h-0.9zM247.8 367.9h0.9v0.9h-0.9zM225.6 367.9h0.9v0.9h-0.9zM229.7 374.9h0.9v0.9h-0.9zM230.5 366.4h0.9v0.9h-0.9zM240.6 371.6h0.9v0.9h-0.9zM225.4 366.7h0.9v0.9h-0.9zM248.8 374.4h0.9v0.9h-0.9zM242.9 367.2h0.9v0.9h-0.9zM236.4 365.7h0.9v0.9h-0.9zM257.8 374.4h0.9v0.9h-0.9zM240.1 372.1h0.9v0.9h-0.9zM236.9 362.7h0.9v0.9h-0.9zM257.7 361.7h0.9v0.9h-0.9zM236.3 368.4h0.9v0.9h-0.9zM242.4 366.0h0.9v0.9h-0.9zM236.3 370.1h0.9v0.9h-0.9zM242.6 365.6h0.9v0.9h-0.9zM243.9 363.3h0.9v0.9h-0.9zM229.8 363.8h0.9v0.9h-0.9zM237.1 370.1h0.9v0.9h-0.9zM239.4 362.4h0.9v0.9h-0.9zM235.6 369.3h0.9v0.9h-0.9zM244.6 371.7h0.9v0.9h-0.9zM237.0 365.0h0.9v0.9h-0.9zM248.8 368.4h0.9v0.9h-0.9zM241.4 374.6h0.9v0.9h-0.9zM237.3 363.5h0.9v0.9h-0.9zM250.6 370.9h0.9v0.9h-0.9zM226.7 369.5h0.9v0.9h-0.9zM241.2 365.9h0.9v0.9h-0.9zM237.4 372.9h0.9v0.9h-0.9zM243.9 369.5h0.9v0.9h-0.9zM239.5 366.7h0.9v0.9h-0.9zM240.1 370.1h0.9v0.9h-0.9zM250.4 364.4h0.9v0.9h-0.9zM240.6 360.6h0.9v0.9h-0.9zM242.5 375.3h0.9v0.9h-0.9zM235.0 371.1h0.9v0.9h-0.9zM245.7 369.6h0.9v0.9h-0.9zM229.3 373.0h0.9v0.9h-0.9zM233.6 368.1h0.9v0.9h-0.9zM234.7 365.9h0.9v0.9h-0.9zM242.8 364.7h0.9v0.9h-0.9zM241.7 371.9h0.9v0.9h-0.9zM230.0 365.1h0.9v0.9h-0.9zM238.4 373.0h0.9v0.9h-0.9z" fill="#666" opacity="0.45"/><path d="M248.9 386.2h0.9v0.9h-0.9zM228.6 392.0h0.9v0.9h-0.9zM234.6 372.8h0.9v0.9h-0.9zM246.3 377.2h0.9v0.9h-0.9zM245.3 372.3h0.9v0.9h-0.9zM232.7 358.8h0.9v0.9h-0.9zM244.3 368.5h0.9v0.9h-0.9zM241.5 378.1h0.9v0.9h-0.9zM228.5 387.7h0.9v0.9h-0.9zM241.1 370.1h0.9v0.9h-0.9zM241.8 388.2h0.9v0.9h-0.9zM237.9 381.9h0.9v0.9h-0.9zM250.3 375.0h0.9v0.9h-0.9zM236.6 378.9h0.9v0.9h-0.9zM237.8 388.3h0.9v0.9h-0.9zM244.9 386.4h0.9v0.9h-0.9zM233.4 391.0h0.9v0.9h-0.9zM241.8 379.3h0.9v0.9h-0.9zM250.0 393.4h0.9v0.9h-0.9zM246.4 380.4h0.9v0.9h-0.9zM233.0 375.7h0.9v0.9h-0.9zM243.4 394.7h0.9v0.9h-0.9zM240.8 379.1h0.9v0.9h-0.9zM239.4 371.5h0.9v0.9h-0.9zM231.8 380.6h0.9v0.9h-0.9zM233.7 366.8h0.9v0.9h-0.9zM242.9 385.3h0.9v0.9h-0.9zM242.2 385.5h0.9v0.9h-0.9zM244.4 362.7h0.9v0.9h-0.9zM234.0 390.4h0.9v0.9h-0.9zM244.6 362.7h0.9v0.9h-0.9zM242.2 368.2h0.9v0.9h-0.9zM242.9 372.4h0.9v0.9h-0.9zM236.4 376.0h0.9v0.9h-0.9zM235.4 385.0h0.9v0.9h-0.9zM240.6 380.0h0.9v0.9h-0.9zM233.4 384.1h0.9v0.9h-0.9zM250.3 372.4h0.9v0.9h-0.9zM245.1 387.3h0.9v0.9h-0.9zM241.1 376.2h0.9v0.9h-0.9zM242.4 377.9h0.9v0.9h-0.9zM236.8 369.7h0.9v0.9h-0.9zM247.5 377.7h0.9v0.9h-0.9zM239.4 385.3h0.9v0.9h-0.9zM239.9 387.7h0.9v0.9h-0.9zM236.0 376.5h0.9v0.9h-0.9zM247.0 396.3h0.9v0.9h-0.9zM256.9 389.4h0.9v0.9h-0.9zM240.4 395.3h0.9v0.9h-0.9zM239.3 357.7h0.9v0.9h-0.9zM241.1 378.8h0.9v0.9h-0.9zM242.2 356.3h0.9v0.9h-0.9zM243.0 369.4h0.9v0.9h-0.9zM242.4 380.6h0.9v0.9h-0.9zM241.3 394.4h0.9v0.9h-0.9zM246.0 389.6h0.9v0.9h-0.9zM241.1 368.4h0.9v0.9h-0.9zM239.4 364.0h0.9v0.9h-0.9zM240.9 379.0h0.9v0.9h-0.9zM236.2 370.0h0.9v0.9h-0.9zM243.3 373.7h0.9v0.9h-0.9zM242.4 382.3h0.9v0.9h-0.9zM237.0 381.6h0.9v0.9h-0.9zM242.3 368.2h0.9v0.9h-0.9zM236.5 385.8h0.9v0.9h-0.9zM244.1 382.6h0.9v0.9h-0.9zM244.3 376.5h0.9v0.9h-0.9zM232.1 377.4h0.9v0.9h-0.9zM241.0 374.6h0.9v0.9h-0.9zM238.0 383.0h0.9v0.9h-0.9zM246.1 385.8h0.9v0.9h-0.9zM234.9 378.5h0.9v0.9h-0.9zM234.1 387.3h0.9v0.9h-0.9zM254.5 383.2h0.9v0.9h-0.9zM248.1 381.0h0.9v0.9h-0.9zM240.8 378.9h0.9v0.9h-0.9zM241.9 381.5h0.9v0.9h-0.9zM247.0 389.1h0.9v0.9h-0.9zM240.3 356.6h0.9v0.9h-0.9zM226.9 376.4h0.9v0.9h-0.9zM233.6 385.5h0.9v0.9h-0.9zM242.6 379.5h0.9v0.9h-0.9zM246.0 376.0h0.9v0.9h-0.9zM225.7 387.8h0.9v0.9h-0.9zM226.5 387.8h0.9v0.9h-0.9zM239.1 375.5h0.9v0.9h-0.9zM242.7 379.7h0.9v0.9h-0.9zM238.7 372.7h0.9v0.9h-0.9zM246.1 378.5h0.9v0.9h-0.9zM243.2 386.3h0.9v0.9h-0.9zM239.3 371.2h0.9v0.9h-0.9zM229.0 367.5h0.9v0.9h-0.9zM238.1 363.6h0.9v0.9h-0.9zM240.6 383.8h0.9v0.9h-0.9zM236.6 379.6h0.9v0.9h-0.9zM241.5 368.7h0.9v0.9h-0.9zM237.0 376.4h0.9v0.9h-0.9zM230.5 390.1h0.9v0.9h-0.9zM236.9 373.9h0.9v0.9h-0.9zM233.0 376.6h0.9v0.9h-0.9zM246.9 369.6h0.9v0.9h-0.9zM243.4 382.4h0.9v0.9h-0.9zM243.4 396.5h0.9v0.9h-0.9zM240.6 380.5h0.9v0.9h-0.9zM236.3 372.3h0.9v0.9h-0.9zM241.3 383.4h0.9v0.9h-0.9zM238.7 369.4h0.9v0.9h-0.9zM245.3 377.4h0.9v0.9h-0.9zM232.4 392.8h0.9v0.9h-0.9zM240.3 373.6h0.9v0.9h-0.9zM241.0 394.3h0.9v0.9h-0.9zM241.0 380.0h0.9v0.9h-0.9zM225.5 384.8h0.9v0.9h-0.9zM233.9 380.1h0.9v0.9h-0.9zM239.0 382.6h0.9v0.9h-0.9zM243.6 376.4h0.9v0.9h-0.9zM234.1 384.7h0.9v0.9h-0.9zM240.7 382.8h0.9v0.9h-0.9zM254.8 385.5h0.9v0.9h-0.9zM249.1 375.8h0.9v0.9h-0.9zM255.0 378.1h0.9v0.9h-0.9zM239.1 374.5h0.9v0.9h-0.9zM241.3 382.3h0.9v0.9h-0.9zM240.9 378.3h0.9v0.9h-0.9zM250.1 373.8h0.9v0.9h-0.9zM245.7 372.1h0.9v0.9h-0.9zM245.6 372.2h0.9v0.9h-0.9zM235.3 397.2h0.9v0.9h-0.9zM253.1 383.1h0.9v0.9h-0.9zM227.3 374.2h0.9v0.9h-0.9z" fill="#666" opacity="0.45"/><path d="M264.0 394.6h0.9v0.9h-0.9zM265.8 405.9h0.9v0.9h-0.9zM267.4 386.6h0.9v0.9h-0.9zM262.5 397.5h0.9v0.9h-0.9zM267.6 388.3h0.9v0.9h-0.9zM270.6 398.4h0.9v0.9h-0.9z" fill="#666" opacity="0.45"/><rect x="215.70" y="347.80" width="76.60" height="76.90" fill="none" stroke="#555" stroke-width="1"/><line x1="260.80" y1="347.30" x2="260.80" y2="425.20" stroke="#555" stroke-width="1"/><line x1="215.20" y1="373.80" x2="292.80" y2="373.80" stroke="#555" stroke-width="1"/><path d="M321.2 367.6h0.9v0.9h-0.9zM325.4 360.9h0.9v0.9h-0.9zM325.2 367.3h0.9v0.9h-0.9zM326.3 371.6h0.9v0.9h-0.9zM334.7 367.1h0.9v0.9h-0.9zM317.2 366.9h0.9v0.9h-0.9zM333.2 371.7h0.9v0.9h-0.9zM323.7 365.7h0.9v0.9h-0.9zM322.1 371.2h0.9v0.9h-0.9zM331.6 367.0h0.9v0.9h-0.9zM336.8 369.3h0.9v0.9h-0.9zM329.6 365.3h0.9v0.9h-0.9zM323.5 357.0h0.9v0.9h-0.9zM319.1 371.7h0.9v0.9h-0.9zM318.8 366.5h0.9v0.9h-0.9zM314.8 366.2h0.9v0.9h-0.9zM338.2 363.6h0.9v0.9h-0.9zM334.1 373.7h0.9v0.9h-0.9zM328.6 369.5h0.9v0.9h-0.9zM327.5 369.4h0.9v0.9h-0.9zM323.4 368.7h0.9v0.9h-0.9zM314.4 371.2h0.9v0.9h-0.9zM323.9 368.9h0.9v0.9h-0.9zM326.3 363.1h0.9v0.9h-0.9zM328.2 371.3h0.9v0.9h-0.9zM325.7 373.1h0.9v0.9h-0.9zM329.4 366.8h0.9v0.9h-0.9zM321.6 369.2h0.9v0.9h-0.9zM317.5 361.9h0.9v0.9h-0.9zM326.7 370.1h0.9v0.9h-0.9zM321.9 372.2h0.9v0.9h-0.9zM318.1 369.7h0.9v0.9h-0.9zM326.9 372.8h0.9v0.9h-0.9zM330.9 372.2h0.9v0.9h-0.9zM322.5 374.9h0.9v0.9h-0.9zM324.0 368.0h0.9v0.9h-0.9zM322.1 365.6h0.9v0.9h-0.9zM323.5 368.4h0.9v0.9h-0.9zM323.6 365.2h0.9v0.9h-0.9zM332.3 369.4h0.9v0.9h-0.9zM329.4 371.9h0.9v0.9h-0.9zM327.8 370.5h0.9v0.9h-0.9zM328.5 369.9h0.9v0.9h-0.9zM328.3 366.2h0.9v0.9h-0.9zM320.9 372.0h0.9v0.9h-0.9zM327.8 370.2h0.9v0.9h-0.9zM324.1 376.2h0.9v0.9h-0.9zM332.1 363.9h0.9v0.9h-0.9zM329.7 369.1h0.9v0.9h-0.9zM325.2 364.8h0.9v0.9h-0.9zM330.0 370.3h0.9v0.9h-0.9zM329.3 366.7h0.9v0.9h-0.9zM326.8 366.9h0.9v0.9h-0.9zM319.6 362.8h0.9v0.9h-0.9zM332.4 368.7h0.9v0.9h-0.9zM337.9 363.6h0.9v0.9h-0.9zM322.5 366.7h0.9v0.9h-0.9zM322.5 370.2h0.9v0.9h-0.9zM323.2 366.0h0.9v0.9h-0.9zM325.7 362.0h0.9v0.9h-0.9zM320.6 369.3h0.9v0.9h-0.9zM328.1 365.7h0.9v0.9h-0.9zM324.0 367.6h0.9v0.9h-0.9zM332.6 369.2h0.9v0.9h-0.9zM326.6 371.2h0.9v0.9h-0.9zM325.4 370.1h0.9v0.9h-0.9zM321.3 369.1h0.9v0.9h-0.9zM335.5 363.6h0.9v0.9h-0.9zM322.7 368.4h0.9v0.9h-0.9zM331.2 366.9h0.9v0.9h-0.9z" fill="#666" opacity="0.45"/><path d="M349.9 384.7h0.9v0.9h-0.9zM354.1 381.3h0.9v0.9h-0.9zM347.1 384.1h0.9v0.9h-0.9zM349.7 383.3h0.9v0.9h-0.9zM353.5 381.1h0.9v0.9h-0.9zM350.8 376.4h0.9v0.9h-0.9zM351.4 376.8h0.9v0.9h-0.9zM350.0 380.1h0.9v0.9h-0.9z" fill="#666" opacity="0.45"/><rect x="300.00" y="347.80" width="77.30" height="76.90" fill="none" stroke="#555" stroke-width="1"/><line x1="345.40" y1="347.30" x2="345.40" y2="425.20" stroke="#555" stroke-width="1"/><line x1="299.50" y1="373.80" x2="377.80" y2="373.80" stroke="#555" stroke-width="1"/><path d="M39.2 422.7 V435.9 H77" fill="none" stroke="#222" stroke-width="1.2"/><path d="M35.5 423.3 L39.2 416.7 L42.900000000000006 423.3Z" fill="#222"/><path d="M76.2 432.59999999999997 L83 435.9 L76.2 439.2Z" fill="#222"/><path d="M97.9 505.7h0.9v0.9h-0.9zM93.2 503.1h0.9v0.9h-0.9zM97.0 502.9h0.9v0.9h-0.9zM100.4 505.3h0.9v0.9h-0.9zM94.5 505.5h0.9v0.9h-0.9zM92.8 508.8h0.9v0.9h-0.9zM98.1 511.4h0.9v0.9h-0.9zM91.1 510.2h0.9v0.9h-0.9zM92.4 506.3h0.9v0.9h-0.9zM85.6 507.1h0.9v0.9h-0.9zM85.4 505.4h0.9v0.9h-0.9zM96.4 506.3h0.9v0.9h-0.9zM98.8 508.0h0.9v0.9h-0.9zM97.8 502.4h0.9v0.9h-0.9zM95.2 503.5h0.9v0.9h-0.9zM95.4 510.2h0.9v0.9h-0.9zM96.4 498.9h0.9v0.9h-0.9zM98.6 508.5h0.9v0.9h-0.9zM94.8 510.8h0.9v0.9h-0.9zM86.0 502.4h0.9v0.9h-0.9zM97.7 495.0h0.9v0.9h-0.9zM75.0 507.4h0.9v0.9h-0.9zM90.9 512.0h0.9v0.9h-0.9zM101.5 508.4h0.9v0.9h-0.9zM100.1 502.3h0.9v0.9h-0.9zM86.8 510.0h0.9v0.9h-0.9zM97.7 499.9h0.9v0.9h-0.9zM89.9 508.5h0.9v0.9h-0.9zM101.4 505.1h0.9v0.9h-0.9zM90.8 509.9h0.9v0.9h-0.9zM100.5 505.5h0.9v0.9h-0.9zM98.1 507.2h0.9v0.9h-0.9zM104.0 504.2h0.9v0.9h-0.9zM90.5 502.4h0.9v0.9h-0.9zM95.2 505.5h0.9v0.9h-0.9zM77.4 502.1h0.9v0.9h-0.9zM93.6 502.6h0.9v0.9h-0.9zM98.2 504.6h0.9v0.9h-0.9zM100.9 506.2h0.9v0.9h-0.9zM91.9 505.4h0.9v0.9h-0.9zM98.4 503.6h0.9v0.9h-0.9zM92.7 505.6h0.9v0.9h-0.9zM108.6 505.7h0.9v0.9h-0.9zM102.2 503.9h0.9v0.9h-0.9zM97.2 505.6h0.9v0.9h-0.9zM94.6 505.4h0.9v0.9h-0.9zM95.9 501.3h0.9v0.9h-0.9zM98.6 505.5h0.9v0.9h-0.9zM87.0 506.1h0.9v0.9h-0.9zM90.8 504.8h0.9v0.9h-0.9zM94.8 503.5h0.9v0.9h-0.9zM84.9 507.0h0.9v0.9h-0.9zM95.0 505.4h0.9v0.9h-0.9zM103.2 504.6h0.9v0.9h-0.9zM97.1 509.8h0.9v0.9h-0.9zM103.0 508.9h0.9v0.9h-0.9zM96.8 505.4h0.9v0.9h-0.9zM95.5 509.8h0.9v0.9h-0.9zM97.1 503.1h0.9v0.9h-0.9zM94.9 501.4h0.9v0.9h-0.9zM85.3 506.4h0.9v0.9h-0.9zM94.6 510.5h0.9v0.9h-0.9zM92.0 506.7h0.9v0.9h-0.9zM89.5 501.7h0.9v0.9h-0.9zM108.0 507.1h0.9v0.9h-0.9zM94.7 501.2h0.9v0.9h-0.9zM96.8 499.3h0.9v0.9h-0.9zM96.1 505.2h0.9v0.9h-0.9zM87.7 505.2h0.9v0.9h-0.9zM92.4 503.1h0.9v0.9h-0.9zM97.8 507.6h0.9v0.9h-0.9zM95.2 504.9h0.9v0.9h-0.9zM101.7 503.7h0.9v0.9h-0.9zM92.3 506.3h0.9v0.9h-0.9zM88.0 506.4h0.9v0.9h-0.9z" fill="#444" opacity="0.6"/><path d="M103.5 487.9h0.9v0.9h-0.9zM103.5 485.2h0.9v0.9h-0.9zM97.2 472.7h0.9v0.9h-0.9zM83.8 487.5h0.9v0.9h-0.9zM81.8 489.8h0.9v0.9h-0.9zM93.6 482.2h0.9v0.9h-0.9zM88.7 481.3h0.9v0.9h-0.9zM91.6 483.8h0.9v0.9h-0.9z" fill="#444" opacity="0.6"/><rect x="46.90" y="444.30" width="77.00" height="75.00" fill="none" stroke="#888" stroke-width="1"/><rect x="83.30" y="464.60" width="29.00" height="35.50" fill="none" stroke="#555" stroke-width="1.2"/><path d="M170.1 510.0h0.9v0.9h-0.9zM177.0 502.0h0.9v0.9h-0.9zM178.7 506.7h0.9v0.9h-0.9zM177.5 507.1h0.9v0.9h-0.9zM183.7 509.8h0.9v0.9h-0.9zM164.5 506.8h0.9v0.9h-0.9zM180.0 507.1h0.9v0.9h-0.9zM182.9 509.0h0.9v0.9h-0.9zM185.8 511.3h0.9v0.9h-0.9zM155.8 498.8h0.9v0.9h-0.9zM174.5 515.8h0.9v0.9h-0.9zM172.0 512.1h0.9v0.9h-0.9zM181.2 503.2h0.9v0.9h-0.9zM177.7 506.4h0.9v0.9h-0.9zM172.9 502.2h0.9v0.9h-0.9zM177.3 505.5h0.9v0.9h-0.9zM189.4 506.8h0.9v0.9h-0.9zM173.5 517.3h0.9v0.9h-0.9zM176.0 503.8h0.9v0.9h-0.9zM181.7 499.4h0.9v0.9h-0.9zM161.0 503.3h0.9v0.9h-0.9zM188.0 501.9h0.9v0.9h-0.9zM183.2 500.5h0.9v0.9h-0.9zM171.8 504.8h0.9v0.9h-0.9zM171.1 505.3h0.9v0.9h-0.9zM173.3 511.7h0.9v0.9h-0.9zM180.0 504.1h0.9v0.9h-0.9zM185.9 509.0h0.9v0.9h-0.9zM174.8 505.2h0.9v0.9h-0.9zM179.3 503.8h0.9v0.9h-0.9zM189.0 505.5h0.9v0.9h-0.9zM187.6 505.9h0.9v0.9h-0.9zM172.2 502.8h0.9v0.9h-0.9zM188.3 502.4h0.9v0.9h-0.9zM185.4 506.5h0.9v0.9h-0.9zM169.0 499.7h0.9v0.9h-0.9zM172.4 505.2h0.9v0.9h-0.9zM178.4 503.7h0.9v0.9h-0.9zM190.9 507.2h0.9v0.9h-0.9zM180.2 508.0h0.9v0.9h-0.9zM179.9 511.7h0.9v0.9h-0.9zM169.1 508.3h0.9v0.9h-0.9zM178.7 505.4h0.9v0.9h-0.9zM189.2 506.1h0.9v0.9h-0.9zM176.1 496.9h0.9v0.9h-0.9zM189.5 506.6h0.9v0.9h-0.9zM189.8 498.7h0.9v0.9h-0.9zM177.4 506.8h0.9v0.9h-0.9zM167.3 502.4h0.9v0.9h-0.9zM187.0 512.2h0.9v0.9h-0.9zM191.1 513.4h0.9v0.9h-0.9zM177.5 497.5h0.9v0.9h-0.9zM174.9 506.5h0.9v0.9h-0.9zM181.1 503.1h0.9v0.9h-0.9zM168.3 501.0h0.9v0.9h-0.9zM192.4 512.4h0.9v0.9h-0.9zM171.0 507.0h0.9v0.9h-0.9zM184.3 504.8h0.9v0.9h-0.9zM171.7 504.0h0.9v0.9h-0.9zM171.2 507.5h0.9v0.9h-0.9zM179.3 506.4h0.9v0.9h-0.9zM181.4 511.6h0.9v0.9h-0.9zM178.2 497.1h0.9v0.9h-0.9zM173.7 502.3h0.9v0.9h-0.9zM176.6 503.6h0.9v0.9h-0.9zM173.7 507.5h0.9v0.9h-0.9zM171.5 498.1h0.9v0.9h-0.9zM172.4 502.6h0.9v0.9h-0.9zM180.1 505.5h0.9v0.9h-0.9zM167.3 500.2h0.9v0.9h-0.9zM174.5 503.7h0.9v0.9h-0.9zM172.0 504.3h0.9v0.9h-0.9zM179.1 505.9h0.9v0.9h-0.9zM183.0 508.4h0.9v0.9h-0.9zM183.1 509.1h0.9v0.9h-0.9zM179.0 503.3h0.9v0.9h-0.9zM178.2 505.8h0.9v0.9h-0.9zM170.7 510.0h0.9v0.9h-0.9zM178.9 501.7h0.9v0.9h-0.9zM170.3 508.8h0.9v0.9h-0.9z" fill="#444" opacity="0.6"/><path d="M167.9 479.8h0.9v0.9h-0.9zM196.4 487.2h0.9v0.9h-0.9zM172.2 476.4h0.9v0.9h-0.9zM184.1 478.9h0.9v0.9h-0.9zM183.7 473.5h0.9v0.9h-0.9zM188.5 494.3h0.9v0.9h-0.9z" fill="#444" opacity="0.6"/><rect x="129.90" y="444.30" width="77.10" height="75.00" fill="none" stroke="#444" stroke-width="1"/><rect x="165.80" y="464.60" width="29.80" height="35.50" fill="none" stroke="#444" stroke-width="1.2"/><path d="M262.9 502.5h0.9v0.9h-0.9zM263.0 507.8h0.9v0.9h-0.9zM256.4 507.3h0.9v0.9h-0.9zM261.7 502.5h0.9v0.9h-0.9zM268.6 502.9h0.9v0.9h-0.9zM259.5 506.5h0.9v0.9h-0.9zM254.1 502.4h0.9v0.9h-0.9zM265.9 510.3h0.9v0.9h-0.9zM257.2 504.5h0.9v0.9h-0.9zM261.8 506.3h0.9v0.9h-0.9zM265.8 492.8h0.9v0.9h-0.9zM262.0 502.5h0.9v0.9h-0.9zM257.8 510.2h0.9v0.9h-0.9zM271.0 507.3h0.9v0.9h-0.9zM258.1 501.5h0.9v0.9h-0.9zM264.3 506.5h0.9v0.9h-0.9zM277.6 505.3h0.9v0.9h-0.9zM266.0 501.8h0.9v0.9h-0.9zM256.3 508.4h0.9v0.9h-0.9zM257.4 505.2h0.9v0.9h-0.9zM258.5 502.4h0.9v0.9h-0.9zM263.5 500.3h0.9v0.9h-0.9zM261.7 509.2h0.9v0.9h-0.9zM255.7 502.8h0.9v0.9h-0.9zM265.1 500.1h0.9v0.9h-0.9zM250.2 510.0h0.9v0.9h-0.9zM269.9 506.5h0.9v0.9h-0.9zM262.7 503.6h0.9v0.9h-0.9zM277.1 507.7h0.9v0.9h-0.9zM262.1 508.0h0.9v0.9h-0.9zM261.2 500.3h0.9v0.9h-0.9zM265.9 512.6h0.9v0.9h-0.9zM263.2 505.2h0.9v0.9h-0.9zM261.0 507.5h0.9v0.9h-0.9zM258.9 509.2h0.9v0.9h-0.9zM255.5 502.3h0.9v0.9h-0.9zM266.2 503.0h0.9v0.9h-0.9zM260.8 508.0h0.9v0.9h-0.9zM267.5 504.7h0.9v0.9h-0.9zM255.8 513.2h0.9v0.9h-0.9zM275.5 505.3h0.9v0.9h-0.9zM270.2 503.2h0.9v0.9h-0.9zM262.6 506.2h0.9v0.9h-0.9zM252.9 499.7h0.9v0.9h-0.9zM263.8 507.2h0.9v0.9h-0.9zM258.8 510.5h0.9v0.9h-0.9zM260.8 510.8h0.9v0.9h-0.9zM244.5 504.4h0.9v0.9h-0.9zM251.1 505.4h0.9v0.9h-0.9zM258.6 501.6h0.9v0.9h-0.9zM253.5 507.8h0.9v0.9h-0.9zM275.0 501.8h0.9v0.9h-0.9zM254.0 506.9h0.9v0.9h-0.9zM257.5 505.1h0.9v0.9h-0.9zM263.4 500.8h0.9v0.9h-0.9zM273.9 505.9h0.9v0.9h-0.9zM249.3 503.9h0.9v0.9h-0.9zM262.1 505.3h0.9v0.9h-0.9zM257.1 509.4h0.9v0.9h-0.9zM258.1 504.9h0.9v0.9h-0.9zM263.6 508.0h0.9v0.9h-0.9zM279.7 506.5h0.9v0.9h-0.9zM261.4 513.4h0.9v0.9h-0.9zM266.0 514.3h0.9v0.9h-0.9zM264.2 504.0h0.9v0.9h-0.9zM272.3 502.2h0.9v0.9h-0.9zM262.1 502.2h0.9v0.9h-0.9zM257.0 506.3h0.9v0.9h-0.9zM268.0 507.3h0.9v0.9h-0.9zM270.8 508.4h0.9v0.9h-0.9zM259.0 512.6h0.9v0.9h-0.9zM268.1 504.1h0.9v0.9h-0.9zM271.4 507.6h0.9v0.9h-0.9zM252.8 506.7h0.9v0.9h-0.9zM268.5 508.3h0.9v0.9h-0.9zM257.7 517.9h0.9v0.9h-0.9zM258.1 502.3h0.9v0.9h-0.9zM238.0 507.0h0.9v0.9h-0.9zM253.2 503.7h0.9v0.9h-0.9zM264.3 500.6h0.9v0.9h-0.9zM259.0 507.5h0.9v0.9h-0.9zM252.4 506.2h0.9v0.9h-0.9zM263.9 508.0h0.9v0.9h-0.9zM264.0 507.7h0.9v0.9h-0.9zM260.4 505.9h0.9v0.9h-0.9zM277.7 501.8h0.9v0.9h-0.9zM270.8 503.0h0.9v0.9h-0.9zM259.3 506.6h0.9v0.9h-0.9zM270.7 507.3h0.9v0.9h-0.9zM259.3 512.0h0.9v0.9h-0.9zM248.0 508.8h0.9v0.9h-0.9zM255.5 508.6h0.9v0.9h-0.9zM269.7 506.9h0.9v0.9h-0.9zM269.9 507.1h0.9v0.9h-0.9zM252.8 506.5h0.9v0.9h-0.9z" fill="#444" opacity="0.6"/><path d="M268.1 493.8h0.9v0.9h-0.9zM265.9 499.3h0.9v0.9h-0.9zM269.2 498.7h0.9v0.9h-0.9zM264.0 495.5h0.9v0.9h-0.9zM267.4 490.6h0.9v0.9h-0.9zM273.3 487.6h0.9v0.9h-0.9zM267.8 494.5h0.9v0.9h-0.9zM257.1 492.2h0.9v0.9h-0.9zM270.3 491.2h0.9v0.9h-0.9zM259.9 499.6h0.9v0.9h-0.9zM266.6 498.6h0.9v0.9h-0.9zM261.1 487.9h0.9v0.9h-0.9z" fill="#444" opacity="0.6"/><rect x="215.70" y="444.30" width="76.60" height="75.00" fill="none" stroke="#666" stroke-width="1"/><rect x="251.30" y="464.60" width="29.00" height="35.50" fill="none" stroke="#222" stroke-width="1.2"/><path d="M342.6 501.7h0.9v0.9h-0.9zM355.6 501.9h0.9v0.9h-0.9zM335.4 503.6h0.9v0.9h-0.9zM344.7 500.4h0.9v0.9h-0.9zM354.2 500.6h0.9v0.9h-0.9zM349.8 501.0h0.9v0.9h-0.9zM345.4 493.4h0.9v0.9h-0.9zM353.1 505.0h0.9v0.9h-0.9zM344.6 504.2h0.9v0.9h-0.9zM344.7 501.6h0.9v0.9h-0.9zM346.7 504.0h0.9v0.9h-0.9zM336.4 505.8h0.9v0.9h-0.9zM339.6 503.5h0.9v0.9h-0.9zM359.4 507.6h0.9v0.9h-0.9zM340.2 510.8h0.9v0.9h-0.9zM338.9 504.9h0.9v0.9h-0.9zM345.0 509.4h0.9v0.9h-0.9zM351.2 502.0h0.9v0.9h-0.9zM338.5 507.3h0.9v0.9h-0.9zM349.1 498.0h0.9v0.9h-0.9zM348.9 505.0h0.9v0.9h-0.9zM342.5 503.0h0.9v0.9h-0.9zM334.2 508.4h0.9v0.9h-0.9zM348.7 498.2h0.9v0.9h-0.9zM347.0 506.6h0.9v0.9h-0.9zM340.6 504.5h0.9v0.9h-0.9zM346.2 503.9h0.9v0.9h-0.9zM340.9 513.8h0.9v0.9h-0.9zM349.8 506.1h0.9v0.9h-0.9zM338.4 501.6h0.9v0.9h-0.9zM351.3 504.1h0.9v0.9h-0.9zM345.9 502.0h0.9v0.9h-0.9zM347.6 508.0h0.9v0.9h-0.9zM337.6 501.5h0.9v0.9h-0.9zM338.8 504.9h0.9v0.9h-0.9zM347.1 503.4h0.9v0.9h-0.9zM339.4 505.6h0.9v0.9h-0.9zM345.3 506.9h0.9v0.9h-0.9zM344.8 503.1h0.9v0.9h-0.9zM342.7 502.9h0.9v0.9h-0.9zM353.7 499.9h0.9v0.9h-0.9zM334.1 503.5h0.9v0.9h-0.9zM339.5 496.4h0.9v0.9h-0.9zM346.9 499.1h0.9v0.9h-0.9zM339.6 512.8h0.9v0.9h-0.9zM342.2 501.8h0.9v0.9h-0.9zM337.3 510.8h0.9v0.9h-0.9zM331.6 505.7h0.9v0.9h-0.9zM346.6 511.7h0.9v0.9h-0.9zM338.9 507.0h0.9v0.9h-0.9zM338.2 507.5h0.9v0.9h-0.9zM343.1 503.2h0.9v0.9h-0.9zM341.3 501.4h0.9v0.9h-0.9zM351.0 502.7h0.9v0.9h-0.9zM345.2 502.7h0.9v0.9h-0.9zM350.1 508.9h0.9v0.9h-0.9zM342.1 504.0h0.9v0.9h-0.9zM352.2 506.5h0.9v0.9h-0.9zM352.5 512.7h0.9v0.9h-0.9zM356.7 510.5h0.9v0.9h-0.9zM358.2 499.6h0.9v0.9h-0.9zM338.6 507.2h0.9v0.9h-0.9zM334.7 503.8h0.9v0.9h-0.9zM343.4 501.0h0.9v0.9h-0.9zM341.2 510.8h0.9v0.9h-0.9zM353.5 508.0h0.9v0.9h-0.9zM343.5 501.1h0.9v0.9h-0.9zM334.0 505.7h0.9v0.9h-0.9zM340.6 510.0h0.9v0.9h-0.9zM349.6 501.9h0.9v0.9h-0.9z" fill="#444" opacity="0.6"/><path d="M362.2 484.9h0.9v0.9h-0.9zM359.5 485.9h0.9v0.9h-0.9zM362.7 492.9h0.9v0.9h-0.9zM358.6 491.6h0.9v0.9h-0.9zM356.9 487.9h0.9v0.9h-0.9zM354.4 497.1h0.9v0.9h-0.9zM351.5 501.5h0.9v0.9h-0.9zM356.3 489.7h0.9v0.9h-0.9zM354.9 491.3h0.9v0.9h-0.9zM361.9 498.5h0.9v0.9h-0.9zM358.5 490.3h0.9v0.9h-0.9zM355.4 496.7h0.9v0.9h-0.9zM363.2 493.8h0.9v0.9h-0.9zM361.6 490.4h0.9v0.9h-0.9zM360.1 494.7h0.9v0.9h-0.9z" fill="#444" opacity="0.6"/><rect x="300.00" y="444.30" width="77.30" height="75.00" fill="none" stroke="#666" stroke-width="1"/><rect x="335.50" y="464.60" width="29.30" height="35.50" fill="none" stroke="#999" stroke-width="1.2"/><path d="M39.2 517.2 V530.7 H77" fill="none" stroke="#222" stroke-width="1.2"/><path d="M35.5 517.8 L39.2 511.2 L42.900000000000006 517.8Z" fill="#222"/><path d="M76.2 527.4000000000001 L83 530.7 L76.2 534.0Z" fill="#222"/><path d="M86.9 582.8h0.9v0.9h-0.9zM96.1 587.1h0.9v0.9h-0.9zM93.6 579.5h0.9v0.9h-0.9zM88.1 584.7h0.9v0.9h-0.9zM86.3 590.4h0.9v0.9h-0.9zM93.7 591.6h0.9v0.9h-0.9zM100.2 596.0h0.9v0.9h-0.9zM84.4 586.8h0.9v0.9h-0.9zM92.2 574.9h0.9v0.9h-0.9zM87.7 603.0h0.9v0.9h-0.9zM78.1 580.0h0.9v0.9h-0.9zM90.2 594.3h0.9v0.9h-0.9zM100.1 592.9h0.9v0.9h-0.9zM83.9 576.8h0.9v0.9h-0.9zM82.2 599.6h0.9v0.9h-0.9zM91.1 572.3h0.9v0.9h-0.9zM101.0 590.2h0.9v0.9h-0.9zM99.6 583.3h0.9v0.9h-0.9zM83.8 590.8h0.9v0.9h-0.9zM90.5 592.2h0.9v0.9h-0.9zM97.1 579.8h0.9v0.9h-0.9zM93.9 582.9h0.9v0.9h-0.9zM82.4 595.0h0.9v0.9h-0.9zM95.2 594.5h0.9v0.9h-0.9zM87.1 588.7h0.9v0.9h-0.9zM91.1 575.3h0.9v0.9h-0.9zM83.4 594.9h0.9v0.9h-0.9zM93.4 586.5h0.9v0.9h-0.9zM95.3 586.9h0.9v0.9h-0.9zM87.6 589.3h0.9v0.9h-0.9zM97.7 590.3h0.9v0.9h-0.9zM96.4 594.3h0.9v0.9h-0.9zM100.3 581.2h0.9v0.9h-0.9zM92.6 591.7h0.9v0.9h-0.9zM95.2 579.6h0.9v0.9h-0.9zM96.2 586.7h0.9v0.9h-0.9zM86.0 583.3h0.9v0.9h-0.9zM96.5 591.9h0.9v0.9h-0.9zM85.6 586.3h0.9v0.9h-0.9zM99.6 586.4h0.9v0.9h-0.9zM91.2 587.7h0.9v0.9h-0.9zM93.7 589.5h0.9v0.9h-0.9zM92.4 588.9h0.9v0.9h-0.9zM91.9 580.2h0.9v0.9h-0.9zM87.5 593.1h0.9v0.9h-0.9zM86.2 589.4h0.9v0.9h-0.9zM83.9 585.7h0.9v0.9h-0.9zM89.3 596.1h0.9v0.9h-0.9zM93.1 591.5h0.9v0.9h-0.9zM88.6 593.4h0.9v0.9h-0.9zM88.6 595.9h0.9v0.9h-0.9zM88.4 577.2h0.9v0.9h-0.9zM91.5 587.7h0.9v0.9h-0.9zM92.3 591.7h0.9v0.9h-0.9zM93.9 572.7h0.9v0.9h-0.9zM94.7 600.4h0.9v0.9h-0.9zM96.3 578.4h0.9v0.9h-0.9zM86.4 584.0h0.9v0.9h-0.9zM87.8 582.8h0.9v0.9h-0.9zM86.1 596.7h0.9v0.9h-0.9zM91.0 605.0h0.9v0.9h-0.9zM89.9 590.5h0.9v0.9h-0.9zM87.6 583.0h0.9v0.9h-0.9zM84.9 592.0h0.9v0.9h-0.9zM92.2 592.0h0.9v0.9h-0.9zM85.3 571.2h0.9v0.9h-0.9zM93.2 589.0h0.9v0.9h-0.9zM92.9 589.6h0.9v0.9h-0.9zM98.3 590.5h0.9v0.9h-0.9zM86.6 586.7h0.9v0.9h-0.9zM87.1 593.1h0.9v0.9h-0.9zM86.3 598.5h0.9v0.9h-0.9zM95.1 591.7h0.9v0.9h-0.9zM88.4 588.0h0.9v0.9h-0.9zM87.7 589.2h0.9v0.9h-0.9zM90.2 583.6h0.9v0.9h-0.9zM91.9 591.1h0.9v0.9h-0.9zM97.5 591.9h0.9v0.9h-0.9zM93.4 601.8h0.9v0.9h-0.9zM90.0 587.0h0.9v0.9h-0.9zM83.7 605.7h0.9v0.9h-0.9zM94.0 569.6h0.9v0.9h-0.9zM92.7 590.2h0.9v0.9h-0.9zM96.8 596.0h0.9v0.9h-0.9zM92.8 584.5h0.9v0.9h-0.9zM96.6 591.8h0.9v0.9h-0.9zM89.9 594.8h0.9v0.9h-0.9zM78.5 596.9h0.9v0.9h-0.9zM91.4 600.1h0.9v0.9h-0.9zM93.3 596.6h0.9v0.9h-0.9zM89.4 587.3h0.9v0.9h-0.9zM98.8 582.9h0.9v0.9h-0.9zM79.0 578.0h0.9v0.9h-0.9zM89.4 584.5h0.9v0.9h-0.9zM89.0 591.8h0.9v0.9h-0.9zM103.4 585.8h0.9v0.9h-0.9zM89.0 572.2h0.9v0.9h-0.9zM88.8 587.1h0.9v0.9h-0.9zM100.8 585.3h0.9v0.9h-0.9zM99.1 580.3h0.9v0.9h-0.9zM85.0 593.4h0.9v0.9h-0.9zM101.5 599.2h0.9v0.9h-0.9zM93.2 582.2h0.9v0.9h-0.9zM87.8 583.6h0.9v0.9h-0.9zM84.7 593.6h0.9v0.9h-0.9zM89.0 595.5h0.9v0.9h-0.9zM101.5 580.1h0.9v0.9h-0.9zM93.1 571.5h0.9v0.9h-0.9zM90.1 597.7h0.9v0.9h-0.9zM80.7 574.8h0.9v0.9h-0.9zM99.8 590.3h0.9v0.9h-0.9zM87.0 579.0h0.9v0.9h-0.9zM83.8 588.7h0.9v0.9h-0.9zM92.5 578.7h0.9v0.9h-0.9zM89.1 580.3h0.9v0.9h-0.9zM97.5 581.2h0.9v0.9h-0.9zM94.5 581.9h0.9v0.9h-0.9zM95.7 581.2h0.9v0.9h-0.9zM100.7 583.4h0.9v0.9h-0.9zM95.6 593.1h0.9v0.9h-0.9zM87.7 590.5h0.9v0.9h-0.9zM90.4 589.6h0.9v0.9h-0.9zM94.2 586.5h0.9v0.9h-0.9zM97.6 578.4h0.9v0.9h-0.9zM89.8 593.5h0.9v0.9h-0.9zM93.9 579.9h0.9v0.9h-0.9zM94.7 593.9h0.9v0.9h-0.9zM90.9 586.9h0.9v0.9h-0.9zM88.7 583.6h0.9v0.9h-0.9zM81.7 583.0h0.9v0.9h-0.9zM92.2 581.2h0.9v0.9h-0.9zM93.0 579.2h0.9v0.9h-0.9zM85.4 592.9h0.9v0.9h-0.9zM86.7 593.9h0.9v0.9h-0.9zM100.2 581.9h0.9v0.9h-0.9zM90.0 589.8h0.9v0.9h-0.9zM91.0 585.1h0.9v0.9h-0.9zM84.0 583.2h0.9v0.9h-0.9zM99.0 582.4h0.9v0.9h-0.9zM92.6 577.3h0.9v0.9h-0.9zM85.2 589.7h0.9v0.9h-0.9zM92.1 586.6h0.9v0.9h-0.9zM89.8 582.0h0.9v0.9h-0.9zM85.2 590.5h0.9v0.9h-0.9zM93.0 589.9h0.9v0.9h-0.9zM82.0 570.2h0.9v0.9h-0.9zM94.1 591.2h0.9v0.9h-0.9zM85.5 584.3h0.9v0.9h-0.9zM94.5 598.0h0.9v0.9h-0.9zM87.1 581.9h0.9v0.9h-0.9zM85.8 584.9h0.9v0.9h-0.9zM88.4 592.8h0.9v0.9h-0.9zM98.5 597.2h0.9v0.9h-0.9zM97.7 588.8h0.9v0.9h-0.9zM89.7 576.7h0.9v0.9h-0.9zM94.0 596.1h0.9v0.9h-0.9zM91.4 577.8h0.9v0.9h-0.9zM88.0 582.5h0.9v0.9h-0.9zM86.7 605.9h0.9v0.9h-0.9zM83.6 594.2h0.9v0.9h-0.9zM91.2 585.8h0.9v0.9h-0.9zM98.7 585.5h0.9v0.9h-0.9zM93.6 596.4h0.9v0.9h-0.9zM91.3 581.8h0.9v0.9h-0.9zM93.9 588.0h0.9v0.9h-0.9zM98.0 588.0h0.9v0.9h-0.9zM93.9 587.0h0.9v0.9h-0.9zM93.9 574.3h0.9v0.9h-0.9zM104.4 588.5h0.9v0.9h-0.9zM87.8 583.4h0.9v0.9h-0.9zM101.2 585.3h0.9v0.9h-0.9zM83.2 595.3h0.9v0.9h-0.9zM87.1 581.1h0.9v0.9h-0.9zM89.1 594.3h0.9v0.9h-0.9zM100.3 576.7h0.9v0.9h-0.9zM91.6 579.6h0.9v0.9h-0.9zM88.6 589.8h0.9v0.9h-0.9zM79.8 571.2h0.9v0.9h-0.9zM86.0 577.5h0.9v0.9h-0.9zM90.3 594.8h0.9v0.9h-0.9zM89.7 585.2h0.9v0.9h-0.9zM93.2 578.4h0.9v0.9h-0.9zM85.7 593.3h0.9v0.9h-0.9zM93.3 574.9h0.9v0.9h-0.9zM89.6 583.6h0.9v0.9h-0.9zM95.8 581.4h0.9v0.9h-0.9zM87.1 587.2h0.9v0.9h-0.9zM86.5 598.4h0.9v0.9h-0.9zM87.7 584.0h0.9v0.9h-0.9zM91.8 588.3h0.9v0.9h-0.9zM104.7 594.7h0.9v0.9h-0.9zM91.5 573.4h0.9v0.9h-0.9zM99.7 588.4h0.9v0.9h-0.9zM90.0 599.8h0.9v0.9h-0.9zM93.8 575.4h0.9v0.9h-0.9zM86.6 581.6h0.9v0.9h-0.9zM88.1 582.0h0.9v0.9h-0.9zM88.3 589.9h0.9v0.9h-0.9zM91.4 589.2h0.9v0.9h-0.9zM93.5 585.5h0.9v0.9h-0.9zM90.1 577.7h0.9v0.9h-0.9zM90.8 578.3h0.9v0.9h-0.9zM91.1 585.0h0.9v0.9h-0.9zM87.4 580.8h0.9v0.9h-0.9zM86.4 584.6h0.9v0.9h-0.9zM90.9 578.3h0.9v0.9h-0.9zM95.8 575.1h0.9v0.9h-0.9zM88.9 590.0h0.9v0.9h-0.9zM89.1 581.0h0.9v0.9h-0.9zM87.6 588.3h0.9v0.9h-0.9z" fill="#222" opacity="0.65"/><path d="M87.9 573.2h0.9v0.9h-0.9zM90.2 570.1h0.9v0.9h-0.9zM98.9 574.4h0.9v0.9h-0.9zM97.4 578.0h0.9v0.9h-0.9zM98.8 577.7h0.9v0.9h-0.9zM104.3 571.8h0.9v0.9h-0.9zM81.8 567.6h0.9v0.9h-0.9zM101.4 567.9h0.9v0.9h-0.9zM88.7 565.6h0.9v0.9h-0.9zM103.9 574.9h0.9v0.9h-0.9zM104.9 562.8h0.9v0.9h-0.9zM100.2 574.8h0.9v0.9h-0.9z" fill="#222" opacity="0.65"/><rect x="46.90" y="538.70" width="77.00" height="75.30" fill="none" stroke="#777" stroke-width="1"/><rect x="79.50" y="543.10" width="33.30" height="31.30" fill="none" stroke="#111" stroke-width="1.4"/><path d="M171.3 586.0h0.9v0.9h-0.9zM174.7 596.2h0.9v0.9h-0.9zM164.7 577.4h0.9v0.9h-0.9zM164.5 585.1h0.9v0.9h-0.9zM172.5 597.6h0.9v0.9h-0.9zM174.4 568.6h0.9v0.9h-0.9zM177.7 595.2h0.9v0.9h-0.9zM177.6 593.4h0.9v0.9h-0.9zM172.8 583.4h0.9v0.9h-0.9zM172.0 569.9h0.9v0.9h-0.9zM183.5 584.2h0.9v0.9h-0.9zM170.3 584.6h0.9v0.9h-0.9zM172.6 579.3h0.9v0.9h-0.9zM173.3 598.9h0.9v0.9h-0.9zM176.6 589.8h0.9v0.9h-0.9zM183.9 597.7h0.9v0.9h-0.9zM181.0 582.6h0.9v0.9h-0.9zM175.4 571.9h0.9v0.9h-0.9zM165.9 597.5h0.9v0.9h-0.9zM173.6 601.2h0.9v0.9h-0.9zM168.0 588.1h0.9v0.9h-0.9zM166.5 591.0h0.9v0.9h-0.9zM170.3 582.7h0.9v0.9h-0.9zM183.6 580.7h0.9v0.9h-0.9zM180.6 600.2h0.9v0.9h-0.9zM159.3 589.8h0.9v0.9h-0.9zM172.3 587.8h0.9v0.9h-0.9zM178.3 572.9h0.9v0.9h-0.9zM181.3 581.0h0.9v0.9h-0.9zM176.5 574.4h0.9v0.9h-0.9zM173.9 590.1h0.9v0.9h-0.9zM170.1 598.6h0.9v0.9h-0.9zM166.6 589.8h0.9v0.9h-0.9zM172.3 581.1h0.9v0.9h-0.9zM168.4 572.8h0.9v0.9h-0.9zM176.3 569.5h0.9v0.9h-0.9zM176.9 604.0h0.9v0.9h-0.9zM172.5 590.9h0.9v0.9h-0.9zM176.2 596.6h0.9v0.9h-0.9zM175.2 585.4h0.9v0.9h-0.9zM176.8 599.5h0.9v0.9h-0.9zM172.9 589.0h0.9v0.9h-0.9zM185.4 597.5h0.9v0.9h-0.9zM182.3 578.3h0.9v0.9h-0.9zM175.6 604.5h0.9v0.9h-0.9zM173.5 578.1h0.9v0.9h-0.9zM171.7 601.5h0.9v0.9h-0.9zM170.1 595.5h0.9v0.9h-0.9zM177.6 594.3h0.9v0.9h-0.9zM168.5 586.7h0.9v0.9h-0.9zM171.6 587.3h0.9v0.9h-0.9zM172.7 584.7h0.9v0.9h-0.9zM170.9 583.6h0.9v0.9h-0.9zM170.6 584.2h0.9v0.9h-0.9zM176.2 589.5h0.9v0.9h-0.9zM175.6 580.8h0.9v0.9h-0.9zM170.1 586.8h0.9v0.9h-0.9zM185.1 588.1h0.9v0.9h-0.9zM173.1 585.2h0.9v0.9h-0.9zM182.0 601.4h0.9v0.9h-0.9zM166.7 565.0h0.9v0.9h-0.9zM162.9 595.7h0.9v0.9h-0.9zM180.7 606.7h0.9v0.9h-0.9zM174.6 594.2h0.9v0.9h-0.9zM172.2 582.8h0.9v0.9h-0.9zM159.7 585.9h0.9v0.9h-0.9zM179.0 594.5h0.9v0.9h-0.9zM175.5 585.9h0.9v0.9h-0.9zM174.2 599.7h0.9v0.9h-0.9zM176.8 588.2h0.9v0.9h-0.9zM175.0 583.9h0.9v0.9h-0.9zM170.1 579.3h0.9v0.9h-0.9zM174.9 588.2h0.9v0.9h-0.9zM174.8 590.2h0.9v0.9h-0.9zM178.0 582.9h0.9v0.9h-0.9zM164.5 582.8h0.9v0.9h-0.9zM180.6 581.9h0.9v0.9h-0.9zM168.6 568.7h0.9v0.9h-0.9zM182.6 593.1h0.9v0.9h-0.9zM170.8 608.4h0.9v0.9h-0.9zM170.4 603.5h0.9v0.9h-0.9zM174.7 592.9h0.9v0.9h-0.9zM175.1 591.4h0.9v0.9h-0.9zM179.2 604.0h0.9v0.9h-0.9zM173.0 581.4h0.9v0.9h-0.9zM165.3 598.5h0.9v0.9h-0.9zM165.2 593.6h0.9v0.9h-0.9zM170.8 563.8h0.9v0.9h-0.9zM165.2 594.2h0.9v0.9h-0.9zM173.5 585.1h0.9v0.9h-0.9zM170.8 572.4h0.9v0.9h-0.9zM173.1 570.1h0.9v0.9h-0.9zM168.1 583.4h0.9v0.9h-0.9zM167.8 590.0h0.9v0.9h-0.9zM178.5 606.7h0.9v0.9h-0.9z" fill="#222" opacity="0.65"/><path d="M182.0 565.2h0.9v0.9h-0.9zM185.8 569.8h0.9v0.9h-0.9zM183.4 567.6h0.9v0.9h-0.9zM173.0 566.4h0.9v0.9h-0.9zM180.8 571.5h0.9v0.9h-0.9zM176.4 574.1h0.9v0.9h-0.9zM172.8 563.6h0.9v0.9h-0.9zM178.4 564.9h0.9v0.9h-0.9zM184.7 563.8h0.9v0.9h-0.9zM176.4 566.0h0.9v0.9h-0.9z" fill="#222" opacity="0.65"/><rect x="129.90" y="538.70" width="77.10" height="75.30" fill="none" stroke="#777" stroke-width="1"/><rect x="163.30" y="543.10" width="35.30" height="31.30" fill="none" stroke="#111" stroke-width="1.4"/><path d="M253.0 593.8h0.9v0.9h-0.9zM255.3 592.7h0.9v0.9h-0.9zM257.3 591.7h0.9v0.9h-0.9zM251.1 588.9h0.9v0.9h-0.9zM255.1 598.8h0.9v0.9h-0.9zM254.2 586.7h0.9v0.9h-0.9zM261.4 598.1h0.9v0.9h-0.9zM258.0 590.0h0.9v0.9h-0.9zM263.6 579.8h0.9v0.9h-0.9zM256.6 585.6h0.9v0.9h-0.9zM253.0 578.4h0.9v0.9h-0.9zM249.9 595.0h0.9v0.9h-0.9zM260.4 585.8h0.9v0.9h-0.9zM257.4 591.8h0.9v0.9h-0.9zM253.2 585.7h0.9v0.9h-0.9zM254.6 591.0h0.9v0.9h-0.9zM256.2 591.5h0.9v0.9h-0.9zM265.1 587.2h0.9v0.9h-0.9zM262.5 585.4h0.9v0.9h-0.9zM256.8 593.0h0.9v0.9h-0.9zM258.0 593.5h0.9v0.9h-0.9zM259.1 598.4h0.9v0.9h-0.9zM259.3 581.6h0.9v0.9h-0.9zM254.2 589.0h0.9v0.9h-0.9zM266.5 586.5h0.9v0.9h-0.9zM254.9 575.7h0.9v0.9h-0.9zM259.0 606.4h0.9v0.9h-0.9zM257.8 593.4h0.9v0.9h-0.9zM256.3 587.1h0.9v0.9h-0.9zM262.6 579.8h0.9v0.9h-0.9zM261.1 586.1h0.9v0.9h-0.9zM260.3 593.0h0.9v0.9h-0.9zM260.1 582.2h0.9v0.9h-0.9zM258.9 583.2h0.9v0.9h-0.9zM255.6 580.4h0.9v0.9h-0.9zM256.9 593.3h0.9v0.9h-0.9zM263.4 587.0h0.9v0.9h-0.9zM255.0 581.5h0.9v0.9h-0.9zM264.9 592.1h0.9v0.9h-0.9zM256.9 580.3h0.9v0.9h-0.9zM260.8 605.5h0.9v0.9h-0.9zM260.6 590.6h0.9v0.9h-0.9zM262.9 594.0h0.9v0.9h-0.9zM250.9 580.9h0.9v0.9h-0.9zM267.4 593.8h0.9v0.9h-0.9zM256.6 586.9h0.9v0.9h-0.9zM255.0 598.3h0.9v0.9h-0.9zM255.9 600.0h0.9v0.9h-0.9zM265.4 592.2h0.9v0.9h-0.9zM257.4 590.9h0.9v0.9h-0.9zM259.8 590.1h0.9v0.9h-0.9zM253.9 593.2h0.9v0.9h-0.9zM263.3 568.1h0.9v0.9h-0.9zM257.1 585.6h0.9v0.9h-0.9zM262.9 592.1h0.9v0.9h-0.9zM257.7 598.3h0.9v0.9h-0.9zM258.2 591.8h0.9v0.9h-0.9zM262.8 585.0h0.9v0.9h-0.9zM259.9 582.2h0.9v0.9h-0.9zM261.3 583.3h0.9v0.9h-0.9zM263.3 588.4h0.9v0.9h-0.9zM262.0 590.1h0.9v0.9h-0.9zM259.8 582.7h0.9v0.9h-0.9zM265.9 593.9h0.9v0.9h-0.9zM263.6 597.8h0.9v0.9h-0.9zM261.5 576.8h0.9v0.9h-0.9zM257.8 588.8h0.9v0.9h-0.9zM254.4 596.1h0.9v0.9h-0.9zM259.1 587.3h0.9v0.9h-0.9zM260.8 582.0h0.9v0.9h-0.9zM265.6 587.7h0.9v0.9h-0.9zM261.8 581.5h0.9v0.9h-0.9zM262.1 598.5h0.9v0.9h-0.9zM267.4 586.4h0.9v0.9h-0.9zM258.5 596.4h0.9v0.9h-0.9zM261.9 589.0h0.9v0.9h-0.9zM249.7 577.2h0.9v0.9h-0.9zM257.7 593.3h0.9v0.9h-0.9zM257.6 585.3h0.9v0.9h-0.9zM253.4 605.4h0.9v0.9h-0.9zM255.3 592.1h0.9v0.9h-0.9zM256.0 588.5h0.9v0.9h-0.9zM254.8 588.7h0.9v0.9h-0.9zM262.7 584.2h0.9v0.9h-0.9zM257.0 611.9h0.9v0.9h-0.9zM251.8 583.6h0.9v0.9h-0.9zM261.5 586.0h0.9v0.9h-0.9zM265.1 585.8h0.9v0.9h-0.9zM255.7 590.7h0.9v0.9h-0.9zM262.1 602.3h0.9v0.9h-0.9zM261.0 575.4h0.9v0.9h-0.9zM269.8 585.8h0.9v0.9h-0.9zM257.1 579.7h0.9v0.9h-0.9zM249.9 594.7h0.9v0.9h-0.9zM259.0 596.0h0.9v0.9h-0.9zM250.9 595.5h0.9v0.9h-0.9zM263.6 585.3h0.9v0.9h-0.9zM253.7 573.2h0.9v0.9h-0.9zM252.0 598.6h0.9v0.9h-0.9zM260.6 594.9h0.9v0.9h-0.9zM261.0 588.7h0.9v0.9h-0.9zM259.2 600.8h0.9v0.9h-0.9zM259.6 582.7h0.9v0.9h-0.9zM255.3 585.7h0.9v0.9h-0.9zM265.5 579.9h0.9v0.9h-0.9zM259.9 580.8h0.9v0.9h-0.9zM261.2 590.2h0.9v0.9h-0.9zM256.3 584.7h0.9v0.9h-0.9zM262.9 580.3h0.9v0.9h-0.9zM255.7 593.1h0.9v0.9h-0.9zM252.8 589.7h0.9v0.9h-0.9zM260.3 591.1h0.9v0.9h-0.9zM256.9 584.1h0.9v0.9h-0.9zM264.8 593.0h0.9v0.9h-0.9zM261.3 592.3h0.9v0.9h-0.9zM256.0 595.0h0.9v0.9h-0.9zM254.5 597.5h0.9v0.9h-0.9zM262.5 598.7h0.9v0.9h-0.9zM257.2 583.9h0.9v0.9h-0.9zM263.7 593.1h0.9v0.9h-0.9zM258.7 593.0h0.9v0.9h-0.9zM254.7 589.9h0.9v0.9h-0.9zM261.0 593.7h0.9v0.9h-0.9zM254.4 604.6h0.9v0.9h-0.9zM256.3 586.1h0.9v0.9h-0.9zM252.6 585.4h0.9v0.9h-0.9zM265.0 597.0h0.9v0.9h-0.9zM257.2 582.9h0.9v0.9h-0.9zM259.3 597.9h0.9v0.9h-0.9zM260.5 592.3h0.9v0.9h-0.9zM264.8 582.1h0.9v0.9h-0.9zM258.0 584.5h0.9v0.9h-0.9zM263.2 592.1h0.9v0.9h-0.9zM262.9 585.8h0.9v0.9h-0.9zM259.7 584.6h0.9v0.9h-0.9zM252.4 588.2h0.9v0.9h-0.9zM260.2 586.4h0.9v0.9h-0.9zM264.0 583.2h0.9v0.9h-0.9zM258.4 585.8h0.9v0.9h-0.9zM264.2 581.9h0.9v0.9h-0.9zM263.0 597.0h0.9v0.9h-0.9zM258.5 598.5h0.9v0.9h-0.9zM264.1 587.7h0.9v0.9h-0.9zM257.9 584.5h0.9v0.9h-0.9zM257.9 595.1h0.9v0.9h-0.9zM256.7 592.9h0.9v0.9h-0.9zM258.7 586.2h0.9v0.9h-0.9zM251.8 593.4h0.9v0.9h-0.9zM264.5 590.5h0.9v0.9h-0.9zM255.1 584.4h0.9v0.9h-0.9zM263.8 586.8h0.9v0.9h-0.9zM258.1 594.3h0.9v0.9h-0.9zM253.4 596.8h0.9v0.9h-0.9zM259.9 591.3h0.9v0.9h-0.9zM254.1 601.6h0.9v0.9h-0.9zM259.8 598.9h0.9v0.9h-0.9zM262.1 588.1h0.9v0.9h-0.9zM264.9 587.3h0.9v0.9h-0.9zM265.8 601.9h0.9v0.9h-0.9zM249.6 596.9h0.9v0.9h-0.9zM263.9 597.4h0.9v0.9h-0.9zM262.3 584.7h0.9v0.9h-0.9zM257.9 599.7h0.9v0.9h-0.9zM261.5 588.8h0.9v0.9h-0.9zM253.3 588.3h0.9v0.9h-0.9zM264.9 587.0h0.9v0.9h-0.9zM263.4 587.0h0.9v0.9h-0.9zM265.8 600.9h0.9v0.9h-0.9zM263.2 575.5h0.9v0.9h-0.9zM263.2 585.9h0.9v0.9h-0.9zM254.8 589.2h0.9v0.9h-0.9zM263.4 604.2h0.9v0.9h-0.9zM253.1 580.7h0.9v0.9h-0.9zM255.0 594.9h0.9v0.9h-0.9zM262.8 576.9h0.9v0.9h-0.9zM261.0 586.9h0.9v0.9h-0.9zM265.6 596.2h0.9v0.9h-0.9zM263.6 586.4h0.9v0.9h-0.9zM261.9 594.0h0.9v0.9h-0.9zM260.4 584.1h0.9v0.9h-0.9zM253.9 583.7h0.9v0.9h-0.9zM262.0 583.3h0.9v0.9h-0.9zM260.7 572.8h0.9v0.9h-0.9zM264.0 599.5h0.9v0.9h-0.9zM263.1 587.8h0.9v0.9h-0.9zM257.4 582.4h0.9v0.9h-0.9zM259.0 582.2h0.9v0.9h-0.9zM255.4 579.6h0.9v0.9h-0.9zM257.8 570.2h0.9v0.9h-0.9zM251.1 596.6h0.9v0.9h-0.9zM259.1 596.2h0.9v0.9h-0.9zM265.2 585.8h0.9v0.9h-0.9zM260.7 587.5h0.9v0.9h-0.9zM261.9 579.0h0.9v0.9h-0.9zM261.0 594.8h0.9v0.9h-0.9zM261.6 598.0h0.9v0.9h-0.9zM268.0 595.2h0.9v0.9h-0.9zM256.6 578.5h0.9v0.9h-0.9zM255.5 585.6h0.9v0.9h-0.9zM255.5 597.4h0.9v0.9h-0.9zM260.1 588.3h0.9v0.9h-0.9zM254.3 594.3h0.9v0.9h-0.9zM259.1 587.4h0.9v0.9h-0.9zM259.2 593.2h0.9v0.9h-0.9zM259.8 590.1h0.9v0.9h-0.9zM258.8 594.0h0.9v0.9h-0.9zM257.6 586.9h0.9v0.9h-0.9zM270.3 604.3h0.9v0.9h-0.9zM255.5 592.9h0.9v0.9h-0.9zM249.4 599.1h0.9v0.9h-0.9zM257.7 586.3h0.9v0.9h-0.9zM256.2 600.6h0.9v0.9h-0.9zM256.8 596.9h0.9v0.9h-0.9zM259.4 581.7h0.9v0.9h-0.9zM254.5 570.9h0.9v0.9h-0.9zM254.3 587.0h0.9v0.9h-0.9zM262.9 603.7h0.9v0.9h-0.9zM262.1 596.6h0.9v0.9h-0.9zM266.5 599.8h0.9v0.9h-0.9zM260.0 605.4h0.9v0.9h-0.9zM265.7 584.7h0.9v0.9h-0.9zM252.2 579.6h0.9v0.9h-0.9zM260.1 586.2h0.9v0.9h-0.9zM262.9 597.2h0.9v0.9h-0.9zM262.7 585.0h0.9v0.9h-0.9zM254.3 589.0h0.9v0.9h-0.9zM265.9 592.7h0.9v0.9h-0.9zM266.4 576.1h0.9v0.9h-0.9zM256.9 597.6h0.9v0.9h-0.9zM256.8 587.9h0.9v0.9h-0.9zM259.8 576.1h0.9v0.9h-0.9zM261.0 581.4h0.9v0.9h-0.9zM257.5 595.0h0.9v0.9h-0.9zM262.5 592.2h0.9v0.9h-0.9zM258.2 582.7h0.9v0.9h-0.9zM259.5 593.5h0.9v0.9h-0.9zM260.5 604.9h0.9v0.9h-0.9zM256.9 601.7h0.9v0.9h-0.9zM262.9 587.4h0.9v0.9h-0.9zM259.3 591.0h0.9v0.9h-0.9zM259.1 582.7h0.9v0.9h-0.9zM259.7 588.1h0.9v0.9h-0.9zM260.9 587.9h0.9v0.9h-0.9zM253.7 593.6h0.9v0.9h-0.9zM257.2 605.3h0.9v0.9h-0.9zM258.4 585.5h0.9v0.9h-0.9zM259.8 597.0h0.9v0.9h-0.9zM257.1 595.7h0.9v0.9h-0.9zM259.2 606.6h0.9v0.9h-0.9zM257.1 586.5h0.9v0.9h-0.9zM257.3 586.4h0.9v0.9h-0.9zM259.0 598.0h0.9v0.9h-0.9zM262.9 585.3h0.9v0.9h-0.9zM257.8 584.3h0.9v0.9h-0.9zM257.8 597.3h0.9v0.9h-0.9zM262.0 587.8h0.9v0.9h-0.9zM257.7 594.4h0.9v0.9h-0.9zM262.2 591.2h0.9v0.9h-0.9zM255.2 598.4h0.9v0.9h-0.9zM256.1 587.9h0.9v0.9h-0.9zM262.6 599.5h0.9v0.9h-0.9zM268.6 608.5h0.9v0.9h-0.9zM264.2 590.0h0.9v0.9h-0.9zM253.1 593.9h0.9v0.9h-0.9zM256.9 593.6h0.9v0.9h-0.9zM259.2 593.7h0.9v0.9h-0.9zM258.4 604.6h0.9v0.9h-0.9zM263.0 574.7h0.9v0.9h-0.9zM258.0 580.1h0.9v0.9h-0.9zM253.9 585.1h0.9v0.9h-0.9zM254.2 580.3h0.9v0.9h-0.9zM249.1 588.8h0.9v0.9h-0.9zM254.0 587.2h0.9v0.9h-0.9zM259.8 599.8h0.9v0.9h-0.9zM261.5 580.6h0.9v0.9h-0.9zM262.2 571.3h0.9v0.9h-0.9zM252.3 575.1h0.9v0.9h-0.9zM253.2 596.7h0.9v0.9h-0.9zM256.5 590.2h0.9v0.9h-0.9zM259.9 582.0h0.9v0.9h-0.9zM255.1 595.3h0.9v0.9h-0.9zM263.1 587.6h0.9v0.9h-0.9zM261.6 569.8h0.9v0.9h-0.9zM254.6 589.9h0.9v0.9h-0.9zM252.5 600.5h0.9v0.9h-0.9zM250.9 584.4h0.9v0.9h-0.9zM251.2 585.8h0.9v0.9h-0.9zM255.4 583.0h0.9v0.9h-0.9zM250.1 584.7h0.9v0.9h-0.9zM252.2 577.8h0.9v0.9h-0.9zM265.6 590.7h0.9v0.9h-0.9zM263.8 571.7h0.9v0.9h-0.9zM255.2 605.6h0.9v0.9h-0.9zM258.1 586.7h0.9v0.9h-0.9zM258.3 601.9h0.9v0.9h-0.9zM267.1 594.7h0.9v0.9h-0.9zM267.0 586.4h0.9v0.9h-0.9zM261.0 590.6h0.9v0.9h-0.9zM260.8 584.9h0.9v0.9h-0.9zM258.4 595.1h0.9v0.9h-0.9z" fill="#222" opacity="0.65"/><path d="M265.3 570.5h0.9v0.9h-0.9zM258.0 567.8h0.9v0.9h-0.9zM287.8 567.1h0.9v0.9h-0.9zM274.1 567.7h0.9v0.9h-0.9zM267.5 564.6h0.9v0.9h-0.9zM261.0 570.0h0.9v0.9h-0.9zM267.5 562.5h0.9v0.9h-0.9zM283.6 567.6h0.9v0.9h-0.9zM267.8 568.6h0.9v0.9h-0.9zM247.8 565.1h0.9v0.9h-0.9zM245.0 569.5h0.9v0.9h-0.9zM269.6 576.4h0.9v0.9h-0.9zM260.9 559.7h0.9v0.9h-0.9zM268.5 566.4h0.9v0.9h-0.9zM265.9 573.8h0.9v0.9h-0.9zM279.9 566.6h0.9v0.9h-0.9zM272.9 575.3h0.9v0.9h-0.9zM258.2 571.4h0.9v0.9h-0.9zM278.5 566.8h0.9v0.9h-0.9zM268.5 571.2h0.9v0.9h-0.9zM259.2 567.9h0.9v0.9h-0.9zM260.1 562.8h0.9v0.9h-0.9zM267.7 565.7h0.9v0.9h-0.9zM264.9 570.6h0.9v0.9h-0.9zM276.2 574.5h0.9v0.9h-0.9zM263.2 569.6h0.9v0.9h-0.9zM271.1 568.8h0.9v0.9h-0.9zM266.3 568.3h0.9v0.9h-0.9z" fill="#222" opacity="0.65"/><rect x="215.70" y="538.70" width="76.60" height="75.30" fill="none" stroke="#777" stroke-width="1"/><rect x="249.30" y="543.10" width="34.30" height="31.30" fill="none" stroke="#111" stroke-width="1.4"/><path d="M356.6 581.1h0.9v0.9h-0.9zM354.0 581.2h0.9v0.9h-0.9zM357.0 585.0h0.9v0.9h-0.9zM341.0 596.4h0.9v0.9h-0.9zM339.9 574.3h0.9v0.9h-0.9zM350.0 586.0h0.9v0.9h-0.9zM349.7 579.1h0.9v0.9h-0.9zM348.9 582.7h0.9v0.9h-0.9zM346.1 583.0h0.9v0.9h-0.9zM361.4 589.5h0.9v0.9h-0.9zM347.9 572.5h0.9v0.9h-0.9zM349.2 593.0h0.9v0.9h-0.9zM353.0 577.5h0.9v0.9h-0.9zM360.3 574.5h0.9v0.9h-0.9zM344.2 582.5h0.9v0.9h-0.9zM336.8 575.1h0.9v0.9h-0.9zM337.7 601.3h0.9v0.9h-0.9zM348.2 582.4h0.9v0.9h-0.9zM341.0 590.1h0.9v0.9h-0.9zM340.6 575.1h0.9v0.9h-0.9zM339.8 583.2h0.9v0.9h-0.9zM350.6 595.8h0.9v0.9h-0.9zM352.9 566.0h0.9v0.9h-0.9zM346.8 585.1h0.9v0.9h-0.9zM344.1 589.6h0.9v0.9h-0.9zM353.3 596.4h0.9v0.9h-0.9zM353.7 564.2h0.9v0.9h-0.9zM338.0 581.4h0.9v0.9h-0.9zM349.0 584.8h0.9v0.9h-0.9zM356.2 579.7h0.9v0.9h-0.9zM354.5 598.9h0.9v0.9h-0.9zM348.5 589.4h0.9v0.9h-0.9zM360.3 582.5h0.9v0.9h-0.9zM337.8 579.0h0.9v0.9h-0.9zM349.2 593.9h0.9v0.9h-0.9zM344.2 585.2h0.9v0.9h-0.9zM337.2 584.6h0.9v0.9h-0.9zM356.4 590.4h0.9v0.9h-0.9zM340.0 581.1h0.9v0.9h-0.9zM348.3 577.2h0.9v0.9h-0.9zM339.1 571.9h0.9v0.9h-0.9zM347.4 584.8h0.9v0.9h-0.9zM334.1 586.9h0.9v0.9h-0.9zM332.6 572.7h0.9v0.9h-0.9zM352.6 598.4h0.9v0.9h-0.9zM348.7 594.4h0.9v0.9h-0.9zM340.3 577.0h0.9v0.9h-0.9zM337.6 579.3h0.9v0.9h-0.9zM347.3 585.9h0.9v0.9h-0.9zM345.6 591.1h0.9v0.9h-0.9zM353.5 577.9h0.9v0.9h-0.9zM365.8 575.5h0.9v0.9h-0.9zM359.8 582.7h0.9v0.9h-0.9zM338.7 585.2h0.9v0.9h-0.9zM334.6 589.3h0.9v0.9h-0.9zM351.0 586.4h0.9v0.9h-0.9zM345.9 580.0h0.9v0.9h-0.9zM368.2 587.4h0.9v0.9h-0.9zM341.3 589.5h0.9v0.9h-0.9zM354.9 577.3h0.9v0.9h-0.9zM342.9 588.5h0.9v0.9h-0.9zM351.7 582.8h0.9v0.9h-0.9zM345.1 580.4h0.9v0.9h-0.9zM353.0 586.5h0.9v0.9h-0.9zM346.4 574.3h0.9v0.9h-0.9zM336.8 581.8h0.9v0.9h-0.9zM347.9 578.4h0.9v0.9h-0.9zM338.4 593.7h0.9v0.9h-0.9zM362.0 585.7h0.9v0.9h-0.9zM346.0 586.4h0.9v0.9h-0.9zM342.3 580.3h0.9v0.9h-0.9zM347.4 590.5h0.9v0.9h-0.9zM344.5 587.0h0.9v0.9h-0.9zM337.6 585.7h0.9v0.9h-0.9zM339.9 593.2h0.9v0.9h-0.9zM355.1 587.3h0.9v0.9h-0.9zM363.8 581.7h0.9v0.9h-0.9zM357.8 590.6h0.9v0.9h-0.9zM352.7 577.8h0.9v0.9h-0.9zM353.5 577.4h0.9v0.9h-0.9zM353.4 600.2h0.9v0.9h-0.9zM336.3 584.8h0.9v0.9h-0.9zM341.0 592.0h0.9v0.9h-0.9zM347.5 589.5h0.9v0.9h-0.9zM344.7 580.1h0.9v0.9h-0.9zM349.8 590.1h0.9v0.9h-0.9zM364.5 584.0h0.9v0.9h-0.9zM351.9 582.3h0.9v0.9h-0.9zM358.6 583.6h0.9v0.9h-0.9zM339.5 587.2h0.9v0.9h-0.9zM351.6 589.4h0.9v0.9h-0.9zM343.6 574.7h0.9v0.9h-0.9zM348.1 592.0h0.9v0.9h-0.9zM351.9 589.8h0.9v0.9h-0.9zM352.5 598.6h0.9v0.9h-0.9zM338.2 587.4h0.9v0.9h-0.9zM350.5 570.7h0.9v0.9h-0.9zM348.7 588.4h0.9v0.9h-0.9zM348.7 578.3h0.9v0.9h-0.9zM356.1 595.7h0.9v0.9h-0.9zM342.9 586.3h0.9v0.9h-0.9zM354.2 591.0h0.9v0.9h-0.9zM350.2 593.6h0.9v0.9h-0.9zM341.5 589.4h0.9v0.9h-0.9zM350.4 580.7h0.9v0.9h-0.9zM339.1 588.0h0.9v0.9h-0.9zM346.2 582.8h0.9v0.9h-0.9zM348.8 583.7h0.9v0.9h-0.9zM345.6 589.3h0.9v0.9h-0.9zM344.3 574.8h0.9v0.9h-0.9zM355.7 598.2h0.9v0.9h-0.9zM354.9 574.7h0.9v0.9h-0.9zM349.8 571.9h0.9v0.9h-0.9zM352.9 586.1h0.9v0.9h-0.9zM347.0 572.3h0.9v0.9h-0.9zM349.0 583.3h0.9v0.9h-0.9zM353.3 586.1h0.9v0.9h-0.9zM357.4 587.8h0.9v0.9h-0.9zM352.4 581.1h0.9v0.9h-0.9zM358.7 585.8h0.9v0.9h-0.9zM344.1 583.0h0.9v0.9h-0.9zM340.4 586.5h0.9v0.9h-0.9zM349.7 593.4h0.9v0.9h-0.9zM355.0 585.3h0.9v0.9h-0.9zM357.8 587.9h0.9v0.9h-0.9zM346.4 586.1h0.9v0.9h-0.9zM347.7 594.9h0.9v0.9h-0.9zM357.1 588.0h0.9v0.9h-0.9zM348.3 589.2h0.9v0.9h-0.9zM360.5 589.7h0.9v0.9h-0.9zM348.6 589.9h0.9v0.9h-0.9zM352.7 578.6h0.9v0.9h-0.9zM352.6 586.1h0.9v0.9h-0.9zM363.6 595.3h0.9v0.9h-0.9zM347.5 594.6h0.9v0.9h-0.9zM352.1 594.7h0.9v0.9h-0.9zM358.2 596.0h0.9v0.9h-0.9zM340.5 579.3h0.9v0.9h-0.9zM335.6 594.1h0.9v0.9h-0.9zM351.9 577.0h0.9v0.9h-0.9zM347.7 595.6h0.9v0.9h-0.9zM348.5 579.5h0.9v0.9h-0.9zM341.2 584.4h0.9v0.9h-0.9zM348.7 583.1h0.9v0.9h-0.9zM360.6 583.1h0.9v0.9h-0.9zM346.4 577.6h0.9v0.9h-0.9zM350.9 590.1h0.9v0.9h-0.9zM352.3 581.2h0.9v0.9h-0.9zM354.5 587.6h0.9v0.9h-0.9zM342.6 579.6h0.9v0.9h-0.9zM354.5 587.7h0.9v0.9h-0.9zM337.4 581.6h0.9v0.9h-0.9zM348.0 576.3h0.9v0.9h-0.9zM351.3 585.1h0.9v0.9h-0.9zM349.7 584.4h0.9v0.9h-0.9zM339.0 584.3h0.9v0.9h-0.9zM353.5 582.1h0.9v0.9h-0.9zM349.6 575.6h0.9v0.9h-0.9zM336.8 583.5h0.9v0.9h-0.9zM344.5 580.9h0.9v0.9h-0.9zM352.0 577.9h0.9v0.9h-0.9zM349.5 579.4h0.9v0.9h-0.9zM354.5 577.3h0.9v0.9h-0.9zM352.8 580.9h0.9v0.9h-0.9zM340.5 595.9h0.9v0.9h-0.9zM348.7 598.8h0.9v0.9h-0.9zM347.6 584.6h0.9v0.9h-0.9zM347.0 595.1h0.9v0.9h-0.9zM343.2 588.5h0.9v0.9h-0.9zM338.4 584.0h0.9v0.9h-0.9zM337.9 586.0h0.9v0.9h-0.9zM330.5 582.4h0.9v0.9h-0.9zM361.5 581.3h0.9v0.9h-0.9zM344.8 587.4h0.9v0.9h-0.9zM348.7 572.7h0.9v0.9h-0.9zM338.4 586.6h0.9v0.9h-0.9zM345.3 580.9h0.9v0.9h-0.9zM351.1 574.7h0.9v0.9h-0.9zM353.2 572.7h0.9v0.9h-0.9zM345.1 594.3h0.9v0.9h-0.9zM352.2 577.1h0.9v0.9h-0.9zM345.1 573.7h0.9v0.9h-0.9zM341.7 581.7h0.9v0.9h-0.9zM346.8 581.1h0.9v0.9h-0.9zM350.0 587.1h0.9v0.9h-0.9zM337.0 577.7h0.9v0.9h-0.9zM345.9 587.2h0.9v0.9h-0.9zM359.3 593.9h0.9v0.9h-0.9zM347.7 588.9h0.9v0.9h-0.9zM357.1 579.6h0.9v0.9h-0.9zM339.0 578.6h0.9v0.9h-0.9zM345.2 588.9h0.9v0.9h-0.9zM349.0 574.3h0.9v0.9h-0.9zM335.4 578.3h0.9v0.9h-0.9zM355.7 583.7h0.9v0.9h-0.9zM355.6 583.6h0.9v0.9h-0.9zM343.1 578.5h0.9v0.9h-0.9zM363.2 582.3h0.9v0.9h-0.9zM334.5 583.4h0.9v0.9h-0.9zM354.9 583.9h0.9v0.9h-0.9zM348.2 581.1h0.9v0.9h-0.9zM351.4 583.0h0.9v0.9h-0.9zM346.9 585.0h0.9v0.9h-0.9zM347.2 579.3h0.9v0.9h-0.9zM352.7 588.5h0.9v0.9h-0.9zM351.8 583.1h0.9v0.9h-0.9zM356.4 586.5h0.9v0.9h-0.9zM339.9 576.2h0.9v0.9h-0.9zM348.1 582.4h0.9v0.9h-0.9zM349.6 587.0h0.9v0.9h-0.9zM335.3 577.6h0.9v0.9h-0.9zM353.3 578.4h0.9v0.9h-0.9zM352.3 587.0h0.9v0.9h-0.9zM355.0 581.0h0.9v0.9h-0.9zM337.8 579.8h0.9v0.9h-0.9zM341.6 587.7h0.9v0.9h-0.9zM352.6 576.7h0.9v0.9h-0.9zM355.6 589.7h0.9v0.9h-0.9zM360.9 588.8h0.9v0.9h-0.9zM349.2 588.4h0.9v0.9h-0.9zM355.1 591.4h0.9v0.9h-0.9zM342.1 583.5h0.9v0.9h-0.9zM338.9 589.8h0.9v0.9h-0.9zM339.0 581.4h0.9v0.9h-0.9zM347.5 594.7h0.9v0.9h-0.9zM353.1 586.4h0.9v0.9h-0.9zM353.3 599.0h0.9v0.9h-0.9zM346.0 567.6h0.9v0.9h-0.9zM344.3 583.3h0.9v0.9h-0.9zM350.2 585.7h0.9v0.9h-0.9zM357.2 579.3h0.9v0.9h-0.9zM352.9 591.1h0.9v0.9h-0.9zM341.2 589.4h0.9v0.9h-0.9zM356.1 581.4h0.9v0.9h-0.9zM353.7 600.0h0.9v0.9h-0.9zM347.1 574.5h0.9v0.9h-0.9zM357.4 580.1h0.9v0.9h-0.9zM348.6 592.4h0.9v0.9h-0.9zM353.7 576.3h0.9v0.9h-0.9zM343.4 575.2h0.9v0.9h-0.9zM343.3 581.7h0.9v0.9h-0.9zM346.7 588.9h0.9v0.9h-0.9zM339.5 581.3h0.9v0.9h-0.9zM349.9 589.9h0.9v0.9h-0.9zM336.8 589.8h0.9v0.9h-0.9zM344.2 580.9h0.9v0.9h-0.9zM348.5 575.0h0.9v0.9h-0.9zM354.8 581.3h0.9v0.9h-0.9zM344.7 583.9h0.9v0.9h-0.9zM350.9 584.5h0.9v0.9h-0.9zM353.2 578.7h0.9v0.9h-0.9zM349.1 588.4h0.9v0.9h-0.9zM338.8 580.2h0.9v0.9h-0.9zM348.1 591.3h0.9v0.9h-0.9zM352.9 579.5h0.9v0.9h-0.9zM345.1 588.7h0.9v0.9h-0.9zM346.4 592.7h0.9v0.9h-0.9zM353.2 585.9h0.9v0.9h-0.9zM347.7 571.9h0.9v0.9h-0.9zM350.6 577.7h0.9v0.9h-0.9zM349.6 580.9h0.9v0.9h-0.9zM336.2 586.4h0.9v0.9h-0.9zM351.8 578.0h0.9v0.9h-0.9zM349.0 592.7h0.9v0.9h-0.9zM361.8 595.7h0.9v0.9h-0.9zM337.9 578.0h0.9v0.9h-0.9zM355.0 601.4h0.9v0.9h-0.9zM347.3 572.5h0.9v0.9h-0.9zM352.3 579.3h0.9v0.9h-0.9zM349.6 589.9h0.9v0.9h-0.9zM351.8 577.5h0.9v0.9h-0.9zM348.5 579.6h0.9v0.9h-0.9zM342.3 597.6h0.9v0.9h-0.9zM344.7 581.7h0.9v0.9h-0.9zM335.1 588.2h0.9v0.9h-0.9zM353.7 584.4h0.9v0.9h-0.9zM349.1 584.9h0.9v0.9h-0.9zM343.2 589.1h0.9v0.9h-0.9zM347.1 582.4h0.9v0.9h-0.9zM346.2 589.4h0.9v0.9h-0.9zM348.7 587.9h0.9v0.9h-0.9zM368.0 585.0h0.9v0.9h-0.9zM344.1 581.6h0.9v0.9h-0.9zM343.6 577.7h0.9v0.9h-0.9zM353.1 584.8h0.9v0.9h-0.9zM347.5 582.9h0.9v0.9h-0.9zM350.4 578.2h0.9v0.9h-0.9zM345.6 567.5h0.9v0.9h-0.9zM346.3 583.8h0.9v0.9h-0.9zM354.1 586.1h0.9v0.9h-0.9zM356.6 580.8h0.9v0.9h-0.9zM354.3 581.2h0.9v0.9h-0.9zM346.6 585.3h0.9v0.9h-0.9zM346.8 585.4h0.9v0.9h-0.9zM344.0 596.2h0.9v0.9h-0.9zM353.7 590.2h0.9v0.9h-0.9zM354.9 595.2h0.9v0.9h-0.9zM353.0 592.1h0.9v0.9h-0.9zM347.5 588.8h0.9v0.9h-0.9zM348.2 591.7h0.9v0.9h-0.9zM357.3 578.3h0.9v0.9h-0.9zM341.0 580.9h0.9v0.9h-0.9zM353.7 592.8h0.9v0.9h-0.9zM346.4 574.6h0.9v0.9h-0.9zM341.1 581.9h0.9v0.9h-0.9zM341.6 590.3h0.9v0.9h-0.9zM351.5 587.3h0.9v0.9h-0.9zM346.7 582.0h0.9v0.9h-0.9zM370.9 588.7h0.9v0.9h-0.9zM351.6 573.2h0.9v0.9h-0.9zM331.7 582.5h0.9v0.9h-0.9zM339.7 583.3h0.9v0.9h-0.9zM349.3 573.1h0.9v0.9h-0.9zM334.0 580.8h0.9v0.9h-0.9zM344.9 580.1h0.9v0.9h-0.9zM348.0 590.7h0.9v0.9h-0.9zM339.3 585.5h0.9v0.9h-0.9zM345.0 580.2h0.9v0.9h-0.9zM345.8 584.6h0.9v0.9h-0.9zM352.4 575.8h0.9v0.9h-0.9z" fill="#222" opacity="0.65"/><path d="M358.6 562.2h0.9v0.9h-0.9zM362.7 574.9h0.9v0.9h-0.9zM347.2 560.7h0.9v0.9h-0.9zM334.7 568.6h0.9v0.9h-0.9zM349.5 560.3h0.9v0.9h-0.9zM363.9 559.9h0.9v0.9h-0.9zM364.9 559.2h0.9v0.9h-0.9zM356.4 558.2h0.9v0.9h-0.9zM353.2 565.1h0.9v0.9h-0.9zM338.5 563.1h0.9v0.9h-0.9zM352.9 557.5h0.9v0.9h-0.9zM358.2 560.1h0.9v0.9h-0.9zM357.6 562.8h0.9v0.9h-0.9zM363.4 572.7h0.9v0.9h-0.9zM352.3 564.8h0.9v0.9h-0.9zM337.4 559.7h0.9v0.9h-0.9zM354.0 559.8h0.9v0.9h-0.9zM342.6 565.5h0.9v0.9h-0.9zM353.3 566.0h0.9v0.9h-0.9zM354.4 564.8h0.9v0.9h-0.9zM361.2 570.5h0.9v0.9h-0.9zM331.5 563.2h0.9v0.9h-0.9zM357.1 561.9h0.9v0.9h-0.9zM351.3 560.8h0.9v0.9h-0.9zM357.1 566.3h0.9v0.9h-0.9zM354.1 564.8h0.9v0.9h-0.9zM342.6 559.8h0.9v0.9h-0.9zM359.5 562.4h0.9v0.9h-0.9zM359.4 568.1h0.9v0.9h-0.9zM355.3 564.4h0.9v0.9h-0.9zM345.8 572.1h0.9v0.9h-0.9zM361.2 559.3h0.9v0.9h-0.9zM369.1 568.1h0.9v0.9h-0.9zM369.3 567.3h0.9v0.9h-0.9zM352.6 571.9h0.9v0.9h-0.9z" fill="#222" opacity="0.65"/><rect x="300.00" y="538.70" width="77.30" height="75.30" fill="none" stroke="#777" stroke-width="1"/><rect x="333.80" y="543.10" width="34.80" height="31.30" fill="none" stroke="#111" stroke-width="1.4"/><path d="M39.2 610.7 V623.4 H77" fill="none" stroke="#222" stroke-width="1.2"/><path d="M35.5 611.3000000000001 L39.2 604.7 L42.900000000000006 611.3000000000001Z" fill="#222"/><path d="M76.2 620.1 L83 623.4 L76.2 626.6999999999999Z" fill="#222"/><text x="48.0" y="357.5" font-size="10" text-anchor="start" fill="#222">22.9</text><text x="116.8" y="419.6" font-size="10" text-anchor="end" fill="#222">4.04</text><text x="133.0" y="357.5" font-size="10" text-anchor="start" fill="#222">29.6</text><text x="201.5" y="419.6" font-size="10" text-anchor="end" fill="#222">11.4</text><text x="216.8" y="357.5" font-size="10" text-anchor="start" fill="#222">44.2</text><text x="285.6" y="419.6" font-size="10" text-anchor="end" fill="#222">3.46</text><text x="301.3" y="357.5" font-size="10" text-anchor="start" fill="#222">62.9</text><text x="370.4" y="419.6" font-size="10" text-anchor="end" fill="#222">6.29</text><text x="97.3" y="457.8" font-size="10.5" text-anchor="middle" fill="#222">11.1</text><text x="182.6" y="457.8" font-size="10.5" text-anchor="middle" fill="#222">12.8</text><text x="267.6" y="457.8" font-size="10.5" text-anchor="middle" fill="#222">15.0</text><text x="352.1" y="457.8" font-size="10.5" text-anchor="middle" fill="#222">22.6</text><text x="53.8" y="553.9" font-size="10.5" text-anchor="start" fill="#222">6.77</text><text x="137.0" y="553.9" font-size="10.5" text-anchor="start" fill="#222">18.3</text><text x="222.0" y="553.9" font-size="10.5" text-anchor="start" fill="#222">9.40</text><text x="309.4" y="553.9" font-size="10.5" text-anchor="start" fill="#222">17.2</text><rect x="47.80" y="710.40" width="74.30" height="72.90" fill="none" stroke="#999" stroke-width="0.8"/><path d="M70.6 764.1h0.9v0.9h-0.9zM74.5 758.4h0.9v0.9h-0.9zM73.0 758.7h0.9v0.9h-0.9zM81.0 759.7h0.9v0.9h-0.9zM60.6 759.9h0.9v0.9h-0.9zM71.2 764.0h0.9v0.9h-0.9zM82.1 757.8h0.9v0.9h-0.9zM74.0 757.3h0.9v0.9h-0.9zM75.6 762.6h0.9v0.9h-0.9zM72.1 761.7h0.9v0.9h-0.9zM70.7 764.0h0.9v0.9h-0.9zM75.2 761.1h0.9v0.9h-0.9zM75.6 763.5h0.9v0.9h-0.9zM78.0 760.1h0.9v0.9h-0.9zM77.9 758.2h0.9v0.9h-0.9zM83.1 754.6h0.9v0.9h-0.9zM70.9 761.2h0.9v0.9h-0.9zM80.8 765.6h0.9v0.9h-0.9zM55.3 758.8h0.9v0.9h-0.9zM60.1 755.3h0.9v0.9h-0.9zM63.3 765.6h0.9v0.9h-0.9zM78.9 757.1h0.9v0.9h-0.9zM68.4 763.2h0.9v0.9h-0.9zM69.3 757.8h0.9v0.9h-0.9zM70.6 766.8h0.9v0.9h-0.9zM78.8 758.0h0.9v0.9h-0.9zM75.1 765.2h0.9v0.9h-0.9zM69.9 758.1h0.9v0.9h-0.9zM72.3 763.7h0.9v0.9h-0.9zM63.4 757.7h0.9v0.9h-0.9z" fill="#888" opacity="0.55"/><path d="M77.5 754.5H59.5V727.5H77.5" fill="none" stroke="#777" stroke-width="0.9"/><path d="M77.5 783.5V729.5H97.5V783.5M77.5 754.5H110.5V783.5" fill="none" stroke="#333" stroke-width="0.9"/><text transform="translate(50.70,717.60) scale(0.330)" font-size="10" font-weight="bold" fill="#111" textLength="82.7" lengthAdjust="spacingAndGlyphs">CD44-CD62L+</text><text transform="translate(59.40,723.60) scale(0.360)" font-size="10" font-weight="bold" fill="#111" textLength="22.8" lengthAdjust="spacingAndGlyphs">2.67</text><text transform="translate(86.70,717.60) scale(0.330)" font-size="10" font-weight="bold" fill="#111" textLength="40.0" lengthAdjust="spacingAndGlyphs">CD44+</text><text transform="translate(88.70,723.60) scale(0.360)" font-size="10" font-weight="bold" fill="#111" textLength="24.2" lengthAdjust="spacingAndGlyphs">32.8</text><text transform="translate(49.00,773.40) scale(0.330)" font-size="10" font-weight="bold" fill="#111" textLength="82.7" lengthAdjust="spacingAndGlyphs">CD44+CD62L-</text><text transform="translate(59.00,779.00) scale(0.360)" font-size="10" font-weight="bold" fill="#111" textLength="23.9" lengthAdjust="spacingAndGlyphs">29.2</text><line x1="45.90" y1="716.00" x2="47.40" y2="716.00" stroke="#666" stroke-width="0.7"/><line x1="45.90" y1="735.50" x2="47.40" y2="735.50" stroke="#666" stroke-width="0.7"/><line x1="45.90" y1="755.00" x2="47.40" y2="755.00" stroke="#666" stroke-width="0.7"/><line x1="45.90" y1="774.50" x2="47.40" y2="774.50" stroke="#666" stroke-width="0.7"/><line x1="45.90" y1="794.00" x2="47.40" y2="794.00" stroke="#666" stroke-width="0.7"/><line x1="50.40" y1="783.70" x2="50.40" y2="785.20" stroke="#666" stroke-width="0.7"/><line x1="62.90" y1="783.70" x2="62.90" y2="785.20" stroke="#666" stroke-width="0.7"/><line x1="75.40" y1="783.70" x2="75.40" y2="785.20" stroke="#666" stroke-width="0.7"/><line x1="87.90" y1="783.70" x2="87.90" y2="785.20" stroke="#666" stroke-width="0.7"/><line x1="100.40" y1="783.70" x2="100.40" y2="785.20" stroke="#666" stroke-width="0.7"/><line x1="112.90" y1="783.70" x2="112.90" y2="785.20" stroke="#666" stroke-width="0.7"/><circle cx="47.1" cy="766" r="0.9" fill="#222"/><rect x="55.4" y="783.7" width="3" height="1.2" fill="#333"/><rect x="131.90" y="710.40" width="75.40" height="72.90" fill="none" stroke="#999" stroke-width="0.8"/><path d="M164.5 768.0h0.9v0.9h-0.9zM161.4 762.3h0.9v0.9h-0.9zM164.4 761.7h0.9v0.9h-0.9zM153.8 762.5h0.9v0.9h-0.9zM157.9 762.8h0.9v0.9h-0.9zM164.2 758.4h0.9v0.9h-0.9zM156.0 760.7h0.9v0.9h-0.9zM160.6 765.2h0.9v0.9h-0.9zM149.3 763.1h0.9v0.9h-0.9zM165.8 760.1h0.9v0.9h-0.9zM156.6 762.2h0.9v0.9h-0.9zM158.9 761.4h0.9v0.9h-0.9zM154.8 766.0h0.9v0.9h-0.9zM155.1 762.7h0.9v0.9h-0.9zM160.9 761.3h0.9v0.9h-0.9zM160.3 759.2h0.9v0.9h-0.9zM153.3 761.5h0.9v0.9h-0.9zM156.1 763.6h0.9v0.9h-0.9zM162.4 764.1h0.9v0.9h-0.9zM162.0 761.7h0.9v0.9h-0.9zM164.9 764.6h0.9v0.9h-0.9zM158.9 760.2h0.9v0.9h-0.9zM164.8 761.4h0.9v0.9h-0.9zM158.2 763.2h0.9v0.9h-0.9zM158.5 761.3h0.9v0.9h-0.9zM158.8 762.2h0.9v0.9h-0.9zM151.6 761.1h0.9v0.9h-0.9zM158.7 761.7h0.9v0.9h-0.9zM167.7 762.0h0.9v0.9h-0.9zM157.5 764.3h0.9v0.9h-0.9zM153.8 761.8h0.9v0.9h-0.9zM150.5 756.7h0.9v0.9h-0.9zM158.0 759.6h0.9v0.9h-0.9zM152.9 762.2h0.9v0.9h-0.9zM156.8 761.9h0.9v0.9h-0.9z" fill="#888" opacity="0.55"/><path d="M165.7 750.2h0.9v0.9h-0.9zM162.7 742.3h0.9v0.9h-0.9zM168.2 741.2h0.9v0.9h-0.9zM165.1 745.9h0.9v0.9h-0.9zM170.4 740.9h0.9v0.9h-0.9zM166.6 735.0h0.9v0.9h-0.9zM164.6 740.8h0.9v0.9h-0.9zM169.2 739.7h0.9v0.9h-0.9zM163.1 736.1h0.9v0.9h-0.9zM164.9 737.0h0.9v0.9h-0.9z" fill="#888" opacity="0.55"/><path d="M161.5 754.5H144.5V727.5H161.5" fill="none" stroke="#777" stroke-width="0.9"/><path d="M161.5 783.5V729.5H181.5V783.5M161.5 754.5H194.5V783.5" fill="none" stroke="#333" stroke-width="0.9"/><text transform="translate(134.80,717.60) scale(0.330)" font-size="10" font-weight="bold" fill="#111" textLength="82.7" lengthAdjust="spacingAndGlyphs">CD44-CD62L+</text><text transform="translate(143.50,723.60) scale(0.360)" font-size="10" font-weight="bold" fill="#111" textLength="22.8" lengthAdjust="spacingAndGlyphs">4.76</text><text transform="translate(170.80,717.60) scale(0.330)" font-size="10" font-weight="bold" fill="#111" textLength="40.0" lengthAdjust="spacingAndGlyphs">CD44+</text><text transform="translate(172.80,723.60) scale(0.360)" font-size="10" font-weight="bold" fill="#111" textLength="24.2" lengthAdjust="spacingAndGlyphs">44.9</text><text transform="translate(133.10,773.40) scale(0.330)" font-size="10" font-weight="bold" fill="#111" textLength="82.7" lengthAdjust="spacingAndGlyphs">CD44+CD62L-</text><text transform="translate(143.10,779.00) scale(0.360)" font-size="10" font-weight="bold" fill="#111" textLength="23.9" lengthAdjust="spacingAndGlyphs">36.7</text><line x1="130.00" y1="716.00" x2="131.50" y2="716.00" stroke="#666" stroke-width="0.7"/><line x1="130.00" y1="735.50" x2="131.50" y2="735.50" stroke="#666" stroke-width="0.7"/><line x1="130.00" y1="755.00" x2="131.50" y2="755.00" stroke="#666" stroke-width="0.7"/><line x1="130.00" y1="774.50" x2="131.50" y2="774.50" stroke="#666" stroke-width="0.7"/><line x1="130.00" y1="794.00" x2="131.50" y2="794.00" stroke="#666" stroke-width="0.7"/><line x1="134.50" y1="783.70" x2="134.50" y2="785.20" stroke="#666" stroke-width="0.7"/><line x1="147.00" y1="783.70" x2="147.00" y2="785.20" stroke="#666" stroke-width="0.7"/><line x1="159.50" y1="783.70" x2="159.50" y2="785.20" stroke="#666" stroke-width="0.7"/><line x1="172.00" y1="783.70" x2="172.00" y2="785.20" stroke="#666" stroke-width="0.7"/><line x1="184.50" y1="783.70" x2="184.50" y2="785.20" stroke="#666" stroke-width="0.7"/><line x1="197.00" y1="783.70" x2="197.00" y2="785.20" stroke="#666" stroke-width="0.7"/><circle cx="131.2" cy="766" r="0.9" fill="#222"/><rect x="139.5" y="783.7" width="3" height="1.2" fill="#333"/><rect x="217.40" y="710.40" width="76.00" height="72.90" fill="none" stroke="#999" stroke-width="0.8"/><path d="M251.7 762.0h0.9v0.9h-0.9zM243.7 763.1h0.9v0.9h-0.9zM240.6 751.2h0.9v0.9h-0.9zM247.9 761.2h0.9v0.9h-0.9zM244.9 760.0h0.9v0.9h-0.9zM244.4 756.4h0.9v0.9h-0.9zM241.7 766.5h0.9v0.9h-0.9zM251.2 771.0h0.9v0.9h-0.9zM243.7 763.9h0.9v0.9h-0.9zM246.7 763.4h0.9v0.9h-0.9zM246.7 769.5h0.9v0.9h-0.9zM244.0 761.0h0.9v0.9h-0.9zM251.9 757.8h0.9v0.9h-0.9zM249.1 756.9h0.9v0.9h-0.9zM240.9 750.0h0.9v0.9h-0.9zM253.7 749.3h0.9v0.9h-0.9zM238.1 759.6h0.9v0.9h-0.9zM242.3 768.2h0.9v0.9h-0.9zM246.4 749.2h0.9v0.9h-0.9zM243.1 760.7h0.9v0.9h-0.9zM242.8 755.8h0.9v0.9h-0.9zM244.7 755.6h0.9v0.9h-0.9zM240.5 751.2h0.9v0.9h-0.9zM239.1 757.4h0.9v0.9h-0.9zM245.0 761.5h0.9v0.9h-0.9zM239.3 757.6h0.9v0.9h-0.9zM251.1 759.8h0.9v0.9h-0.9zM243.6 760.1h0.9v0.9h-0.9zM241.4 753.1h0.9v0.9h-0.9zM233.8 759.5h0.9v0.9h-0.9zM248.1 749.1h0.9v0.9h-0.9zM236.0 754.5h0.9v0.9h-0.9zM255.2 754.2h0.9v0.9h-0.9zM239.2 762.8h0.9v0.9h-0.9zM254.6 764.0h0.9v0.9h-0.9zM245.4 770.1h0.9v0.9h-0.9zM246.5 761.1h0.9v0.9h-0.9zM235.7 747.4h0.9v0.9h-0.9zM253.2 757.9h0.9v0.9h-0.9zM238.5 770.8h0.9v0.9h-0.9zM239.5 758.8h0.9v0.9h-0.9zM244.5 755.4h0.9v0.9h-0.9zM244.9 771.5h0.9v0.9h-0.9zM244.5 769.7h0.9v0.9h-0.9zM245.9 764.0h0.9v0.9h-0.9zM241.6 744.9h0.9v0.9h-0.9zM234.2 752.0h0.9v0.9h-0.9zM246.1 767.1h0.9v0.9h-0.9zM246.8 755.2h0.9v0.9h-0.9zM243.3 747.7h0.9v0.9h-0.9zM242.8 756.8h0.9v0.9h-0.9zM239.6 764.7h0.9v0.9h-0.9zM243.5 758.2h0.9v0.9h-0.9zM246.9 750.2h0.9v0.9h-0.9zM246.2 758.9h0.9v0.9h-0.9zM238.3 760.8h0.9v0.9h-0.9zM244.4 756.7h0.9v0.9h-0.9zM243.9 765.7h0.9v0.9h-0.9zM243.8 757.1h0.9v0.9h-0.9zM234.7 768.8h0.9v0.9h-0.9zM249.7 760.4h0.9v0.9h-0.9zM249.1 767.3h0.9v0.9h-0.9zM248.3 771.9h0.9v0.9h-0.9zM243.2 753.6h0.9v0.9h-0.9zM239.9 758.3h0.9v0.9h-0.9zM238.3 760.2h0.9v0.9h-0.9zM249.3 766.5h0.9v0.9h-0.9zM229.3 749.9h0.9v0.9h-0.9zM246.3 753.3h0.9v0.9h-0.9zM248.5 758.0h0.9v0.9h-0.9zM255.3 759.6h0.9v0.9h-0.9zM238.0 753.0h0.9v0.9h-0.9zM239.7 770.3h0.9v0.9h-0.9zM244.0 770.9h0.9v0.9h-0.9zM241.9 754.3h0.9v0.9h-0.9zM248.4 768.5h0.9v0.9h-0.9zM238.5 758.2h0.9v0.9h-0.9zM235.8 759.4h0.9v0.9h-0.9zM247.2 754.8h0.9v0.9h-0.9zM244.2 758.0h0.9v0.9h-0.9zM245.5 755.5h0.9v0.9h-0.9zM254.1 752.0h0.9v0.9h-0.9zM243.5 761.8h0.9v0.9h-0.9zM252.6 755.2h0.9v0.9h-0.9zM240.5 759.7h0.9v0.9h-0.9zM248.9 771.0h0.9v0.9h-0.9zM248.4 761.4h0.9v0.9h-0.9zM250.7 753.5h0.9v0.9h-0.9zM240.5 768.8h0.9v0.9h-0.9zM238.5 773.4h0.9v0.9h-0.9zM235.3 763.3h0.9v0.9h-0.9zM248.7 767.6h0.9v0.9h-0.9zM237.8 757.0h0.9v0.9h-0.9zM242.6 765.3h0.9v0.9h-0.9zM240.9 752.2h0.9v0.9h-0.9zM243.4 767.4h0.9v0.9h-0.9zM243.2 748.2h0.9v0.9h-0.9zM252.6 765.2h0.9v0.9h-0.9zM237.4 758.5h0.9v0.9h-0.9zM247.5 760.4h0.9v0.9h-0.9zM243.7 759.7h0.9v0.9h-0.9zM245.2 756.2h0.9v0.9h-0.9zM242.1 756.5h0.9v0.9h-0.9zM241.5 765.6h0.9v0.9h-0.9zM242.8 762.6h0.9v0.9h-0.9zM242.7 757.7h0.9v0.9h-0.9zM249.3 770.2h0.9v0.9h-0.9zM242.1 756.7h0.9v0.9h-0.9zM246.5 764.5h0.9v0.9h-0.9zM238.4 752.4h0.9v0.9h-0.9zM247.1 754.1h0.9v0.9h-0.9zM241.3 765.6h0.9v0.9h-0.9zM253.3 764.7h0.9v0.9h-0.9zM240.0 749.6h0.9v0.9h-0.9zM250.9 768.4h0.9v0.9h-0.9zM247.6 753.4h0.9v0.9h-0.9zM244.1 764.3h0.9v0.9h-0.9zM247.5 761.4h0.9v0.9h-0.9zM240.5 755.5h0.9v0.9h-0.9zM239.2 762.3h0.9v0.9h-0.9zM250.9 755.4h0.9v0.9h-0.9zM247.9 762.9h0.9v0.9h-0.9zM242.4 764.8h0.9v0.9h-0.9zM247.2 750.7h0.9v0.9h-0.9zM244.7 752.8h0.9v0.9h-0.9zM235.8 755.5h0.9v0.9h-0.9zM240.0 771.0h0.9v0.9h-0.9zM243.4 756.9h0.9v0.9h-0.9zM240.1 756.2h0.9v0.9h-0.9zM248.7 757.9h0.9v0.9h-0.9zM238.6 773.4h0.9v0.9h-0.9zM257.6 760.0h0.9v0.9h-0.9zM245.3 757.3h0.9v0.9h-0.9zM249.4 753.6h0.9v0.9h-0.9zM251.5 751.8h0.9v0.9h-0.9zM237.9 771.1h0.9v0.9h-0.9zM245.1 753.9h0.9v0.9h-0.9zM241.5 754.2h0.9v0.9h-0.9zM243.5 753.0h0.9v0.9h-0.9zM248.0 764.7h0.9v0.9h-0.9zM246.8 755.8h0.9v0.9h-0.9zM249.7 760.2h0.9v0.9h-0.9zM247.8 761.4h0.9v0.9h-0.9zM248.0 764.0h0.9v0.9h-0.9zM239.7 763.7h0.9v0.9h-0.9zM237.8 759.4h0.9v0.9h-0.9zM240.6 749.2h0.9v0.9h-0.9zM249.7 752.2h0.9v0.9h-0.9zM249.4 772.5h0.9v0.9h-0.9zM244.6 760.4h0.9v0.9h-0.9zM248.7 764.0h0.9v0.9h-0.9zM245.5 763.4h0.9v0.9h-0.9zM249.8 762.1h0.9v0.9h-0.9zM242.6 765.0h0.9v0.9h-0.9zM242.7 758.2h0.9v0.9h-0.9zM235.9 761.6h0.9v0.9h-0.9zM236.4 773.6h0.9v0.9h-0.9zM244.1 763.1h0.9v0.9h-0.9zM248.7 770.9h0.9v0.9h-0.9zM242.2 754.6h0.9v0.9h-0.9zM244.1 779.3h0.9v0.9h-0.9zM251.5 767.6h0.9v0.9h-0.9zM244.9 770.8h0.9v0.9h-0.9zM246.0 754.4h0.9v0.9h-0.9zM241.4 767.2h0.9v0.9h-0.9zM235.9 761.9h0.9v0.9h-0.9zM247.0 761.0h0.9v0.9h-0.9zM238.9 756.8h0.9v0.9h-0.9zM243.7 760.4h0.9v0.9h-0.9zM247.3 754.4h0.9v0.9h-0.9zM239.9 749.6h0.9v0.9h-0.9zM248.9 763.9h0.9v0.9h-0.9zM247.7 757.7h0.9v0.9h-0.9zM246.5 770.6h0.9v0.9h-0.9zM251.5 757.6h0.9v0.9h-0.9zM238.6 757.4h0.9v0.9h-0.9zM249.8 754.6h0.9v0.9h-0.9zM249.1 752.7h0.9v0.9h-0.9zM252.1 763.7h0.9v0.9h-0.9zM254.6 762.7h0.9v0.9h-0.9zM240.4 763.6h0.9v0.9h-0.9zM244.6 754.1h0.9v0.9h-0.9zM246.4 760.6h0.9v0.9h-0.9zM241.8 761.5h0.9v0.9h-0.9zM244.1 766.4h0.9v0.9h-0.9zM250.4 746.2h0.9v0.9h-0.9zM248.3 756.7h0.9v0.9h-0.9zM242.4 763.7h0.9v0.9h-0.9zM244.4 756.3h0.9v0.9h-0.9zM237.3 769.0h0.9v0.9h-0.9zM238.8 757.9h0.9v0.9h-0.9zM245.7 750.5h0.9v0.9h-0.9zM240.8 751.7h0.9v0.9h-0.9zM244.8 741.7h0.9v0.9h-0.9zM244.5 754.4h0.9v0.9h-0.9zM237.1 761.5h0.9v0.9h-0.9zM252.4 752.5h0.9v0.9h-0.9zM247.7 757.3h0.9v0.9h-0.9zM248.1 755.9h0.9v0.9h-0.9zM236.8 757.1h0.9v0.9h-0.9zM241.4 762.0h0.9v0.9h-0.9zM244.6 749.9h0.9v0.9h-0.9zM243.6 766.7h0.9v0.9h-0.9zM240.3 757.3h0.9v0.9h-0.9zM244.3 758.5h0.9v0.9h-0.9zM236.5 760.3h0.9v0.9h-0.9zM245.1 763.4h0.9v0.9h-0.9zM252.7 759.7h0.9v0.9h-0.9zM245.5 749.9h0.9v0.9h-0.9zM245.9 760.1h0.9v0.9h-0.9zM245.9 750.2h0.9v0.9h-0.9zM240.6 750.9h0.9v0.9h-0.9zM248.4 765.9h0.9v0.9h-0.9zM245.0 776.5h0.9v0.9h-0.9zM241.9 757.9h0.9v0.9h-0.9zM247.9 757.8h0.9v0.9h-0.9zM242.7 768.7h0.9v0.9h-0.9zM241.7 768.4h0.9v0.9h-0.9zM240.5 759.9h0.9v0.9h-0.9zM250.8 747.6h0.9v0.9h-0.9zM251.8 758.9h0.9v0.9h-0.9zM242.2 763.0h0.9v0.9h-0.9zM244.7 757.3h0.9v0.9h-0.9zM246.9 760.6h0.9v0.9h-0.9zM242.4 758.7h0.9v0.9h-0.9zM245.6 759.3h0.9v0.9h-0.9zM246.6 767.5h0.9v0.9h-0.9zM247.7 757.3h0.9v0.9h-0.9zM239.1 749.3h0.9v0.9h-0.9zM243.8 760.1h0.9v0.9h-0.9z" fill="#555" opacity="0.55"/><path d="M240.7 759.6h0.9v0.9h-0.9zM245.3 760.4h0.9v0.9h-0.9zM240.4 763.2h0.9v0.9h-0.9zM245.0 760.4h0.9v0.9h-0.9zM240.6 761.3h0.9v0.9h-0.9zM248.1 768.0h0.9v0.9h-0.9zM248.1 763.9h0.9v0.9h-0.9zM239.3 759.2h0.9v0.9h-0.9zM239.8 762.5h0.9v0.9h-0.9zM241.3 766.9h0.9v0.9h-0.9zM246.2 763.3h0.9v0.9h-0.9zM244.4 761.7h0.9v0.9h-0.9zM236.8 762.8h0.9v0.9h-0.9zM241.2 762.5h0.9v0.9h-0.9zM241.9 765.9h0.9v0.9h-0.9zM241.0 763.2h0.9v0.9h-0.9zM238.4 764.1h0.9v0.9h-0.9zM240.8 759.7h0.9v0.9h-0.9zM245.4 764.0h0.9v0.9h-0.9zM243.9 764.7h0.9v0.9h-0.9zM247.0 770.8h0.9v0.9h-0.9zM241.7 768.7h0.9v0.9h-0.9zM239.3 760.6h0.9v0.9h-0.9zM238.5 764.0h0.9v0.9h-0.9zM240.4 762.3h0.9v0.9h-0.9zM245.6 764.7h0.9v0.9h-0.9zM243.0 766.3h0.9v0.9h-0.9zM245.6 766.8h0.9v0.9h-0.9zM249.6 756.9h0.9v0.9h-0.9zM243.6 762.7h0.9v0.9h-0.9zM238.0 761.4h0.9v0.9h-0.9zM243.3 766.1h0.9v0.9h-0.9zM249.4 763.4h0.9v0.9h-0.9zM241.1 762.8h0.9v0.9h-0.9zM243.6 764.0h0.9v0.9h-0.9zM243.9 767.1h0.9v0.9h-0.9zM244.8 764.0h0.9v0.9h-0.9zM240.9 765.5h0.9v0.9h-0.9zM244.6 762.8h0.9v0.9h-0.9zM244.7 761.1h0.9v0.9h-0.9zM242.3 760.9h0.9v0.9h-0.9zM237.3 761.7h0.9v0.9h-0.9zM241.0 763.8h0.9v0.9h-0.9zM245.3 759.1h0.9v0.9h-0.9zM242.4 764.8h0.9v0.9h-0.9zM247.3 762.3h0.9v0.9h-0.9zM242.2 761.5h0.9v0.9h-0.9zM243.6 766.4h0.9v0.9h-0.9zM243.0 768.5h0.9v0.9h-0.9zM242.5 761.4h0.9v0.9h-0.9zM241.1 760.9h0.9v0.9h-0.9zM245.7 760.0h0.9v0.9h-0.9zM243.9 763.1h0.9v0.9h-0.9zM241.3 760.0h0.9v0.9h-0.9zM245.3 762.5h0.9v0.9h-0.9zM244.6 761.5h0.9v0.9h-0.9zM245.8 760.8h0.9v0.9h-0.9zM244.8 758.2h0.9v0.9h-0.9zM244.8 761.4h0.9v0.9h-0.9zM247.0 764.4h0.9v0.9h-0.9z" fill="#555" opacity="0.55"/><path d="M249.5 745.6h0.9v0.9h-0.9zM258.0 743.1h0.9v0.9h-0.9zM246.3 740.3h0.9v0.9h-0.9zM263.0 749.0h0.9v0.9h-0.9zM251.0 740.6h0.9v0.9h-0.9zM242.7 746.4h0.9v0.9h-0.9zM243.4 736.7h0.9v0.9h-0.9zM250.5 730.6h0.9v0.9h-0.9zM252.3 752.9h0.9v0.9h-0.9zM246.6 749.5h0.9v0.9h-0.9zM259.4 747.0h0.9v0.9h-0.9zM246.4 738.2h0.9v0.9h-0.9zM251.3 737.3h0.9v0.9h-0.9zM258.5 750.2h0.9v0.9h-0.9zM242.5 744.7h0.9v0.9h-0.9zM256.0 749.3h0.9v0.9h-0.9zM258.5 733.7h0.9v0.9h-0.9zM246.4 745.3h0.9v0.9h-0.9zM241.3 731.7h0.9v0.9h-0.9zM256.0 736.0h0.9v0.9h-0.9zM254.3 741.1h0.9v0.9h-0.9zM252.9 760.5h0.9v0.9h-0.9zM248.1 742.5h0.9v0.9h-0.9zM255.9 751.8h0.9v0.9h-0.9zM241.9 754.5h0.9v0.9h-0.9zM251.9 745.0h0.9v0.9h-0.9zM246.2 749.1h0.9v0.9h-0.9zM240.5 756.2h0.9v0.9h-0.9zM246.0 741.5h0.9v0.9h-0.9zM247.0 746.7h0.9v0.9h-0.9zM241.2 748.3h0.9v0.9h-0.9zM253.1 758.0h0.9v0.9h-0.9zM244.3 736.7h0.9v0.9h-0.9zM251.6 730.8h0.9v0.9h-0.9zM244.3 736.8h0.9v0.9h-0.9zM253.1 739.2h0.9v0.9h-0.9zM247.5 744.9h0.9v0.9h-0.9zM253.7 750.6h0.9v0.9h-0.9zM251.5 740.0h0.9v0.9h-0.9zM254.3 727.7h0.9v0.9h-0.9zM247.2 743.1h0.9v0.9h-0.9zM249.3 743.7h0.9v0.9h-0.9zM254.0 744.3h0.9v0.9h-0.9zM255.9 751.2h0.9v0.9h-0.9zM245.2 741.0h0.9v0.9h-0.9zM257.9 742.4h0.9v0.9h-0.9zM250.8 724.6h0.9v0.9h-0.9zM257.1 750.5h0.9v0.9h-0.9zM251.5 738.3h0.9v0.9h-0.9zM250.3 747.8h0.9v0.9h-0.9z" fill="#555" opacity="0.55"/><path d="M247.5 754.5H229.5V727.5H247.5" fill="none" stroke="#777" stroke-width="0.9"/><path d="M247.5 783.5V729.5H266.5V783.5M247.5 754.5H280.5V783.5" fill="none" stroke="#333" stroke-width="0.9"/><text transform="translate(220.30,717.60) scale(0.330)" font-size="10" font-weight="bold" fill="#111" textLength="82.7" lengthAdjust="spacingAndGlyphs">CD44-CD62L+</text><text transform="translate(229.00,723.60) scale(0.360)" font-size="10" font-weight="bold" fill="#111" textLength="22.8" lengthAdjust="spacingAndGlyphs">12.6</text><text transform="translate(256.30,717.60) scale(0.330)" font-size="10" font-weight="bold" fill="#111" textLength="40.0" lengthAdjust="spacingAndGlyphs">CD44+</text><text transform="translate(258.30,723.60) scale(0.360)" font-size="10" font-weight="bold" fill="#111" textLength="24.2" lengthAdjust="spacingAndGlyphs">45.9</text><text transform="translate(218.60,773.40) scale(0.330)" font-size="10" font-weight="bold" fill="#111" textLength="82.7" lengthAdjust="spacingAndGlyphs">CD44+CD62L-</text><text transform="translate(228.60,779.00) scale(0.360)" font-size="10" font-weight="bold" fill="#111" textLength="23.9" lengthAdjust="spacingAndGlyphs">28.8</text><line x1="215.50" y1="716.00" x2="217.00" y2="716.00" stroke="#666" stroke-width="0.7"/><line x1="215.50" y1="735.50" x2="217.00" y2="735.50" stroke="#666" stroke-width="0.7"/><line x1="215.50" y1="755.00" x2="217.00" y2="755.00" stroke="#666" stroke-width="0.7"/><line x1="215.50" y1="774.50" x2="217.00" y2="774.50" stroke="#666" stroke-width="0.7"/><line x1="215.50" y1="794.00" x2="217.00" y2="794.00" stroke="#666" stroke-width="0.7"/><line x1="220.00" y1="783.70" x2="220.00" y2="785.20" stroke="#666" stroke-width="0.7"/><line x1="232.50" y1="783.70" x2="232.50" y2="785.20" stroke="#666" stroke-width="0.7"/><line x1="245.00" y1="783.70" x2="245.00" y2="785.20" stroke="#666" stroke-width="0.7"/><line x1="257.50" y1="783.70" x2="257.50" y2="785.20" stroke="#666" stroke-width="0.7"/><line x1="270.00" y1="783.70" x2="270.00" y2="785.20" stroke="#666" stroke-width="0.7"/><line x1="282.50" y1="783.70" x2="282.50" y2="785.20" stroke="#666" stroke-width="0.7"/><circle cx="216.7" cy="766" r="0.9" fill="#222"/><rect x="225" y="783.7" width="3" height="1.2" fill="#333"/><rect x="303.10" y="710.40" width="76.10" height="72.90" fill="none" stroke="#999" stroke-width="0.8"/><path d="M325.6 751.8h0.9v0.9h-0.9zM327.9 752.0h0.9v0.9h-0.9zM322.1 759.7h0.9v0.9h-0.9zM328.5 745.1h0.9v0.9h-0.9zM329.8 762.3h0.9v0.9h-0.9zM330.4 744.4h0.9v0.9h-0.9zM329.0 745.7h0.9v0.9h-0.9zM325.0 735.2h0.9v0.9h-0.9zM326.1 755.4h0.9v0.9h-0.9zM326.8 752.1h0.9v0.9h-0.9zM334.8 741.1h0.9v0.9h-0.9zM322.5 742.2h0.9v0.9h-0.9zM319.9 745.1h0.9v0.9h-0.9zM333.5 750.0h0.9v0.9h-0.9zM324.3 753.3h0.9v0.9h-0.9zM331.6 742.9h0.9v0.9h-0.9zM317.0 756.4h0.9v0.9h-0.9zM332.6 749.4h0.9v0.9h-0.9zM323.0 741.4h0.9v0.9h-0.9zM324.9 742.6h0.9v0.9h-0.9zM319.2 746.2h0.9v0.9h-0.9zM331.1 752.3h0.9v0.9h-0.9zM322.6 747.3h0.9v0.9h-0.9zM325.8 746.5h0.9v0.9h-0.9zM328.3 744.0h0.9v0.9h-0.9zM325.0 753.2h0.9v0.9h-0.9zM325.3 740.1h0.9v0.9h-0.9zM326.6 739.1h0.9v0.9h-0.9zM323.8 750.2h0.9v0.9h-0.9zM328.5 748.2h0.9v0.9h-0.9zM329.4 754.4h0.9v0.9h-0.9zM330.9 757.6h0.9v0.9h-0.9zM328.9 747.4h0.9v0.9h-0.9zM328.2 746.3h0.9v0.9h-0.9zM315.7 745.8h0.9v0.9h-0.9zM323.0 748.0h0.9v0.9h-0.9zM327.7 744.4h0.9v0.9h-0.9zM323.3 749.6h0.9v0.9h-0.9zM324.8 744.7h0.9v0.9h-0.9zM327.1 742.3h0.9v0.9h-0.9zM318.2 750.7h0.9v0.9h-0.9zM326.7 741.3h0.9v0.9h-0.9zM333.7 747.2h0.9v0.9h-0.9zM325.1 751.1h0.9v0.9h-0.9zM325.3 761.2h0.9v0.9h-0.9zM332.6 766.0h0.9v0.9h-0.9zM329.6 758.3h0.9v0.9h-0.9zM324.8 752.0h0.9v0.9h-0.9zM329.4 750.1h0.9v0.9h-0.9zM324.5 753.2h0.9v0.9h-0.9zM324.1 746.1h0.9v0.9h-0.9zM327.1 746.4h0.9v0.9h-0.9zM329.6 760.8h0.9v0.9h-0.9zM330.4 741.5h0.9v0.9h-0.9zM334.5 755.9h0.9v0.9h-0.9zM321.5 740.0h0.9v0.9h-0.9zM320.4 749.4h0.9v0.9h-0.9zM334.9 754.1h0.9v0.9h-0.9zM330.3 754.1h0.9v0.9h-0.9zM322.3 748.8h0.9v0.9h-0.9zM323.4 744.9h0.9v0.9h-0.9zM315.9 746.1h0.9v0.9h-0.9zM336.6 738.1h0.9v0.9h-0.9zM324.0 740.5h0.9v0.9h-0.9zM322.0 731.4h0.9v0.9h-0.9zM330.3 750.9h0.9v0.9h-0.9zM319.2 741.3h0.9v0.9h-0.9zM322.3 745.8h0.9v0.9h-0.9zM336.4 752.1h0.9v0.9h-0.9zM316.3 743.4h0.9v0.9h-0.9zM323.4 744.8h0.9v0.9h-0.9zM313.3 739.9h0.9v0.9h-0.9zM324.6 755.6h0.9v0.9h-0.9zM328.2 751.4h0.9v0.9h-0.9zM330.5 753.4h0.9v0.9h-0.9zM325.9 751.0h0.9v0.9h-0.9zM324.3 759.2h0.9v0.9h-0.9zM325.8 757.2h0.9v0.9h-0.9zM325.2 746.1h0.9v0.9h-0.9zM328.5 748.5h0.9v0.9h-0.9z" fill="#888" opacity="0.55"/><path d="M332.5 754.5H315.5V727.5H332.5" fill="none" stroke="#777" stroke-width="0.9"/><path d="M332.5 783.5V729.5H352.5V783.5M332.5 754.5H365.5V783.5" fill="none" stroke="#333" stroke-width="0.9"/><text transform="translate(306.00,717.60) scale(0.330)" font-size="10" font-weight="bold" fill="#111" textLength="82.7" lengthAdjust="spacingAndGlyphs">CD44-CD62L+</text><text transform="translate(314.70,723.60) scale(0.360)" font-size="10" font-weight="bold" fill="#111" textLength="22.8" lengthAdjust="spacingAndGlyphs">57.4</text><text transform="translate(342.00,717.60) scale(0.330)" font-size="10" font-weight="bold" fill="#111" textLength="40.0" lengthAdjust="spacingAndGlyphs">CD44+</text><text transform="translate(344.00,723.60) scale(0.360)" font-size="10" font-weight="bold" fill="#111" textLength="24.2" lengthAdjust="spacingAndGlyphs">24.9</text><text transform="translate(304.30,773.40) scale(0.330)" font-size="10" font-weight="bold" fill="#111" textLength="82.7" lengthAdjust="spacingAndGlyphs">CD44+CD62L-</text><text transform="translate(314.30,779.00) scale(0.360)" font-size="10" font-weight="bold" fill="#111" textLength="23.9" lengthAdjust="spacingAndGlyphs">2.10</text><line x1="301.20" y1="716.00" x2="302.70" y2="716.00" stroke="#666" stroke-width="0.7"/><line x1="301.20" y1="735.50" x2="302.70" y2="735.50" stroke="#666" stroke-width="0.7"/><line x1="301.20" y1="755.00" x2="302.70" y2="755.00" stroke="#666" stroke-width="0.7"/><line x1="301.20" y1="774.50" x2="302.70" y2="774.50" stroke="#666" stroke-width="0.7"/><line x1="301.20" y1="794.00" x2="302.70" y2="794.00" stroke="#666" stroke-width="0.7"/><line x1="305.70" y1="783.70" x2="305.70" y2="785.20" stroke="#666" stroke-width="0.7"/><line x1="318.20" y1="783.70" x2="318.20" y2="785.20" stroke="#666" stroke-width="0.7"/><line x1="330.70" y1="783.70" x2="330.70" y2="785.20" stroke="#666" stroke-width="0.7"/><line x1="343.20" y1="783.70" x2="343.20" y2="785.20" stroke="#666" stroke-width="0.7"/><line x1="355.70" y1="783.70" x2="355.70" y2="785.20" stroke="#666" stroke-width="0.7"/><line x1="368.20" y1="783.70" x2="368.20" y2="785.20" stroke="#666" stroke-width="0.7"/><circle cx="302.4" cy="766" r="0.9" fill="#222"/><rect x="310.7" y="783.7" width="3" height="1.2" fill="#333"/><path d="M39.4 782.5 V794.4 H77" fill="none" stroke="#222" stroke-width="1.2"/><path d="M35.699999999999996 783.1 L39.4 776.5 L43.1 783.1Z" fill="#222"/><path d="M76.2 791.1 L83 794.4 L76.2 797.6999999999999Z" fill="#222"/><line x1="434.40" y1="364.50" x2="434.40" y2="452.90" stroke="#555" stroke-width="1"/><line x1="432.40" y1="452.40" x2="434.40" y2="452.40" stroke="#555" stroke-width="1"/><line x1="432.40" y1="430.55" x2="434.40" y2="430.55" stroke="#555" stroke-width="1"/><line x1="432.40" y1="408.70" x2="434.40" y2="408.70" stroke="#555" stroke-width="1"/><line x1="432.40" y1="386.85" x2="434.40" y2="386.85" stroke="#555" stroke-width="1"/><line x1="432.40" y1="365.00" x2="434.40" y2="365.00" stroke="#555" stroke-width="1"/><line x1="434.40" y1="452.40" x2="527.00" y2="452.40" stroke="#555" stroke-width="1"/><rect x="439.10" y="432.20" width="15.70" height="20.20" fill="#000"/><rect x="462.60" y="420.20" width="14.80" height="32.20" fill="#5f5f5f" stroke="#333" stroke-width="1"/><line x1="470.00" y1="419.70" x2="470.00" y2="418.40" stroke="#555" stroke-width="1.1"/><line x1="466.00" y1="418.40" x2="474.00" y2="418.40" stroke="#555" stroke-width="1.1"/><rect x="486.60" y="402.70" width="14.50" height="49.70" fill="#a2a2a4" stroke="#333" stroke-width="1"/><line x1="493.85" y1="402.20" x2="493.85" y2="400.40" stroke="#555" stroke-width="1.1"/><line x1="489.85" y1="400.40" x2="497.85" y2="400.40" stroke="#555" stroke-width="1.1"/><rect x="509.60" y="385.70" width="15.40" height="66.70" fill="#d5d5d5" stroke="#333" stroke-width="1"/><line x1="517.30" y1="385.20" x2="517.30" y2="384.60" stroke="#555" stroke-width="1.1"/><line x1="513.30" y1="384.60" x2="521.30" y2="384.60" stroke="#555" stroke-width="1.1"/><line x1="575.20" y1="364.50" x2="575.20" y2="453.20" stroke="#555" stroke-width="1"/><line x1="573.20" y1="452.70" x2="575.20" y2="452.70" stroke="#555" stroke-width="1"/><line x1="573.20" y1="423.47" x2="575.20" y2="423.47" stroke="#555" stroke-width="1"/><line x1="573.20" y1="394.23" x2="575.20" y2="394.23" stroke="#555" stroke-width="1"/><line x1="573.20" y1="365.00" x2="575.20" y2="365.00" stroke="#555" stroke-width="1"/><line x1="575.20" y1="452.70" x2="671.00" y2="452.70" stroke="#555" stroke-width="1"/><rect x="580.00" y="426.50" width="15.50" height="26.20" fill="#000"/><line x1="587.75" y1="426.50" x2="587.75" y2="422.70" stroke="#555" stroke-width="1.1"/><line x1="583.75" y1="422.70" x2="591.75" y2="422.70" stroke="#555" stroke-width="1.1"/><rect x="603.80" y="390.80" width="15.30" height="61.90" fill="#5f5f5f" stroke="#333" stroke-width="1"/><line x1="611.45" y1="390.30" x2="611.45" y2="383.80" stroke="#555" stroke-width="1.1"/><line x1="607.45" y1="383.80" x2="615.45" y2="383.80" stroke="#555" stroke-width="1.1"/><rect x="627.70" y="440.50" width="15.30" height="12.20" fill="#a2a2a4" stroke="#333" stroke-width="1"/><line x1="635.35" y1="440.00" x2="635.35" y2="433.30" stroke="#555" stroke-width="1.1"/><line x1="631.35" y1="433.30" x2="639.35" y2="433.30" stroke="#555" stroke-width="1.1"/><rect x="651.70" y="386.90" width="15.20" height="65.80" fill="#d5d5d5" stroke="#333" stroke-width="1"/><line x1="659.30" y1="386.40" x2="659.30" y2="370.10" stroke="#555" stroke-width="1.1"/><line x1="655.30" y1="370.10" x2="663.30" y2="370.10" stroke="#555" stroke-width="1.1"/><line x1="434.80" y1="502.30" x2="434.80" y2="591.50" stroke="#555" stroke-width="1"/><line x1="432.80" y1="591.00" x2="434.80" y2="591.00" stroke="#555" stroke-width="1"/><line x1="432.80" y1="573.36" x2="434.80" y2="573.36" stroke="#555" stroke-width="1"/><line x1="432.80" y1="555.72" x2="434.80" y2="555.72" stroke="#555" stroke-width="1"/><line x1="432.80" y1="538.08" x2="434.80" y2="538.08" stroke="#555" stroke-width="1"/><line x1="432.80" y1="520.44" x2="434.80" y2="520.44" stroke="#555" stroke-width="1"/><line x1="432.80" y1="502.80" x2="434.80" y2="502.80" stroke="#555" stroke-width="1"/><line x1="434.80" y1="591.00" x2="529.00" y2="591.00" stroke="#555" stroke-width="1"/><rect x="438.80" y="551.70" width="15.50" height="39.30" fill="#000"/><line x1="446.55" y1="551.70" x2="446.55" y2="544.80" stroke="#555" stroke-width="1.1"/><line x1="442.55" y1="544.80" x2="450.55" y2="544.80" stroke="#555" stroke-width="1.1"/><rect x="463.00" y="553.90" width="14.50" height="37.10" fill="#5f5f5f" stroke="#333" stroke-width="1"/><line x1="470.25" y1="553.40" x2="470.25" y2="541.40" stroke="#555" stroke-width="1.1"/><line x1="466.25" y1="541.40" x2="474.25" y2="541.40" stroke="#555" stroke-width="1.1"/><rect x="486.50" y="560.80" width="14.60" height="30.20" fill="#a2a2a4" stroke="#333" stroke-width="1"/><line x1="493.80" y1="560.30" x2="493.80" y2="548.00" stroke="#555" stroke-width="1.1"/><line x1="489.80" y1="548.00" x2="497.80" y2="548.00" stroke="#555" stroke-width="1.1"/><rect x="510.00" y="516.80" width="15.50" height="74.20" fill="#d5d5d5" stroke="#333" stroke-width="1"/><line x1="517.75" y1="516.30" x2="517.75" y2="514.30" stroke="#555" stroke-width="1.1"/><line x1="513.75" y1="514.30" x2="521.75" y2="514.30" stroke="#555" stroke-width="1.1"/><line x1="575.20" y1="502.10" x2="575.20" y2="591.00" stroke="#555" stroke-width="1"/><line x1="573.20" y1="590.50" x2="575.20" y2="590.50" stroke="#555" stroke-width="1"/><line x1="573.20" y1="568.52" x2="575.20" y2="568.52" stroke="#555" stroke-width="1"/><line x1="573.20" y1="546.55" x2="575.20" y2="546.55" stroke="#555" stroke-width="1"/><line x1="573.20" y1="524.58" x2="575.20" y2="524.58" stroke="#555" stroke-width="1"/><line x1="573.20" y1="502.60" x2="575.20" y2="502.60" stroke="#555" stroke-width="1"/><line x1="575.20" y1="590.50" x2="671.00" y2="590.50" stroke="#555" stroke-width="1"/><rect x="579.20" y="560.50" width="16.20" height="30.00" fill="#000"/><line x1="587.30" y1="560.50" x2="587.30" y2="553.20" stroke="#555" stroke-width="1.1"/><line x1="583.30" y1="553.20" x2="591.30" y2="553.20" stroke="#555" stroke-width="1.1"/><rect x="603.50" y="531.80" width="15.60" height="58.70" fill="#5f5f5f" stroke="#333" stroke-width="1"/><line x1="611.30" y1="531.30" x2="611.30" y2="526.50" stroke="#555" stroke-width="1.1"/><line x1="607.30" y1="526.50" x2="615.30" y2="526.50" stroke="#555" stroke-width="1.1"/><rect x="627.20" y="555.00" width="15.80" height="35.50" fill="#a2a2a4" stroke="#333" stroke-width="1"/><line x1="635.10" y1="554.50" x2="635.10" y2="544.40" stroke="#555" stroke-width="1.1"/><line x1="631.10" y1="544.40" x2="639.10" y2="544.40" stroke="#555" stroke-width="1.1"/><rect x="651.10" y="533.90" width="15.80" height="56.60" fill="#d5d5d5" stroke="#333" stroke-width="1"/><line x1="659.00" y1="533.40" x2="659.00" y2="529.50" stroke="#555" stroke-width="1.1"/><line x1="655.00" y1="529.50" x2="663.00" y2="529.50" stroke="#555" stroke-width="1.1"/><line x1="434.90" y1="703.50" x2="434.90" y2="793.00" stroke="#555" stroke-width="1"/><line x1="432.90" y1="792.50" x2="434.90" y2="792.50" stroke="#555" stroke-width="1"/><line x1="432.90" y1="763.00" x2="434.90" y2="763.00" stroke="#555" stroke-width="1"/><line x1="432.90" y1="733.50" x2="434.90" y2="733.50" stroke="#555" stroke-width="1"/><line x1="432.90" y1="704.00" x2="434.90" y2="704.00" stroke="#555" stroke-width="1"/><line x1="434.90" y1="792.50" x2="527.00" y2="792.50" stroke="#555" stroke-width="1"/><rect x="438.80" y="738.80" width="16.00" height="53.70" fill="#000"/><line x1="446.80" y1="738.80" x2="446.80" y2="733.90" stroke="#555" stroke-width="1.1"/><line x1="442.80" y1="733.90" x2="450.80" y2="733.90" stroke="#555" stroke-width="1.1"/><rect x="463.00" y="724.50" width="14.50" height="68.00" fill="#5f5f5f" stroke="#333" stroke-width="1"/><line x1="470.25" y1="724.00" x2="470.25" y2="715.00" stroke="#555" stroke-width="1.1"/><line x1="466.25" y1="715.00" x2="474.25" y2="715.00" stroke="#555" stroke-width="1.1"/><rect x="486.50" y="724.50" width="14.60" height="68.00" fill="#a2a2a4" stroke="#333" stroke-width="1"/><line x1="493.80" y1="724.00" x2="493.80" y2="711.50" stroke="#555" stroke-width="1.1"/><line x1="489.80" y1="711.50" x2="497.80" y2="711.50" stroke="#555" stroke-width="1.1"/><rect x="510.30" y="755.70" width="14.10" height="36.80" fill="#d5d5d5" stroke="#333" stroke-width="1"/><line x1="517.35" y1="755.20" x2="517.35" y2="754.60" stroke="#555" stroke-width="1.1"/><line x1="513.35" y1="754.60" x2="521.35" y2="754.60" stroke="#555" stroke-width="1.1"/><line x1="575.00" y1="703.20" x2="575.00" y2="793.00" stroke="#555" stroke-width="1"/><line x1="573.00" y1="792.50" x2="575.00" y2="792.50" stroke="#555" stroke-width="1"/><line x1="573.00" y1="770.30" x2="575.00" y2="770.30" stroke="#555" stroke-width="1"/><line x1="573.00" y1="748.10" x2="575.00" y2="748.10" stroke="#555" stroke-width="1"/><line x1="573.00" y1="725.90" x2="575.00" y2="725.90" stroke="#555" stroke-width="1"/><line x1="573.00" y1="703.70" x2="575.00" y2="703.70" stroke="#555" stroke-width="1"/><line x1="575.00" y1="792.50" x2="670.20" y2="792.50" stroke="#555" stroke-width="1"/><rect x="579.20" y="741.00" width="16.20" height="51.50" fill="#000"/><line x1="587.30" y1="741.00" x2="587.30" y2="730.60" stroke="#555" stroke-width="1.1"/><line x1="583.30" y1="730.60" x2="591.30" y2="730.60" stroke="#555" stroke-width="1.1"/><rect x="603.50" y="731.50" width="14.70" height="61.00" fill="#5f5f5f" stroke="#333" stroke-width="1"/><line x1="610.85" y1="731.00" x2="610.85" y2="721.50" stroke="#555" stroke-width="1.1"/><line x1="606.85" y1="721.50" x2="614.85" y2="721.50" stroke="#555" stroke-width="1.1"/><rect x="627.00" y="729.30" width="15.00" height="63.20" fill="#a2a2a4" stroke="#333" stroke-width="1"/><line x1="634.50" y1="728.80" x2="634.50" y2="715.50" stroke="#555" stroke-width="1.1"/><line x1="630.50" y1="715.50" x2="638.50" y2="715.50" stroke="#555" stroke-width="1.1"/><rect x="650.70" y="781.90" width="14.60" height="10.60" fill="#d5d5d5" stroke="#333" stroke-width="1"/><line x1="658.00" y1="781.40" x2="658.00" y2="778.30" stroke="#555" stroke-width="1.1"/><line x1="654.00" y1="778.30" x2="662.00" y2="778.30" stroke="#555" stroke-width="1.1"/><rect x="444.95" y="603.60" width="3.30" height="1.10" fill="#111"/><rect x="468.20" y="603.05" width="5.20" height="1.20" fill="#111"/><rect x="470.20" y="601.05" width="1.20" height="5.20" fill="#111"/><rect x="492.85" y="603.60" width="3.30" height="1.10" fill="#111"/><rect x="517.00" y="603.05" width="5.20" height="1.20" fill="#111"/><rect x="519.00" y="601.05" width="1.20" height="5.20" fill="#111"/><rect x="444.95" y="618.55" width="3.30" height="1.10" fill="#111"/><rect x="469.15" y="618.55" width="3.30" height="1.10" fill="#111"/><rect x="491.90" y="618.00" width="5.20" height="1.20" fill="#111"/><rect x="493.90" y="616.00" width="1.20" height="5.20" fill="#111"/><rect x="517.00" y="618.00" width="5.20" height="1.20" fill="#111"/><rect x="519.00" y="616.00" width="1.20" height="5.20" fill="#111"/><rect x="585.55" y="603.60" width="3.30" height="1.10" fill="#111"/><rect x="607.70" y="603.05" width="5.20" height="1.20" fill="#111"/><rect x="609.70" y="601.05" width="1.20" height="5.20" fill="#111"/><rect x="633.05" y="603.60" width="3.30" height="1.10" fill="#111"/><rect x="657.20" y="603.05" width="5.20" height="1.20" fill="#111"/><rect x="659.20" y="601.05" width="1.20" height="5.20" fill="#111"/><rect x="585.55" y="618.55" width="3.30" height="1.10" fill="#111"/><rect x="608.65" y="618.55" width="3.30" height="1.10" fill="#111"/><rect x="632.10" y="618.00" width="5.20" height="1.20" fill="#111"/><rect x="634.10" y="616.00" width="1.20" height="5.20" fill="#111"/><rect x="657.20" y="618.00" width="5.20" height="1.20" fill="#111"/><rect x="659.20" y="616.00" width="1.20" height="5.20" fill="#111"/><rect x="443.85" y="802.25" width="3.30" height="1.10" fill="#111"/><rect x="466.10" y="801.70" width="5.20" height="1.20" fill="#111"/><rect x="468.10" y="799.70" width="1.20" height="5.20" fill="#111"/><rect x="491.35" y="802.25" width="3.30" height="1.10" fill="#111"/><rect x="516.10" y="801.70" width="5.20" height="1.20" fill="#111"/><rect x="518.10" y="799.70" width="1.20" height="5.20" fill="#111"/><rect x="443.85" y="817.65" width="3.30" height="1.10" fill="#111"/><rect x="467.05" y="817.65" width="3.30" height="1.10" fill="#111"/><rect x="490.40" y="817.10" width="5.20" height="1.20" fill="#111"/><rect x="492.40" y="815.10" width="1.20" height="5.20" fill="#111"/><rect x="516.10" y="817.10" width="5.20" height="1.20" fill="#111"/><rect x="518.10" y="815.10" width="1.20" height="5.20" fill="#111"/><rect x="584.75" y="803.25" width="3.30" height="1.10" fill="#111"/><rect x="607.40" y="802.70" width="5.20" height="1.20" fill="#111"/><rect x="609.40" y="800.70" width="1.20" height="5.20" fill="#111"/><rect x="632.65" y="803.25" width="3.30" height="1.10" fill="#111"/><rect x="656.40" y="802.70" width="5.20" height="1.20" fill="#111"/><rect x="658.40" y="800.70" width="1.20" height="5.20" fill="#111"/><rect x="584.75" y="818.55" width="3.30" height="1.10" fill="#111"/><rect x="608.35" y="818.55" width="3.30" height="1.10" fill="#111"/><rect x="631.70" y="818.00" width="5.20" height="1.20" fill="#111"/><rect x="633.70" y="816.00" width="1.20" height="5.20" fill="#111"/><rect x="656.40" y="818.00" width="5.20" height="1.20" fill="#111"/><rect x="658.40" y="816.00" width="1.20" height="5.20" fill="#111"/><text transform="matrix(0.9375,0.0000,0.0000,1.0667,16.5312,10.7333)" font-size="15" font-weight="bold" fill="#000">a</text><text transform="matrix(1.0142,0.0000,0.0000,1.0811,16.7465,67.7297)" font-size="13" fill="#000">TUBO</text><text transform="matrix(1.0623,0.0000,0.0000,0.9838,264.4689,33.9541)" font-size="12.5" fill="#000">ctrl</text><text transform="matrix(0.0000,-0.9793,0.9796,0.0000,37.1061,204.2345)" font-size="13" font-weight="bold" fill="#000">IFN-γ<tspan font-size="8.5" dy="-3.6">+</tspan><tspan dy="3.6"> cells/1 × 10</tspan><tspan font-size="8.5" dy="-3.6">6</tspan><tspan dy="3.6"></tspan></text><text transform="matrix(1.0685,0.0000,0.0000,0.9939,44.3658,95.3515)" font-size="11.5" fill="#222">800</text><text transform="matrix(1.0685,0.0000,0.0000,0.9939,44.3658,127.3515)" font-size="11.5" fill="#222">600</text><text transform="matrix(1.0541,0.0000,0.0000,0.9939,44.6365,159.4515)" font-size="11.5" fill="#222">400</text><text transform="matrix(1.0685,0.0000,0.0000,0.9939,44.3658,191.2515)" font-size="11.5" fill="#222">200</text><text transform="matrix(1.0182,0.0000,0.0000,0.9455,53.3909,222.6636)" font-size="11.5" fill="#222">0</text><text transform="matrix(1.1333,0.0000,0.0000,0.9684,134.0000,148.7158)" font-size="13" font-weight="bold" fill="#000">***</text><text transform="matrix(1.1333,0.0000,0.0000,1.0316,182.5000,153.6842)" font-size="13" font-weight="bold" fill="#000">***</text><text transform="matrix(1.1733,0.0000,0.0000,0.9684,230.1000,121.7158)" font-size="13" font-weight="bold" fill="#000">***</text><text transform="matrix(1.0884,0.0000,0.0000,1.0222,231.3279,106.3000)" font-size="10" font-weight="bold" fill="#000" stroke="#222" stroke-width="0.25">##</text><text transform="matrix(1.0565,0.0000,0.0000,1.0857,22.5718,235.5286)" font-size="12.5" font-weight="bold" fill="#000">α-neu</text><text transform="matrix(1.0660,0.0000,0.0000,1.0556,22.5670,254.4361)" font-size="12.5" font-weight="bold" fill="#000">α-4-1BB</text><text transform="matrix(1.0759,0.0000,0.0000,0.9674,16.5241,311.4581)" font-size="14.5" font-weight="bold" fill="#000">b</text><text transform="matrix(1.0114,0.0000,0.0000,1.0051,61.8472,331.6487)" font-size="13" font-weight="bold" fill="#000">Vehicle</text><text transform="matrix(1.0206,0.0000,0.0000,1.0621,149.7897,331.7345)" font-size="13" font-weight="bold" fill="#000">α-neu</text><text transform="matrix(1.0195,0.0000,0.0000,1.0378,227.4903,331.7405)" font-size="13" font-weight="bold" fill="#000">α-4-1BB</text><text transform="matrix(1.0235,0.0000,0.0000,1.0759,320.4882,324.5310)" font-size="13" font-weight="bold" fill="#000">α-neu</text><text transform="matrix(1.0067,0.0000,0.0000,0.9622,308.0967,339.9595)" font-size="13" font-weight="bold" fill="#000">+ α-4-1BB</text><text transform="matrix(0.0000,-1.0140,0.7918,0.0000,18.7224,423.7605)" font-size="13" fill="#000">CD45 gated</text><text transform="matrix(0.0000,-1.0120,1.0054,0.0000,42.7486,401.5060)" font-size="13" font-weight="bold" fill="#000">CD8</text><text transform="matrix(1.0245,0.0000,0.0000,0.9667,88.6878,437.4583)" font-size="12.5" font-weight="bold" fill="#000">CD4</text><text transform="matrix(0.0000,-1.0115,0.9838,0.0000,43.0541,507.7058)" font-size="13" font-weight="bold" fill="#000">CD107α</text><text transform="matrix(1.0351,0.0000,0.0000,1.0111,88.6825,531.6472)" font-size="12.5" font-weight="bold" fill="#000">CD8</text><text transform="matrix(0.0000,-1.0525,1.0667,0.0000,43.3333,592.7893)" font-size="12.5" font-weight="bold" fill="#000">IFN-γ</text><text transform="matrix(1.0351,0.0000,0.0000,1.0222,88.6825,625.4444)" font-size="12.5" font-weight="bold" fill="#000">CD8</text><text transform="matrix(0.0000,-1.0215,0.8245,0.0000,18.6327,572.2661)" font-size="13" fill="#000">CD8 gated</text><text transform="matrix(1.0429,0.0000,0.0000,0.9250,17.1786,666.7687)" font-size="14.5" font-weight="bold" fill="#000">c</text><text transform="matrix(1.0068,0.0000,0.0000,0.9949,61.2483,695.9513)" font-size="13" font-weight="bold" fill="#000">Vehicle</text><text transform="matrix(1.0412,0.0000,0.0000,1.0897,148.4794,696.6276)" font-size="13" font-weight="bold" fill="#000">α-neu</text><text transform="matrix(1.0256,0.0000,0.0000,1.0595,227.1872,697.0351)" font-size="13" font-weight="bold" fill="#000">α-4-1BB</text><text transform="matrix(1.0529,0.0000,0.0000,1.0759,319.4735,689.1310)" font-size="13" font-weight="bold" fill="#000">α-neu</text><text transform="matrix(1.0133,0.0000,0.0000,1.1027,307.1933,703.7243)" font-size="13" font-weight="bold" fill="#000">+ α-4-1BB</text><text transform="matrix(0.0000,-1.0215,0.8327,0.0000,17.2102,783.7661)" font-size="13" fill="#000">CD8 gated</text><text transform="matrix(0.0000,-0.9701,1.0256,0.0000,44.0436,767.6850)" font-size="13.5" font-weight="bold" fill="#000">CD62L</text><text transform="matrix(0.9954,0.0000,0.0000,0.9189,88.9023,796.7703)" font-size="13" font-weight="bold" fill="#000">CD44</text><text transform="matrix(1.0557,0.0000,0.0000,0.9333,463.8722,351.6667)" font-size="12.5" font-weight="bold" fill="#000">CD8</text><text transform="matrix(1.0245,0.0000,0.0000,0.8778,608.6878,351.4806)" font-size="12.5" font-weight="bold" fill="#000">CD4</text><text transform="matrix(1.0308,0.0000,0.0000,0.9333,449.4846,485.9667)" font-size="12.5" font-weight="bold" fill="#000">CD107a</text><text transform="matrix(1.0400,0.0000,0.0000,0.9600,608.5200,486.2000)" font-size="12.5" font-weight="bold" fill="#000">IFNγ</text><text transform="matrix(1.0381,0.0000,0.0000,0.8556,461.0810,686.3861)" font-size="12.5" font-weight="bold" fill="#000">CD44</text><text transform="matrix(1.0441,0.0000,0.0000,1.0000,565.6780,686.5500)" font-size="12.5" font-weight="bold" fill="#000">CD44<tspan font-size="8" dy="-4">+</tspan><tspan dy="4">CD62L</tspan><tspan font-size="8" dy="-4">-</tspan><tspan dy="4"></tspan></text><text transform="matrix(0.0000,-0.9798,0.8571,0.0000,401.9857,435.4449)" font-size="13" font-weight="bold" fill="#000">% of CD8<tspan font-size="9" dy="-5">+</tspan><tspan dy="5"></tspan></text><text transform="matrix(0.0000,-0.9841,0.8286,0.0000,416.6929,448.1841)" font-size="13" font-weight="bold" fill="#000">in CD45<tspan font-size="9" dy="-5">+</tspan><tspan dy="5"> cells</tspan></text><text transform="matrix(0.0000,-0.9911,0.8667,0.0000,544.8833,431.9478)" font-size="13" font-weight="bold" fill="#000">% of CD4<tspan font-size="9" dy="-5">+</tspan><tspan dy="5"></tspan></text><text transform="matrix(0.0000,-0.9982,0.8571,0.0000,559.9857,444.7982)" font-size="13" font-weight="bold" fill="#000">in CD45<tspan font-size="9" dy="-5">+</tspan><tspan dy="5"> cells</tspan></text><text transform="matrix(0.0000,-0.9880,0.9048,0.0000,401.2738,588.0470)" font-size="13" font-weight="bold" fill="#000">% of CD107a<tspan font-size="9" dy="-5">+</tspan><tspan dy="5"></tspan></text><text transform="matrix(0.0000,-0.9974,0.8952,0.0000,417.7762,588.7974)" font-size="13" font-weight="bold" fill="#000">in CD8<tspan font-size="9" dy="-5">+</tspan><tspan dy="5"> cells</tspan></text><text transform="matrix(0.0000,-1.0179,0.9306,0.0000,541.7408,576.3545)" font-size="13" font-weight="bold" fill="#000">% of IFNγ</text><text transform="matrix(0.0000,-1.0065,0.8762,0.0000,557.6810,584.2065)" font-size="13" font-weight="bold" fill="#000">in CD8<tspan font-size="9" dy="-5">+</tspan><tspan dy="5"> cells</tspan></text><text transform="matrix(0.0000,-0.9826,0.9524,0.0000,402.0619,788.0457)" font-size="13" font-weight="bold" fill="#000">% of CD44<tspan font-size="9" dy="-5">+</tspan><tspan dy="5"></tspan></text><text transform="matrix(0.0000,-0.9935,0.8857,0.0000,417.3786,791.9935)" font-size="13" font-weight="bold" fill="#000">in CD8<tspan font-size="9" dy="-5">+</tspan><tspan dy="5"> cells</tspan></text><text transform="matrix(0.0000,-0.9927,1.0667,0.0000,542.9333,807.9482)" font-size="13" font-weight="bold" fill="#000">% of CD44+CD62L-</text><text transform="matrix(0.0000,-0.9944,1.0154,0.0000,557.9462,789.8944)" font-size="13" font-weight="bold" fill="#000">in CD8+ cells</text><text transform="matrix(1.0061,0.0000,0.0000,1.0061,417.9758,370.7985)" font-size="11.5" fill="#222">80</text><text transform="matrix(1.0061,0.0000,0.0000,1.0061,417.9758,392.5485)" font-size="11.5" fill="#222">60</text><text transform="matrix(1.0061,0.0000,0.0000,1.0061,417.9758,414.2985)" font-size="11.5" fill="#222">40</text><text transform="matrix(1.0061,0.0000,0.0000,1.0061,417.9758,436.0485)" font-size="11.5" fill="#222">20</text><text transform="matrix(1.0061,0.0000,0.0000,1.0061,424.2636,457.7985)" font-size="11.5" fill="#222">0</text><text transform="matrix(1.0061,0.0000,0.0000,1.0061,559.9758,370.7985)" font-size="11.5" fill="#222">15</text><text transform="matrix(1.0061,0.0000,0.0000,1.0061,559.9758,400.0985)" font-size="11.5" fill="#222">10</text><text transform="matrix(1.0061,0.0000,0.0000,1.0061,566.2636,429.2985)" font-size="11.5" fill="#222">5</text><text transform="matrix(1.0061,0.0000,0.0000,1.0061,566.2636,458.4985)" font-size="11.5" fill="#222">0</text><text transform="matrix(1.0667,0.0000,0.0000,1.0667,418.5333,508.5333)" font-size="11.5" fill="#222">25</text><text transform="matrix(1.0667,0.0000,0.0000,1.0667,418.5333,526.1333)" font-size="11.5" fill="#222">20</text><text transform="matrix(1.0667,0.0000,0.0000,1.0667,418.5333,543.8333)" font-size="11.5" fill="#222">15</text><text transform="matrix(1.0667,0.0000,0.0000,1.0667,418.5333,561.4333)" font-size="11.5" fill="#222">10</text><text transform="matrix(1.0667,0.0000,0.0000,1.0667,425.2000,579.1333)" font-size="11.5" fill="#222">5</text><text transform="matrix(1.0667,0.0000,0.0000,1.0667,425.2000,596.7333)" font-size="11.5" fill="#222">0</text><text transform="matrix(1.0424,0.0000,0.0000,1.0424,559.5303,507.1394)" font-size="11.5" fill="#222">20</text><text transform="matrix(1.0424,0.0000,0.0000,1.0424,559.5303,529.1394)" font-size="11.5" fill="#222">15</text><text transform="matrix(1.0424,0.0000,0.0000,1.0424,559.5303,551.1394)" font-size="11.5" fill="#222">10</text><text transform="matrix(1.0424,0.0000,0.0000,1.0424,566.0455,573.0394)" font-size="11.5" fill="#222">5</text><text transform="matrix(1.0424,0.0000,0.0000,1.0424,566.0455,595.0394)" font-size="11.5" fill="#222">0</text><text transform="matrix(0.9939,0.0000,0.0000,0.9939,420.0242,709.3515)" font-size="11.5" fill="#222">60</text><text transform="matrix(0.9939,0.0000,0.0000,0.9939,420.0242,738.8515)" font-size="11.5" fill="#222">40</text><text transform="matrix(0.9939,0.0000,0.0000,0.9939,420.0242,768.3515)" font-size="11.5" fill="#222">20</text><text transform="matrix(0.9939,0.0000,0.0000,0.9939,426.2364,797.8515)" font-size="11.5" fill="#222">0</text><text transform="matrix(0.9939,0.0000,0.0000,0.9939,559.4242,709.5515)" font-size="11.5" fill="#222">40</text><text transform="matrix(0.9939,0.0000,0.0000,0.9939,559.4242,731.8515)" font-size="11.5" fill="#222">30</text><text transform="matrix(0.9939,0.0000,0.0000,0.9939,559.4242,754.0515)" font-size="11.5" fill="#222">20</text><text transform="matrix(0.9939,0.0000,0.0000,0.9939,559.4242,776.3515)" font-size="11.5" fill="#222">10</text><text transform="matrix(0.9939,0.0000,0.0000,0.9939,565.6364,798.5515)" font-size="11.5" fill="#222">0</text><text transform="matrix(1.1000,0.0000,0.0000,0.9684,466.0000,418.7158)" font-size="13" font-weight="bold" fill="#222">**</text><text transform="matrix(1.1267,0.0000,0.0000,1.0526,487.5000,401.8737)" font-size="13" font-weight="bold" fill="#222">***</text><text transform="matrix(1.0667,0.0000,0.0000,0.9241,487.7333,388.0000)" font-size="10.5" font-weight="bold" fill="#222" stroke="#222" stroke-width="0.25">##</text><text transform="matrix(1.1467,0.0000,0.0000,1.0526,510.5000,385.7737)" font-size="13" font-weight="bold" fill="#222">***</text><text transform="matrix(1.0261,0.0000,0.0000,0.9103,509.1435,371.8000)" font-size="10.5" font-weight="bold" fill="#222" stroke="#222" stroke-width="0.25">###</text><text transform="matrix(1.0000,0.0000,0.0000,1.0519,390.5000,606.5370)" font-size="12" font-weight="bold" fill="#000">α-neu</text><text transform="matrix(0.9533,0.0000,0.0000,0.8353,390.5233,621.5912)" font-size="12" font-weight="bold" fill="#000">α-4-1BB</text><text transform="matrix(0.9841,0.0000,0.0000,1.1556,389.5079,806.3111)" font-size="12" font-weight="bold" fill="#000">α-neu</text><text transform="matrix(0.9333,0.0000,0.0000,0.9059,389.5333,820.7735)" font-size="12" font-weight="bold" fill="#000">α-4-1BB</text><text transform="matrix(1.0900,0.0000,0.0000,0.9263,606.8000,385.2368)" font-size="13" font-weight="bold" fill="#222">**</text><text transform="matrix(1.0578,0.0000,0.0000,0.9793,629.8356,420.7000)" font-size="10.5" font-weight="bold" fill="#222" stroke="#222" stroke-width="0.25">##</text><text transform="matrix(1.0400,0.0000,0.0000,0.8632,632.6000,434.3684)" font-size="13" font-weight="bold" fill="#222">*</text><text transform="matrix(1.0400,0.0000,0.0000,0.8842,656.3000,369.4579)" font-size="13" font-weight="bold" fill="#222">*</text><text transform="matrix(1.0261,0.0000,0.0000,1.0207,509.5435,501.5000)" font-size="10.5" font-weight="bold" fill="#222" stroke="#222" stroke-width="0.25">###</text><text transform="matrix(1.1000,0.0000,0.0000,0.9895,515.5000,514.6053)" font-size="13" font-weight="bold" fill="#222">*</text><text transform="matrix(1.0600,0.0000,0.0000,1.0737,608.6000,525.5632)" font-size="13" font-weight="bold" fill="#222">*</text><text transform="matrix(1.0800,0.0000,0.0000,1.0105,656.5000,527.0947)" font-size="13" font-weight="bold" fill="#222">*</text><text transform="matrix(1.1273,0.0000,0.0000,1.0207,514.5182,738.9000)" font-size="10.5" font-weight="bold" fill="#222" stroke="#222" stroke-width="0.25">#</text><text transform="matrix(1.1600,0.0000,0.0000,1.0316,512.1000,753.0842)" font-size="13" font-weight="bold" fill="#333">**</text><text transform="matrix(1.0756,0.0000,0.0000,1.0483,652.6311,764.7000)" font-size="10.5" font-weight="bold" fill="#222" stroke="#222" stroke-width="0.25">##</text><text transform="matrix(1.1700,0.0000,0.0000,1.1368,653.0000,779.5316)" font-size="13" font-weight="bold" fill="#222">**</text>
</svg></body></html>
